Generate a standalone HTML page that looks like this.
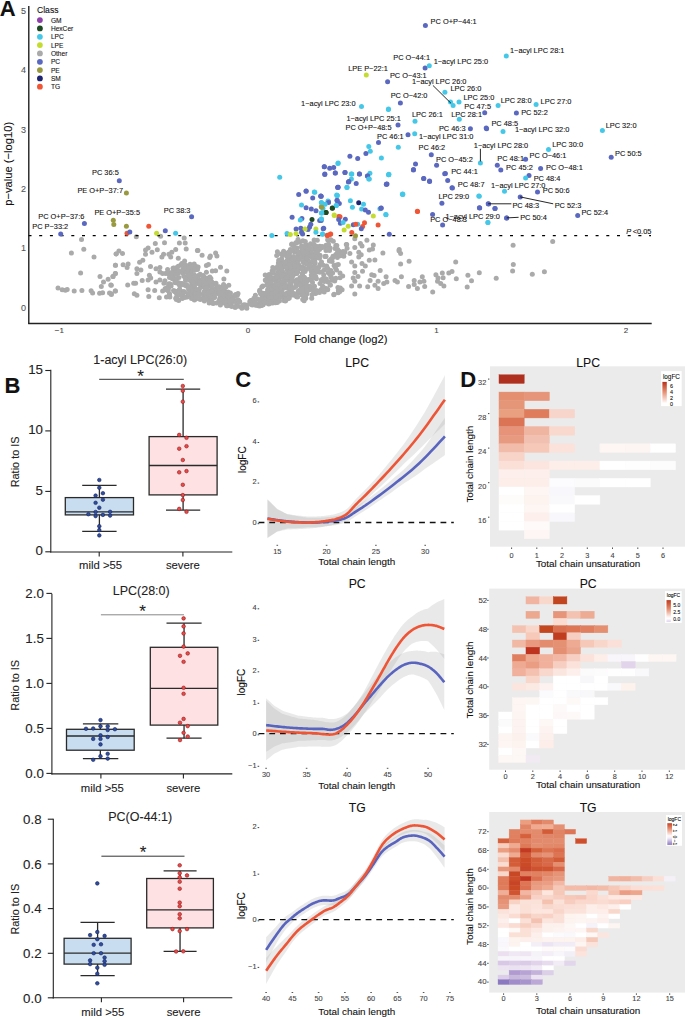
<!DOCTYPE html>
<html><head><meta charset="utf-8"><style>
html,body{margin:0;padding:0;background:#fff;}
svg{display:block;font-family:"Liberation Sans",sans-serif;}
text{stroke-width:0.1px;}
</style></head><body>
<svg width="685" height="1017" viewBox="0 0 685 1017">
<rect width="685" height="1017" fill="#fff"/>
<text x="460.2" y="386.7" font-size="22" font-weight="bold" fill="#111" stroke="#111">D</text>
<rect x="490" y="366.3" width="195" height="180.40000000000003" fill="#ebebeb"/>
<rect x="498.99" y="374.79" width="25.23" height="8.63" fill="#b03020" stroke="#b03020" stroke-width="0.4"/>
<rect x="498.99" y="392.05" width="25.23" height="8.63" fill="#e38f70" stroke="#e38f70" stroke-width="0.4"/>
<rect x="524.22" y="392.05" width="25.23" height="8.63" fill="#e6957a" stroke="#e6957a" stroke-width="0.4"/>
<rect x="498.99" y="400.68" width="25.23" height="8.63" fill="#e59578" stroke="#e59578" stroke-width="0.4"/>
<rect x="498.99" y="409.31" width="25.23" height="8.63" fill="#e8a080" stroke="#e8a080" stroke-width="0.4"/>
<rect x="524.22" y="409.31" width="25.23" height="8.63" fill="#de7c5c" stroke="#de7c5c" stroke-width="0.4"/>
<rect x="549.45" y="409.31" width="25.23" height="8.63" fill="#f8d5ca" stroke="#f8d5ca" stroke-width="0.4"/>
<rect x="498.99" y="417.94" width="25.23" height="8.63" fill="#db7455" stroke="#db7455" stroke-width="0.4"/>
<rect x="498.99" y="426.56" width="25.23" height="8.63" fill="#e6937a" stroke="#e6937a" stroke-width="0.4"/>
<rect x="524.22" y="426.56" width="25.23" height="8.63" fill="#efb5a0" stroke="#efb5a0" stroke-width="0.4"/>
<rect x="549.45" y="426.56" width="25.23" height="8.63" fill="#f9d8ce" stroke="#f9d8ce" stroke-width="0.4"/>
<rect x="498.99" y="435.20" width="25.23" height="8.63" fill="#e89a80" stroke="#e89a80" stroke-width="0.4"/>
<rect x="524.22" y="435.20" width="25.23" height="8.63" fill="#f2c0b0" stroke="#f2c0b0" stroke-width="0.4"/>
<rect x="498.99" y="443.83" width="25.23" height="8.63" fill="#f2bcaa" stroke="#f2bcaa" stroke-width="0.4"/>
<rect x="524.22" y="443.83" width="25.23" height="8.63" fill="#f5c8b8" stroke="#f5c8b8" stroke-width="0.4"/>
<rect x="549.45" y="443.83" width="25.23" height="8.63" fill="#fbe2da" stroke="#fbe2da" stroke-width="0.4"/>
<rect x="599.90" y="443.83" width="25.23" height="8.63" fill="#fdf6f3" stroke="#fdf6f3" stroke-width="0.4"/>
<rect x="625.13" y="443.83" width="25.23" height="8.63" fill="#fdf5f2" stroke="#fdf5f2" stroke-width="0.4"/>
<rect x="650.37" y="443.83" width="25.23" height="8.63" fill="#ffffff" stroke="#ffffff" stroke-width="0.4"/>
<rect x="498.99" y="452.46" width="25.23" height="8.63" fill="#f8d3c8" stroke="#f8d3c8" stroke-width="0.4"/>
<rect x="498.99" y="461.09" width="25.23" height="8.63" fill="#fbe0d8" stroke="#fbe0d8" stroke-width="0.4"/>
<rect x="524.22" y="461.09" width="25.23" height="8.63" fill="#fbe5de" stroke="#fbe5de" stroke-width="0.4"/>
<rect x="549.45" y="461.09" width="25.23" height="8.63" fill="#fdeee9" stroke="#fdeee9" stroke-width="0.4"/>
<rect x="574.67" y="461.09" width="25.23" height="8.63" fill="#fdeee9" stroke="#fdeee9" stroke-width="0.4"/>
<rect x="599.90" y="461.09" width="25.23" height="8.63" fill="#ffffff" stroke="#ffffff" stroke-width="0.4"/>
<rect x="625.13" y="461.09" width="25.23" height="8.63" fill="#fefefe" stroke="#fefefe" stroke-width="0.4"/>
<rect x="650.37" y="461.09" width="25.23" height="8.63" fill="#fcfcfc" stroke="#fcfcfc" stroke-width="0.4"/>
<rect x="498.99" y="469.72" width="25.23" height="8.63" fill="#fdf0ec" stroke="#fdf0ec" stroke-width="0.4"/>
<rect x="524.22" y="469.72" width="25.23" height="8.63" fill="#fdf0ec" stroke="#fdf0ec" stroke-width="0.4"/>
<rect x="498.99" y="478.35" width="25.23" height="8.63" fill="#fdeee9" stroke="#fdeee9" stroke-width="0.4"/>
<rect x="524.22" y="478.35" width="25.23" height="8.63" fill="#fdeeea" stroke="#fdeeea" stroke-width="0.4"/>
<rect x="549.45" y="478.35" width="25.23" height="8.63" fill="#fcfbfd" stroke="#fcfbfd" stroke-width="0.4"/>
<rect x="574.67" y="478.35" width="25.23" height="8.63" fill="#fbfbfc" stroke="#fbfbfc" stroke-width="0.4"/>
<rect x="599.90" y="478.35" width="25.23" height="8.63" fill="#ffffff" stroke="#ffffff" stroke-width="0.4"/>
<rect x="625.13" y="478.35" width="25.23" height="8.63" fill="#ffffff" stroke="#ffffff" stroke-width="0.4"/>
<rect x="498.99" y="486.98" width="25.23" height="8.63" fill="#ffffff" stroke="#ffffff" stroke-width="0.4"/>
<rect x="524.22" y="486.98" width="25.23" height="8.63" fill="#fdf6f3" stroke="#fdf6f3" stroke-width="0.4"/>
<rect x="549.45" y="486.98" width="25.23" height="8.63" fill="#f8f8fc" stroke="#f8f8fc" stroke-width="0.4"/>
<rect x="498.99" y="495.61" width="25.23" height="8.63" fill="#fefcfa" stroke="#fefcfa" stroke-width="0.4"/>
<rect x="524.22" y="495.61" width="25.23" height="8.63" fill="#fdf3ef" stroke="#fdf3ef" stroke-width="0.4"/>
<rect x="549.45" y="495.61" width="25.23" height="8.63" fill="#f9f9fc" stroke="#f9f9fc" stroke-width="0.4"/>
<rect x="574.67" y="495.61" width="25.23" height="8.63" fill="#ffffff" stroke="#ffffff" stroke-width="0.4"/>
<rect x="498.99" y="504.24" width="25.23" height="8.63" fill="#ffffff" stroke="#ffffff" stroke-width="0.4"/>
<rect x="524.22" y="504.24" width="25.23" height="8.63" fill="#fdf6f3" stroke="#fdf6f3" stroke-width="0.4"/>
<rect x="549.45" y="504.24" width="25.23" height="8.63" fill="#ffffff" stroke="#ffffff" stroke-width="0.4"/>
<rect x="498.99" y="512.87" width="25.23" height="8.63" fill="#ffffff" stroke="#ffffff" stroke-width="0.4"/>
<rect x="524.22" y="512.87" width="25.23" height="8.63" fill="#fdf0ec" stroke="#fdf0ec" stroke-width="0.4"/>
<rect x="549.45" y="512.87" width="25.23" height="8.63" fill="#f8f8fc" stroke="#f8f8fc" stroke-width="0.4"/>
<rect x="498.99" y="521.50" width="25.23" height="8.63" fill="#ffffff" stroke="#ffffff" stroke-width="0.4"/>
<rect x="524.22" y="521.50" width="25.23" height="8.63" fill="#fefafa" stroke="#fefafa" stroke-width="0.4"/>
<rect x="524.22" y="530.12" width="25.23" height="8.63" fill="#fdf6f4" stroke="#fdf6f4" stroke-width="0.4"/>
<text x="588.1" y="366.6" font-size="12.2" fill="#111" stroke="#111" text-anchor="middle">LPC</text>
<text x="486.3" y="385.2" font-size="7.4" fill="#444" stroke="#444" text-anchor="end">32</text>
<line x1="488" y1="379.1" x2="489.4" y2="379.1" stroke="#444" stroke-width="1"/>
<text x="486.3" y="419.7" font-size="7.4" fill="#444" stroke="#444" text-anchor="end">28</text>
<line x1="488" y1="413.6" x2="489.4" y2="413.6" stroke="#444" stroke-width="1"/>
<text x="486.3" y="454.2" font-size="7.4" fill="#444" stroke="#444" text-anchor="end">24</text>
<line x1="488" y1="448.1" x2="489.4" y2="448.1" stroke="#444" stroke-width="1"/>
<text x="486.3" y="488.7" font-size="7.4" fill="#444" stroke="#444" text-anchor="end">20</text>
<line x1="488" y1="482.7" x2="489.4" y2="482.7" stroke="#444" stroke-width="1"/>
<text x="486.3" y="523.2" font-size="7.4" fill="#444" stroke="#444" text-anchor="end">16</text>
<line x1="488" y1="517.2" x2="489.4" y2="517.2" stroke="#444" stroke-width="1"/>
<line x1="511.6" y1="547.5" x2="511.6" y2="548.9000000000001" stroke="#444" stroke-width="1"/>
<text x="511.6" y="557.8" font-size="7.3" fill="#444" stroke="#444" text-anchor="middle">0</text>
<line x1="536.8" y1="547.5" x2="536.8" y2="548.9000000000001" stroke="#444" stroke-width="1"/>
<text x="536.8" y="557.8" font-size="7.3" fill="#444" stroke="#444" text-anchor="middle">1</text>
<line x1="562.1" y1="547.5" x2="562.1" y2="548.9000000000001" stroke="#444" stroke-width="1"/>
<text x="562.1" y="557.8" font-size="7.3" fill="#444" stroke="#444" text-anchor="middle">2</text>
<line x1="587.3" y1="547.5" x2="587.3" y2="548.9000000000001" stroke="#444" stroke-width="1"/>
<text x="587.3" y="557.8" font-size="7.3" fill="#444" stroke="#444" text-anchor="middle">3</text>
<line x1="612.5" y1="547.5" x2="612.5" y2="548.9000000000001" stroke="#444" stroke-width="1"/>
<text x="612.5" y="557.8" font-size="7.3" fill="#444" stroke="#444" text-anchor="middle">4</text>
<line x1="637.8" y1="547.5" x2="637.8" y2="548.9000000000001" stroke="#444" stroke-width="1"/>
<text x="637.8" y="557.8" font-size="7.3" fill="#444" stroke="#444" text-anchor="middle">5</text>
<line x1="663.0" y1="547.5" x2="663.0" y2="548.9000000000001" stroke="#444" stroke-width="1"/>
<text x="663.0" y="557.8" font-size="7.3" fill="#444" stroke="#444" text-anchor="middle">6</text>
<text x="588.1" y="567.0" font-size="9.9" fill="#111" stroke="#111" text-anchor="middle">Total chain unsaturation</text>
<text transform="translate(473,464.2) rotate(-90)" font-size="9.9" fill="#111" stroke="#111" text-anchor="middle">Total chain length</text>
<rect x="661.1" y="371.1" width="20.6" height="35.0" fill="#ffffff"/><text x="662.9" y="378.5" font-size="6.4" fill="#111" stroke="#111">logFC</text><defs><linearGradient id="g371" x1="0" y1="0" x2="0" y2="1"><stop offset="0" stop-color="#b8301a"/><stop offset="0.45" stop-color="#e48a6c"/><stop offset="1" stop-color="#fff8f5"/></linearGradient></defs><rect x="662.4" y="381.9" width="4.4" height="20.9" fill="url(#g371)"/><text x="669.9" y="387.9" font-size="5.4" fill="#111" stroke="#111">6</text><text x="669.9" y="394.0" font-size="5.4" fill="#111" stroke="#111">4</text><text x="669.9" y="400.1" font-size="5.4" fill="#111" stroke="#111">2</text><text x="669.9" y="406.0" font-size="5.4" fill="#111" stroke="#111">0</text>
<rect x="489.2" y="588.6" width="195.8" height="181.10000000000002" fill="#ebebeb"/>
<rect x="525.97" y="596.80" width="13.65" height="7.20" fill="#f0b4a0" stroke="#f0b4a0" stroke-width="0.4"/>
<rect x="539.62" y="596.80" width="13.65" height="7.20" fill="#f9d8cc" stroke="#f9d8cc" stroke-width="0.4"/>
<rect x="553.27" y="596.80" width="13.65" height="7.20" fill="#c04520" stroke="#c04520" stroke-width="0.4"/>
<rect x="525.97" y="611.20" width="13.65" height="7.20" fill="#eda890" stroke="#eda890" stroke-width="0.4"/>
<rect x="553.27" y="611.20" width="13.65" height="7.20" fill="#e6957b" stroke="#e6957b" stroke-width="0.4"/>
<rect x="566.92" y="611.20" width="13.65" height="7.20" fill="#f4c2b0" stroke="#f4c2b0" stroke-width="0.4"/>
<rect x="580.57" y="611.20" width="13.65" height="7.20" fill="#eeab94" stroke="#eeab94" stroke-width="0.4"/>
<rect x="553.27" y="618.40" width="13.65" height="7.20" fill="#fbdcd0" stroke="#fbdcd0" stroke-width="0.4"/>
<rect x="512.32" y="625.60" width="13.65" height="7.20" fill="#f4c2b0" stroke="#f4c2b0" stroke-width="0.4"/>
<rect x="525.97" y="625.60" width="13.65" height="7.20" fill="#f9d6ca" stroke="#f9d6ca" stroke-width="0.4"/>
<rect x="539.62" y="625.60" width="13.65" height="7.20" fill="#c3471f" stroke="#c3471f" stroke-width="0.4"/>
<rect x="553.27" y="625.60" width="13.65" height="7.20" fill="#d9704f" stroke="#d9704f" stroke-width="0.4"/>
<rect x="566.92" y="625.60" width="13.65" height="7.20" fill="#dc7655" stroke="#dc7655" stroke-width="0.4"/>
<rect x="580.57" y="625.60" width="13.65" height="7.20" fill="#df7f60" stroke="#df7f60" stroke-width="0.4"/>
<rect x="594.22" y="625.60" width="13.65" height="7.20" fill="#e49070" stroke="#e49070" stroke-width="0.4"/>
<rect x="525.97" y="632.80" width="13.65" height="7.20" fill="#f6c9b9" stroke="#f6c9b9" stroke-width="0.4"/>
<rect x="553.27" y="632.80" width="13.65" height="7.20" fill="#c03d20" stroke="#c03d20" stroke-width="0.4"/>
<rect x="566.92" y="632.80" width="13.65" height="7.20" fill="#f7cfc2" stroke="#f7cfc2" stroke-width="0.4"/>
<rect x="512.32" y="640.00" width="13.65" height="7.20" fill="#f1b8a4" stroke="#f1b8a4" stroke-width="0.4"/>
<rect x="525.97" y="640.00" width="13.65" height="7.20" fill="#e8997f" stroke="#e8997f" stroke-width="0.4"/>
<rect x="539.62" y="640.00" width="13.65" height="7.20" fill="#e48c6e" stroke="#e48c6e" stroke-width="0.4"/>
<rect x="553.27" y="640.00" width="13.65" height="7.20" fill="#e49073" stroke="#e49073" stroke-width="0.4"/>
<rect x="566.92" y="640.00" width="13.65" height="7.20" fill="#eeaa92" stroke="#eeaa92" stroke-width="0.4"/>
<rect x="580.57" y="640.00" width="13.65" height="7.20" fill="#f5c8b8" stroke="#f5c8b8" stroke-width="0.4"/>
<rect x="594.22" y="640.00" width="13.65" height="7.20" fill="#f9d6ca" stroke="#f9d6ca" stroke-width="0.4"/>
<rect x="607.88" y="640.00" width="13.65" height="7.20" fill="#fae0d8" stroke="#fae0d8" stroke-width="0.4"/>
<rect x="525.97" y="647.20" width="13.65" height="7.20" fill="#bd3320" stroke="#bd3320" stroke-width="0.4"/>
<rect x="553.27" y="647.20" width="13.65" height="7.20" fill="#e48e72" stroke="#e48e72" stroke-width="0.4"/>
<rect x="566.92" y="647.20" width="13.65" height="7.20" fill="#eba48c" stroke="#eba48c" stroke-width="0.4"/>
<rect x="512.32" y="654.40" width="13.65" height="7.20" fill="#e07f60" stroke="#e07f60" stroke-width="0.4"/>
<rect x="525.97" y="654.40" width="13.65" height="7.20" fill="#eea890" stroke="#eea890" stroke-width="0.4"/>
<rect x="539.62" y="654.40" width="13.65" height="7.20" fill="#f0b09a" stroke="#f0b09a" stroke-width="0.4"/>
<rect x="553.27" y="654.40" width="13.65" height="7.20" fill="#f2b8a5" stroke="#f2b8a5" stroke-width="0.4"/>
<rect x="566.92" y="654.40" width="13.65" height="7.20" fill="#f7d0c3" stroke="#f7d0c3" stroke-width="0.4"/>
<rect x="580.57" y="654.40" width="13.65" height="7.20" fill="#fbe3dc" stroke="#fbe3dc" stroke-width="0.4"/>
<rect x="594.22" y="654.40" width="13.65" height="7.20" fill="#fdeee9" stroke="#fdeee9" stroke-width="0.4"/>
<rect x="607.88" y="654.40" width="13.65" height="7.20" fill="#f8f6fb" stroke="#f8f6fb" stroke-width="0.4"/>
<rect x="621.52" y="654.40" width="13.65" height="7.20" fill="#f8f6fb" stroke="#f8f6fb" stroke-width="0.4"/>
<rect x="635.17" y="654.40" width="13.65" height="7.20" fill="#fefefe" stroke="#fefefe" stroke-width="0.4"/>
<rect x="648.82" y="654.40" width="13.65" height="7.20" fill="#fdf6f3" stroke="#fdf6f3" stroke-width="0.4"/>
<rect x="662.47" y="654.40" width="13.65" height="7.20" fill="#fdf6f3" stroke="#fdf6f3" stroke-width="0.4"/>
<rect x="512.32" y="661.60" width="13.65" height="7.20" fill="#efaa94" stroke="#efaa94" stroke-width="0.4"/>
<rect x="525.97" y="661.60" width="13.65" height="7.20" fill="#eb9d83" stroke="#eb9d83" stroke-width="0.4"/>
<rect x="539.62" y="661.60" width="13.65" height="7.20" fill="#f0b09c" stroke="#f0b09c" stroke-width="0.4"/>
<rect x="553.27" y="661.60" width="13.65" height="7.20" fill="#f7cfc2" stroke="#f7cfc2" stroke-width="0.4"/>
<rect x="566.92" y="661.60" width="13.65" height="7.20" fill="#fbe3dc" stroke="#fbe3dc" stroke-width="0.4"/>
<rect x="621.52" y="661.60" width="13.65" height="7.20" fill="#e2d4ea" stroke="#e2d4ea" stroke-width="0.4"/>
<rect x="512.32" y="668.80" width="13.65" height="7.20" fill="#f0b09c" stroke="#f0b09c" stroke-width="0.4"/>
<rect x="525.97" y="668.80" width="13.65" height="7.20" fill="#f4c0b0" stroke="#f4c0b0" stroke-width="0.4"/>
<rect x="539.62" y="668.80" width="13.65" height="7.20" fill="#f8d8cc" stroke="#f8d8cc" stroke-width="0.4"/>
<rect x="553.27" y="668.80" width="13.65" height="7.20" fill="#fbe6df" stroke="#fbe6df" stroke-width="0.4"/>
<rect x="566.92" y="668.80" width="13.65" height="7.20" fill="#fdf0ec" stroke="#fdf0ec" stroke-width="0.4"/>
<rect x="580.57" y="668.80" width="13.65" height="7.20" fill="#fcfbfc" stroke="#fcfbfc" stroke-width="0.4"/>
<rect x="594.22" y="668.80" width="13.65" height="7.20" fill="#fdfcfd" stroke="#fdfcfd" stroke-width="0.4"/>
<rect x="607.88" y="668.80" width="13.65" height="7.20" fill="#fefefe" stroke="#fefefe" stroke-width="0.4"/>
<rect x="621.52" y="668.80" width="13.65" height="7.20" fill="#fefefe" stroke="#fefefe" stroke-width="0.4"/>
<rect x="635.17" y="668.80" width="13.65" height="7.20" fill="#f9f8fb" stroke="#f9f8fb" stroke-width="0.4"/>
<rect x="525.97" y="676.00" width="13.65" height="7.20" fill="#f9d6ca" stroke="#f9d6ca" stroke-width="0.4"/>
<rect x="553.27" y="676.00" width="13.65" height="7.20" fill="#ffffff" stroke="#ffffff" stroke-width="0.4"/>
<rect x="566.92" y="676.00" width="13.65" height="7.20" fill="#ffffff" stroke="#ffffff" stroke-width="0.4"/>
<rect x="580.57" y="676.00" width="13.65" height="7.20" fill="#f7f7fa" stroke="#f7f7fa" stroke-width="0.4"/>
<rect x="594.22" y="676.00" width="13.65" height="7.20" fill="#ffffff" stroke="#ffffff" stroke-width="0.4"/>
<rect x="512.32" y="683.20" width="13.65" height="7.20" fill="#fbe5de" stroke="#fbe5de" stroke-width="0.4"/>
<rect x="525.97" y="683.20" width="13.65" height="7.20" fill="#fbe9e3" stroke="#fbe9e3" stroke-width="0.4"/>
<rect x="539.62" y="683.20" width="13.65" height="7.20" fill="#fdf2ef" stroke="#fdf2ef" stroke-width="0.4"/>
<rect x="553.27" y="683.20" width="13.65" height="7.20" fill="#ffffff" stroke="#ffffff" stroke-width="0.4"/>
<rect x="566.92" y="683.20" width="13.65" height="7.20" fill="#ffffff" stroke="#ffffff" stroke-width="0.4"/>
<rect x="580.57" y="683.20" width="13.65" height="7.20" fill="#ffffff" stroke="#ffffff" stroke-width="0.4"/>
<rect x="594.22" y="683.20" width="13.65" height="7.20" fill="#ffffff" stroke="#ffffff" stroke-width="0.4"/>
<rect x="607.88" y="683.20" width="13.65" height="7.20" fill="#f9f8fb" stroke="#f9f8fb" stroke-width="0.4"/>
<rect x="621.52" y="683.20" width="13.65" height="7.20" fill="#fdf2ec" stroke="#fdf2ec" stroke-width="0.4"/>
<rect x="539.62" y="690.40" width="13.65" height="7.20" fill="#fbfbfd" stroke="#fbfbfd" stroke-width="0.4"/>
<rect x="553.27" y="690.40" width="13.65" height="7.20" fill="#ffffff" stroke="#ffffff" stroke-width="0.4"/>
<rect x="566.92" y="690.40" width="13.65" height="7.20" fill="#f9f8fb" stroke="#f9f8fb" stroke-width="0.4"/>
<rect x="580.57" y="690.40" width="13.65" height="7.20" fill="#f8f8fa" stroke="#f8f8fa" stroke-width="0.4"/>
<rect x="512.32" y="697.60" width="13.65" height="7.20" fill="#fdf6f3" stroke="#fdf6f3" stroke-width="0.4"/>
<rect x="525.97" y="697.60" width="13.65" height="7.20" fill="#fdf7f4" stroke="#fdf7f4" stroke-width="0.4"/>
<rect x="539.62" y="697.60" width="13.65" height="7.20" fill="#ffffff" stroke="#ffffff" stroke-width="0.4"/>
<rect x="553.27" y="697.60" width="13.65" height="7.20" fill="#ffffff" stroke="#ffffff" stroke-width="0.4"/>
<rect x="566.92" y="697.60" width="13.65" height="7.20" fill="#fdf9f7" stroke="#fdf9f7" stroke-width="0.4"/>
<rect x="580.57" y="697.60" width="13.65" height="7.20" fill="#ffffff" stroke="#ffffff" stroke-width="0.4"/>
<rect x="594.22" y="697.60" width="13.65" height="7.20" fill="#ffffff" stroke="#ffffff" stroke-width="0.4"/>
<rect x="512.32" y="704.80" width="13.65" height="7.20" fill="#fdf6f3" stroke="#fdf6f3" stroke-width="0.4"/>
<rect x="525.97" y="704.80" width="13.65" height="7.20" fill="#ffffff" stroke="#ffffff" stroke-width="0.4"/>
<rect x="539.62" y="704.80" width="13.65" height="7.20" fill="#ffffff" stroke="#ffffff" stroke-width="0.4"/>
<rect x="553.27" y="704.80" width="13.65" height="7.20" fill="#fdf9f8" stroke="#fdf9f8" stroke-width="0.4"/>
<rect x="566.92" y="704.80" width="13.65" height="7.20" fill="#ffffff" stroke="#ffffff" stroke-width="0.4"/>
<rect x="580.57" y="704.80" width="13.65" height="7.20" fill="#ffffff" stroke="#ffffff" stroke-width="0.4"/>
<rect x="498.68" y="712.00" width="13.65" height="7.20" fill="#ffffff" stroke="#ffffff" stroke-width="0.4"/>
<rect x="512.32" y="712.00" width="13.65" height="7.20" fill="#fdf5f2" stroke="#fdf5f2" stroke-width="0.4"/>
<rect x="525.97" y="712.00" width="13.65" height="7.20" fill="#ffffff" stroke="#ffffff" stroke-width="0.4"/>
<rect x="539.62" y="712.00" width="13.65" height="7.20" fill="#ffffff" stroke="#ffffff" stroke-width="0.4"/>
<rect x="553.27" y="712.00" width="13.65" height="7.20" fill="#fdf8f7" stroke="#fdf8f7" stroke-width="0.4"/>
<rect x="566.92" y="712.00" width="13.65" height="7.20" fill="#fdf9f8" stroke="#fdf9f8" stroke-width="0.4"/>
<rect x="580.57" y="712.00" width="13.65" height="7.20" fill="#ffffff" stroke="#ffffff" stroke-width="0.4"/>
<rect x="498.68" y="719.20" width="13.65" height="7.20" fill="#fbfbfc" stroke="#fbfbfc" stroke-width="0.4"/>
<rect x="512.32" y="719.20" width="13.65" height="7.20" fill="#fdf3f0" stroke="#fdf3f0" stroke-width="0.4"/>
<rect x="525.97" y="719.20" width="13.65" height="7.20" fill="#ffffff" stroke="#ffffff" stroke-width="0.4"/>
<rect x="539.62" y="719.20" width="13.65" height="7.20" fill="#fdf8f6" stroke="#fdf8f6" stroke-width="0.4"/>
<rect x="553.27" y="719.20" width="13.65" height="7.20" fill="#ffffff" stroke="#ffffff" stroke-width="0.4"/>
<rect x="498.68" y="726.40" width="13.65" height="7.20" fill="#ffffff" stroke="#ffffff" stroke-width="0.4"/>
<rect x="512.32" y="726.40" width="13.65" height="7.20" fill="#fdf3f0" stroke="#fdf3f0" stroke-width="0.4"/>
<rect x="525.97" y="726.40" width="13.65" height="7.20" fill="#ffffff" stroke="#ffffff" stroke-width="0.4"/>
<rect x="539.62" y="726.40" width="13.65" height="7.20" fill="#fdf4f1" stroke="#fdf4f1" stroke-width="0.4"/>
<rect x="553.27" y="726.40" width="13.65" height="7.20" fill="#ffffff" stroke="#ffffff" stroke-width="0.4"/>
<rect x="498.68" y="733.60" width="13.65" height="7.20" fill="#fdf5f2" stroke="#fdf5f2" stroke-width="0.4"/>
<rect x="512.32" y="733.60" width="13.65" height="7.20" fill="#fdf1ed" stroke="#fdf1ed" stroke-width="0.4"/>
<rect x="525.97" y="733.60" width="13.65" height="7.20" fill="#fafafc" stroke="#fafafc" stroke-width="0.4"/>
<rect x="539.62" y="733.60" width="13.65" height="7.20" fill="#fdf1ed" stroke="#fdf1ed" stroke-width="0.4"/>
<rect x="498.68" y="740.80" width="13.65" height="7.20" fill="#fdf6f3" stroke="#fdf6f3" stroke-width="0.4"/>
<rect x="512.32" y="740.80" width="13.65" height="7.20" fill="#fdf3ef" stroke="#fdf3ef" stroke-width="0.4"/>
<rect x="525.97" y="740.80" width="13.65" height="7.20" fill="#ffffff" stroke="#ffffff" stroke-width="0.4"/>
<rect x="539.62" y="740.80" width="13.65" height="7.20" fill="#fdeee9" stroke="#fdeee9" stroke-width="0.4"/>
<rect x="498.68" y="748.00" width="13.65" height="7.20" fill="#ffffff" stroke="#ffffff" stroke-width="0.4"/>
<rect x="512.32" y="748.00" width="13.65" height="7.20" fill="#fdf7f5" stroke="#fdf7f5" stroke-width="0.4"/>
<rect x="498.68" y="755.20" width="13.65" height="7.20" fill="#fdf8f6" stroke="#fdf8f6" stroke-width="0.4"/>
<rect x="512.32" y="755.20" width="13.65" height="7.20" fill="#fdf8f6" stroke="#fdf8f6" stroke-width="0.4"/>
<rect x="525.97" y="755.20" width="13.65" height="7.20" fill="#f1eaf3" stroke="#f1eaf3" stroke-width="0.4"/>
<text x="588.1" y="588.1" font-size="12.2" fill="#111" stroke="#111" text-anchor="middle">PC</text>
<text x="487.2" y="602.9" font-size="7.9" fill="#444" stroke="#444" text-anchor="end">52</text>
<line x1="487.2" y1="600.4" x2="488.59999999999997" y2="600.4" stroke="#444" stroke-width="1"/>
<text x="487.2" y="631.7" font-size="7.9" fill="#444" stroke="#444" text-anchor="end">48</text>
<line x1="487.2" y1="629.2" x2="488.59999999999997" y2="629.2" stroke="#444" stroke-width="1"/>
<text x="487.2" y="660.5" font-size="7.9" fill="#444" stroke="#444" text-anchor="end">44</text>
<line x1="487.2" y1="658.0" x2="488.59999999999997" y2="658.0" stroke="#444" stroke-width="1"/>
<text x="487.2" y="689.3" font-size="7.9" fill="#444" stroke="#444" text-anchor="end">40</text>
<line x1="487.2" y1="686.8" x2="488.59999999999997" y2="686.8" stroke="#444" stroke-width="1"/>
<text x="487.2" y="718.1" font-size="7.9" fill="#444" stroke="#444" text-anchor="end">36</text>
<line x1="487.2" y1="715.6" x2="488.59999999999997" y2="715.6" stroke="#444" stroke-width="1"/>
<text x="487.2" y="746.9" font-size="7.9" fill="#444" stroke="#444" text-anchor="end">32</text>
<line x1="487.2" y1="744.4" x2="488.59999999999997" y2="744.4" stroke="#444" stroke-width="1"/>
<line x1="505.5" y1="770.5" x2="505.5" y2="771.9000000000001" stroke="#444" stroke-width="1"/>
<text x="505.5" y="778.9" font-size="7.3" fill="#444" stroke="#444" text-anchor="middle">0</text>
<line x1="532.8" y1="770.5" x2="532.8" y2="771.9000000000001" stroke="#444" stroke-width="1"/>
<text x="532.8" y="778.9" font-size="7.3" fill="#444" stroke="#444" text-anchor="middle">2</text>
<line x1="560.1" y1="770.5" x2="560.1" y2="771.9000000000001" stroke="#444" stroke-width="1"/>
<text x="560.1" y="778.9" font-size="7.3" fill="#444" stroke="#444" text-anchor="middle">4</text>
<line x1="587.4" y1="770.5" x2="587.4" y2="771.9000000000001" stroke="#444" stroke-width="1"/>
<text x="587.4" y="778.9" font-size="7.3" fill="#444" stroke="#444" text-anchor="middle">6</text>
<line x1="614.7" y1="770.5" x2="614.7" y2="771.9000000000001" stroke="#444" stroke-width="1"/>
<text x="614.7" y="778.9" font-size="7.3" fill="#444" stroke="#444" text-anchor="middle">8</text>
<line x1="642.0" y1="770.5" x2="642.0" y2="771.9000000000001" stroke="#444" stroke-width="1"/>
<text x="642.0" y="778.9" font-size="7.3" fill="#444" stroke="#444" text-anchor="middle">10</text>
<line x1="669.3" y1="770.5" x2="669.3" y2="771.9000000000001" stroke="#444" stroke-width="1"/>
<text x="669.3" y="778.9" font-size="7.3" fill="#444" stroke="#444" text-anchor="middle">12</text>
<text x="588.1" y="787.8" font-size="9.9" fill="#111" stroke="#111" text-anchor="middle">Total chain unsaturation</text>
<text transform="translate(473,680) rotate(-90)" font-size="9.9" fill="#111" stroke="#111" text-anchor="middle">Total chain length</text>
<rect x="665" y="591.1" width="16.7" height="31.8" fill="#ffffff"/><text x="666.8" y="597" font-size="5.0" fill="#111" stroke="#111">logFC</text><defs><linearGradient id="g591" x1="0" y1="0" x2="0" y2="1"><stop offset="0" stop-color="#c03a1c"/><stop offset="0.4" stop-color="#e48a6c"/><stop offset="0.78" stop-color="#fff5f2"/><stop offset="0.86" stop-color="#ffffff"/><stop offset="1" stop-color="#dccbee"/></linearGradient></defs><rect x="666.5" y="600.1" width="4.4" height="21.7" fill="url(#g591)"/><text x="673.3" y="607.3" font-size="5.0" fill="#111" stroke="#111">5.0</text><text x="673.3" y="613.7" font-size="5.0" fill="#111" stroke="#111">2.5</text><text x="673.3" y="620.5" font-size="5.0" fill="#111" stroke="#111">0.0</text>
<rect x="489.2" y="812" width="195.8" height="180.60000000000002" fill="#ebebeb"/>
<rect x="520.21" y="819.95" width="11.07" height="4.70" fill="#eb9e80" stroke="#eb9e80" stroke-width="0.4"/>
<rect x="531.28" y="819.95" width="11.07" height="4.70" fill="#e07c5c" stroke="#e07c5c" stroke-width="0.4"/>
<rect x="542.35" y="819.95" width="11.07" height="4.70" fill="#e38a6c" stroke="#e38a6c" stroke-width="0.4"/>
<rect x="520.21" y="824.65" width="11.07" height="4.70" fill="#e28564" stroke="#e28564" stroke-width="0.4"/>
<rect x="531.28" y="824.65" width="11.07" height="4.70" fill="#f0aa90" stroke="#f0aa90" stroke-width="0.4"/>
<rect x="542.35" y="824.65" width="11.07" height="4.70" fill="#f0ae95" stroke="#f0ae95" stroke-width="0.4"/>
<rect x="553.42" y="824.65" width="11.07" height="4.70" fill="#e59072" stroke="#e59072" stroke-width="0.4"/>
<rect x="509.14" y="829.35" width="11.07" height="4.70" fill="#e08262" stroke="#e08262" stroke-width="0.4"/>
<rect x="520.21" y="829.35" width="11.07" height="4.70" fill="#e48a6c" stroke="#e48a6c" stroke-width="0.4"/>
<rect x="531.28" y="829.35" width="11.07" height="4.70" fill="#e38b6d" stroke="#e38b6d" stroke-width="0.4"/>
<rect x="542.35" y="829.35" width="11.07" height="4.70" fill="#d25c38" stroke="#d25c38" stroke-width="0.4"/>
<rect x="553.42" y="829.35" width="11.07" height="4.70" fill="#e08466" stroke="#e08466" stroke-width="0.4"/>
<rect x="564.49" y="829.35" width="11.07" height="4.70" fill="#dd7656" stroke="#dd7656" stroke-width="0.4"/>
<rect x="509.14" y="834.05" width="11.07" height="4.70" fill="#e08060" stroke="#e08060" stroke-width="0.4"/>
<rect x="520.21" y="834.05" width="11.07" height="4.70" fill="#d6603c" stroke="#d6603c" stroke-width="0.4"/>
<rect x="531.28" y="834.05" width="11.07" height="4.70" fill="#e38a6c" stroke="#e38a6c" stroke-width="0.4"/>
<rect x="542.35" y="834.05" width="11.07" height="4.70" fill="#e18769" stroke="#e18769" stroke-width="0.4"/>
<rect x="553.42" y="834.05" width="11.07" height="4.70" fill="#e08566" stroke="#e08566" stroke-width="0.4"/>
<rect x="498.06" y="838.75" width="11.07" height="4.70" fill="#d4603c" stroke="#d4603c" stroke-width="0.4"/>
<rect x="509.14" y="838.75" width="11.07" height="4.70" fill="#df7a58" stroke="#df7a58" stroke-width="0.4"/>
<rect x="520.21" y="838.75" width="11.07" height="4.70" fill="#e08262" stroke="#e08262" stroke-width="0.4"/>
<rect x="531.28" y="838.75" width="11.07" height="4.70" fill="#e38a6c" stroke="#e38a6c" stroke-width="0.4"/>
<rect x="542.35" y="838.75" width="11.07" height="4.70" fill="#e38b6d" stroke="#e38b6d" stroke-width="0.4"/>
<rect x="553.42" y="838.75" width="11.07" height="4.70" fill="#e48c6e" stroke="#e48c6e" stroke-width="0.4"/>
<rect x="575.56" y="838.75" width="11.07" height="4.70" fill="#cf4e2c" stroke="#cf4e2c" stroke-width="0.4"/>
<rect x="498.06" y="843.45" width="11.07" height="4.70" fill="#f7cfc0" stroke="#f7cfc0" stroke-width="0.4"/>
<rect x="509.14" y="843.45" width="11.07" height="4.70" fill="#efaa92" stroke="#efaa92" stroke-width="0.4"/>
<rect x="520.21" y="843.45" width="11.07" height="4.70" fill="#de7a58" stroke="#de7a58" stroke-width="0.4"/>
<rect x="531.28" y="843.45" width="11.07" height="4.70" fill="#e48e70" stroke="#e48e70" stroke-width="0.4"/>
<rect x="542.35" y="843.45" width="11.07" height="4.70" fill="#e2896a" stroke="#e2896a" stroke-width="0.4"/>
<rect x="553.42" y="843.45" width="11.07" height="4.70" fill="#e28868" stroke="#e28868" stroke-width="0.4"/>
<rect x="498.06" y="848.15" width="11.07" height="4.70" fill="#eb9e82" stroke="#eb9e82" stroke-width="0.4"/>
<rect x="509.14" y="848.15" width="11.07" height="4.70" fill="#e4896b" stroke="#e4896b" stroke-width="0.4"/>
<rect x="520.21" y="848.15" width="11.07" height="4.70" fill="#c23a22" stroke="#c23a22" stroke-width="0.4"/>
<rect x="531.28" y="848.15" width="11.07" height="4.70" fill="#d4603a" stroke="#d4603a" stroke-width="0.4"/>
<rect x="542.35" y="848.15" width="11.07" height="4.70" fill="#dd7452" stroke="#dd7452" stroke-width="0.4"/>
<rect x="553.42" y="848.15" width="11.07" height="4.70" fill="#da6c4a" stroke="#da6c4a" stroke-width="0.4"/>
<rect x="498.06" y="852.85" width="11.07" height="4.70" fill="#f9dbd0" stroke="#f9dbd0" stroke-width="0.4"/>
<rect x="509.14" y="852.85" width="11.07" height="4.70" fill="#efaa92" stroke="#efaa92" stroke-width="0.4"/>
<rect x="520.21" y="852.85" width="11.07" height="4.70" fill="#d35a36" stroke="#d35a36" stroke-width="0.4"/>
<rect x="531.28" y="852.85" width="11.07" height="4.70" fill="#e38a6c" stroke="#e38a6c" stroke-width="0.4"/>
<rect x="542.35" y="852.85" width="11.07" height="4.70" fill="#e69276" stroke="#e69276" stroke-width="0.4"/>
<rect x="553.42" y="852.85" width="11.07" height="4.70" fill="#dd7452" stroke="#dd7452" stroke-width="0.4"/>
<rect x="498.06" y="857.55" width="11.07" height="4.70" fill="#f4c0ae" stroke="#f4c0ae" stroke-width="0.4"/>
<rect x="509.14" y="857.55" width="11.07" height="4.70" fill="#d35c38" stroke="#d35c38" stroke-width="0.4"/>
<rect x="520.21" y="857.55" width="11.07" height="4.70" fill="#cc4c28" stroke="#cc4c28" stroke-width="0.4"/>
<rect x="531.28" y="857.55" width="11.07" height="4.70" fill="#d35d38" stroke="#d35d38" stroke-width="0.4"/>
<rect x="542.35" y="857.55" width="11.07" height="4.70" fill="#d96a48" stroke="#d96a48" stroke-width="0.4"/>
<rect x="553.42" y="857.55" width="11.07" height="4.70" fill="#d35c38" stroke="#d35c38" stroke-width="0.4"/>
<rect x="498.06" y="862.25" width="11.07" height="4.70" fill="#f9dcd2" stroke="#f9dcd2" stroke-width="0.4"/>
<rect x="509.14" y="862.25" width="11.07" height="4.70" fill="#d45d38" stroke="#d45d38" stroke-width="0.4"/>
<rect x="520.21" y="862.25" width="11.07" height="4.70" fill="#cb4a26" stroke="#cb4a26" stroke-width="0.4"/>
<rect x="531.28" y="862.25" width="11.07" height="4.70" fill="#d5603c" stroke="#d5603c" stroke-width="0.4"/>
<rect x="542.35" y="862.25" width="11.07" height="4.70" fill="#d86848" stroke="#d86848" stroke-width="0.4"/>
<rect x="553.42" y="862.25" width="11.07" height="4.70" fill="#e58e70" stroke="#e58e70" stroke-width="0.4"/>
<rect x="498.06" y="866.95" width="11.07" height="4.70" fill="#e8967a" stroke="#e8967a" stroke-width="0.4"/>
<rect x="509.14" y="866.95" width="11.07" height="4.70" fill="#e38a6c" stroke="#e38a6c" stroke-width="0.4"/>
<rect x="520.21" y="866.95" width="11.07" height="4.70" fill="#c8462a" stroke="#c8462a" stroke-width="0.4"/>
<rect x="531.28" y="866.95" width="11.07" height="4.70" fill="#cf5230" stroke="#cf5230" stroke-width="0.4"/>
<rect x="542.35" y="866.95" width="11.07" height="4.70" fill="#d0542f" stroke="#d0542f" stroke-width="0.4"/>
<rect x="553.42" y="866.95" width="11.07" height="4.70" fill="#d86848" stroke="#d86848" stroke-width="0.4"/>
<rect x="498.06" y="871.65" width="11.07" height="4.70" fill="#f9d8cc" stroke="#f9d8cc" stroke-width="0.4"/>
<rect x="509.14" y="871.65" width="11.07" height="4.70" fill="#c84826" stroke="#c84826" stroke-width="0.4"/>
<rect x="520.21" y="871.65" width="11.07" height="4.70" fill="#e08060" stroke="#e08060" stroke-width="0.4"/>
<rect x="531.28" y="871.65" width="11.07" height="4.70" fill="#e08262" stroke="#e08262" stroke-width="0.4"/>
<rect x="542.35" y="871.65" width="11.07" height="4.70" fill="#e28868" stroke="#e28868" stroke-width="0.4"/>
<rect x="553.42" y="871.65" width="11.07" height="4.70" fill="#e69478" stroke="#e69478" stroke-width="0.4"/>
<rect x="498.06" y="876.35" width="11.07" height="4.70" fill="#e07c5c" stroke="#e07c5c" stroke-width="0.4"/>
<rect x="509.14" y="876.35" width="11.07" height="4.70" fill="#cd4e2a" stroke="#cd4e2a" stroke-width="0.4"/>
<rect x="520.21" y="876.35" width="11.07" height="4.70" fill="#c03420" stroke="#c03420" stroke-width="0.4"/>
<rect x="531.28" y="876.35" width="11.07" height="4.70" fill="#dc7050" stroke="#dc7050" stroke-width="0.4"/>
<rect x="542.35" y="876.35" width="11.07" height="4.70" fill="#e69276" stroke="#e69276" stroke-width="0.4"/>
<rect x="553.42" y="876.35" width="11.07" height="4.70" fill="#e89a7e" stroke="#e89a7e" stroke-width="0.4"/>
<rect x="608.77" y="876.35" width="11.07" height="4.70" fill="#f0b4a0" stroke="#f0b4a0" stroke-width="0.4"/>
<rect x="619.84" y="876.35" width="11.07" height="4.70" fill="#f0b09a" stroke="#f0b09a" stroke-width="0.4"/>
<rect x="630.91" y="876.35" width="11.07" height="4.70" fill="#f3bca9" stroke="#f3bca9" stroke-width="0.4"/>
<rect x="641.98" y="876.35" width="11.07" height="4.70" fill="#f7cfc2" stroke="#f7cfc2" stroke-width="0.4"/>
<rect x="653.05" y="876.35" width="11.07" height="4.70" fill="#fbe0d8" stroke="#fbe0d8" stroke-width="0.4"/>
<rect x="664.12" y="876.35" width="11.07" height="4.70" fill="#f5f0f8" stroke="#f5f0f8" stroke-width="0.4"/>
<rect x="498.06" y="881.05" width="11.07" height="4.70" fill="#df7a58" stroke="#df7a58" stroke-width="0.4"/>
<rect x="509.14" y="881.05" width="11.07" height="4.70" fill="#c84426" stroke="#c84426" stroke-width="0.4"/>
<rect x="520.21" y="881.05" width="11.07" height="4.70" fill="#de7656" stroke="#de7656" stroke-width="0.4"/>
<rect x="531.28" y="881.05" width="11.07" height="4.70" fill="#e89a7e" stroke="#e89a7e" stroke-width="0.4"/>
<rect x="542.35" y="881.05" width="11.07" height="4.70" fill="#eb9e84" stroke="#eb9e84" stroke-width="0.4"/>
<rect x="553.42" y="881.05" width="11.07" height="4.70" fill="#f3b8a5" stroke="#f3b8a5" stroke-width="0.4"/>
<rect x="498.06" y="885.75" width="11.07" height="4.70" fill="#df7c5c" stroke="#df7c5c" stroke-width="0.4"/>
<rect x="509.14" y="885.75" width="11.07" height="4.70" fill="#cb4a26" stroke="#cb4a26" stroke-width="0.4"/>
<rect x="520.21" y="885.75" width="11.07" height="4.70" fill="#dc7050" stroke="#dc7050" stroke-width="0.4"/>
<rect x="531.28" y="885.75" width="11.07" height="4.70" fill="#eb9e84" stroke="#eb9e84" stroke-width="0.4"/>
<rect x="542.35" y="885.75" width="11.07" height="4.70" fill="#efaa92" stroke="#efaa92" stroke-width="0.4"/>
<rect x="553.42" y="885.75" width="11.07" height="4.70" fill="#f6c8b8" stroke="#f6c8b8" stroke-width="0.4"/>
<rect x="564.49" y="885.75" width="11.07" height="4.70" fill="#f3bba8" stroke="#f3bba8" stroke-width="0.4"/>
<rect x="575.56" y="885.75" width="11.07" height="4.70" fill="#f3bba8" stroke="#f3bba8" stroke-width="0.4"/>
<rect x="586.63" y="885.75" width="11.07" height="4.70" fill="#f2b8a5" stroke="#f2b8a5" stroke-width="0.4"/>
<rect x="597.70" y="885.75" width="11.07" height="4.70" fill="#f3bca9" stroke="#f3bca9" stroke-width="0.4"/>
<rect x="608.77" y="885.75" width="11.07" height="4.70" fill="#f6c8b8" stroke="#f6c8b8" stroke-width="0.4"/>
<rect x="619.84" y="885.75" width="11.07" height="4.70" fill="#f9d5c9" stroke="#f9d5c9" stroke-width="0.4"/>
<rect x="630.91" y="885.75" width="11.07" height="4.70" fill="#fbdfd6" stroke="#fbdfd6" stroke-width="0.4"/>
<rect x="641.98" y="885.75" width="11.07" height="4.70" fill="#fbe0d8" stroke="#fbe0d8" stroke-width="0.4"/>
<rect x="653.05" y="885.75" width="11.07" height="4.70" fill="#fbe1d8" stroke="#fbe1d8" stroke-width="0.4"/>
<rect x="498.06" y="890.45" width="11.07" height="4.70" fill="#f0ae98" stroke="#f0ae98" stroke-width="0.4"/>
<rect x="509.14" y="890.45" width="11.07" height="4.70" fill="#d05430" stroke="#d05430" stroke-width="0.4"/>
<rect x="520.21" y="890.45" width="11.07" height="4.70" fill="#f2b6a2" stroke="#f2b6a2" stroke-width="0.4"/>
<rect x="531.28" y="890.45" width="11.07" height="4.70" fill="#f6c8b8" stroke="#f6c8b8" stroke-width="0.4"/>
<rect x="542.35" y="890.45" width="11.07" height="4.70" fill="#fce6de" stroke="#fce6de" stroke-width="0.4"/>
<rect x="553.42" y="890.45" width="11.07" height="4.70" fill="#f6c8b8" stroke="#f6c8b8" stroke-width="0.4"/>
<rect x="586.63" y="890.45" width="11.07" height="4.70" fill="#fbd9ce" stroke="#fbd9ce" stroke-width="0.4"/>
<rect x="608.77" y="890.45" width="11.07" height="4.70" fill="#f5c2b0" stroke="#f5c2b0" stroke-width="0.4"/>
<rect x="619.84" y="890.45" width="11.07" height="4.70" fill="#eb9c82" stroke="#eb9c82" stroke-width="0.4"/>
<rect x="630.91" y="890.45" width="11.07" height="4.70" fill="#eda68c" stroke="#eda68c" stroke-width="0.4"/>
<rect x="498.06" y="895.15" width="11.07" height="4.70" fill="#e38a6c" stroke="#e38a6c" stroke-width="0.4"/>
<rect x="509.14" y="895.15" width="11.07" height="4.70" fill="#e38a6c" stroke="#e38a6c" stroke-width="0.4"/>
<rect x="520.21" y="895.15" width="11.07" height="4.70" fill="#eca088" stroke="#eca088" stroke-width="0.4"/>
<rect x="531.28" y="895.15" width="11.07" height="4.70" fill="#f8d2c6" stroke="#f8d2c6" stroke-width="0.4"/>
<rect x="542.35" y="895.15" width="11.07" height="4.70" fill="#f9d6ca" stroke="#f9d6ca" stroke-width="0.4"/>
<rect x="553.42" y="895.15" width="11.07" height="4.70" fill="#f7cec0" stroke="#f7cec0" stroke-width="0.4"/>
<rect x="564.49" y="895.15" width="11.07" height="4.70" fill="#f7c8b8" stroke="#f7c8b8" stroke-width="0.4"/>
<rect x="575.56" y="895.15" width="11.07" height="4.70" fill="#f6c4b4" stroke="#f6c4b4" stroke-width="0.4"/>
<rect x="586.63" y="895.15" width="11.07" height="4.70" fill="#f9d5ca" stroke="#f9d5ca" stroke-width="0.4"/>
<rect x="597.70" y="895.15" width="11.07" height="4.70" fill="#fbe0d8" stroke="#fbe0d8" stroke-width="0.4"/>
<rect x="608.77" y="895.15" width="11.07" height="4.70" fill="#fde8e2" stroke="#fde8e2" stroke-width="0.4"/>
<rect x="619.84" y="895.15" width="11.07" height="4.70" fill="#fde9e3" stroke="#fde9e3" stroke-width="0.4"/>
<rect x="630.91" y="895.15" width="11.07" height="4.70" fill="#fdeae5" stroke="#fdeae5" stroke-width="0.4"/>
<rect x="498.06" y="899.85" width="11.07" height="4.70" fill="#e69276" stroke="#e69276" stroke-width="0.4"/>
<rect x="509.14" y="899.85" width="11.07" height="4.70" fill="#f8d2c4" stroke="#f8d2c4" stroke-width="0.4"/>
<rect x="520.21" y="899.85" width="11.07" height="4.70" fill="#fbe2d9" stroke="#fbe2d9" stroke-width="0.4"/>
<rect x="531.28" y="899.85" width="11.07" height="4.70" fill="#fbe2d9" stroke="#fbe2d9" stroke-width="0.4"/>
<rect x="542.35" y="899.85" width="11.07" height="4.70" fill="#f5c2b0" stroke="#f5c2b0" stroke-width="0.4"/>
<rect x="553.42" y="899.85" width="11.07" height="4.70" fill="#fbe2d9" stroke="#fbe2d9" stroke-width="0.4"/>
<rect x="564.49" y="899.85" width="11.07" height="4.70" fill="#f7cdbf" stroke="#f7cdbf" stroke-width="0.4"/>
<rect x="575.56" y="899.85" width="11.07" height="4.70" fill="#fad8cc" stroke="#fad8cc" stroke-width="0.4"/>
<rect x="586.63" y="899.85" width="11.07" height="4.70" fill="#fad8cc" stroke="#fad8cc" stroke-width="0.4"/>
<rect x="597.70" y="899.85" width="11.07" height="4.70" fill="#fbdcd2" stroke="#fbdcd2" stroke-width="0.4"/>
<rect x="608.77" y="899.85" width="11.07" height="4.70" fill="#f9d6ca" stroke="#f9d6ca" stroke-width="0.4"/>
<rect x="619.84" y="899.85" width="11.07" height="4.70" fill="#f8cfc2" stroke="#f8cfc2" stroke-width="0.4"/>
<rect x="498.06" y="904.55" width="11.07" height="4.70" fill="#e99a7e" stroke="#e99a7e" stroke-width="0.4"/>
<rect x="509.14" y="904.55" width="11.07" height="4.70" fill="#fde9e2" stroke="#fde9e2" stroke-width="0.4"/>
<rect x="520.21" y="904.55" width="11.07" height="4.70" fill="#fbe0d6" stroke="#fbe0d6" stroke-width="0.4"/>
<rect x="531.28" y="904.55" width="11.07" height="4.70" fill="#fce4dc" stroke="#fce4dc" stroke-width="0.4"/>
<rect x="542.35" y="904.55" width="11.07" height="4.70" fill="#f9d8cc" stroke="#f9d8cc" stroke-width="0.4"/>
<rect x="553.42" y="904.55" width="11.07" height="4.70" fill="#fadcd2" stroke="#fadcd2" stroke-width="0.4"/>
<rect x="564.49" y="904.55" width="11.07" height="4.70" fill="#fbdfd6" stroke="#fbdfd6" stroke-width="0.4"/>
<rect x="575.56" y="904.55" width="11.07" height="4.70" fill="#fbe0d8" stroke="#fbe0d8" stroke-width="0.4"/>
<rect x="586.63" y="904.55" width="11.07" height="4.70" fill="#fdeeea" stroke="#fdeeea" stroke-width="0.4"/>
<rect x="597.70" y="904.55" width="11.07" height="4.70" fill="#fde8e2" stroke="#fde8e2" stroke-width="0.4"/>
<rect x="608.77" y="904.55" width="11.07" height="4.70" fill="#fdf0ec" stroke="#fdf0ec" stroke-width="0.4"/>
<rect x="619.84" y="904.55" width="11.07" height="4.70" fill="#ffffff" stroke="#ffffff" stroke-width="0.4"/>
<rect x="498.06" y="909.25" width="11.07" height="4.70" fill="#fbe2da" stroke="#fbe2da" stroke-width="0.4"/>
<rect x="509.14" y="909.25" width="11.07" height="4.70" fill="#fde9e3" stroke="#fde9e3" stroke-width="0.4"/>
<rect x="520.21" y="909.25" width="11.07" height="4.70" fill="#fae0d6" stroke="#fae0d6" stroke-width="0.4"/>
<rect x="531.28" y="909.25" width="11.07" height="4.70" fill="#fce6de" stroke="#fce6de" stroke-width="0.4"/>
<rect x="542.35" y="909.25" width="11.07" height="4.70" fill="#fce6de" stroke="#fce6de" stroke-width="0.4"/>
<rect x="553.42" y="909.25" width="11.07" height="4.70" fill="#f9d6ca" stroke="#f9d6ca" stroke-width="0.4"/>
<rect x="564.49" y="909.25" width="11.07" height="4.70" fill="#fbe3db" stroke="#fbe3db" stroke-width="0.4"/>
<rect x="575.56" y="909.25" width="11.07" height="4.70" fill="#fbe3db" stroke="#fbe3db" stroke-width="0.4"/>
<rect x="586.63" y="909.25" width="11.07" height="4.70" fill="#fdeeea" stroke="#fdeeea" stroke-width="0.4"/>
<rect x="597.70" y="909.25" width="11.07" height="4.70" fill="#fdeeea" stroke="#fdeeea" stroke-width="0.4"/>
<rect x="608.77" y="909.25" width="11.07" height="4.70" fill="#f9d8cc" stroke="#f9d8cc" stroke-width="0.4"/>
<rect x="498.06" y="913.95" width="11.07" height="4.70" fill="#fce9e3" stroke="#fce9e3" stroke-width="0.4"/>
<rect x="509.14" y="913.95" width="11.07" height="4.70" fill="#fbdcd2" stroke="#fbdcd2" stroke-width="0.4"/>
<rect x="520.21" y="913.95" width="11.07" height="4.70" fill="#f6c8b8" stroke="#f6c8b8" stroke-width="0.4"/>
<rect x="531.28" y="913.95" width="11.07" height="4.70" fill="#f9d6ca" stroke="#f9d6ca" stroke-width="0.4"/>
<rect x="542.35" y="913.95" width="11.07" height="4.70" fill="#f9d2c6" stroke="#f9d2c6" stroke-width="0.4"/>
<rect x="553.42" y="913.95" width="11.07" height="4.70" fill="#fbe0d8" stroke="#fbe0d8" stroke-width="0.4"/>
<rect x="564.49" y="913.95" width="11.07" height="4.70" fill="#fdf3ef" stroke="#fdf3ef" stroke-width="0.4"/>
<rect x="575.56" y="913.95" width="11.07" height="4.70" fill="#fdf5f2" stroke="#fdf5f2" stroke-width="0.4"/>
<rect x="586.63" y="913.95" width="11.07" height="4.70" fill="#ffffff" stroke="#ffffff" stroke-width="0.4"/>
<rect x="597.70" y="913.95" width="11.07" height="4.70" fill="#fdf3f0" stroke="#fdf3f0" stroke-width="0.4"/>
<rect x="608.77" y="913.95" width="11.07" height="4.70" fill="#ffffff" stroke="#ffffff" stroke-width="0.4"/>
<rect x="498.06" y="918.65" width="11.07" height="4.70" fill="#fdf0ec" stroke="#fdf0ec" stroke-width="0.4"/>
<rect x="509.14" y="918.65" width="11.07" height="4.70" fill="#ffffff" stroke="#ffffff" stroke-width="0.4"/>
<rect x="520.21" y="918.65" width="11.07" height="4.70" fill="#fbe0d8" stroke="#fbe0d8" stroke-width="0.4"/>
<rect x="531.28" y="918.65" width="11.07" height="4.70" fill="#f5c2b2" stroke="#f5c2b2" stroke-width="0.4"/>
<rect x="542.35" y="918.65" width="11.07" height="4.70" fill="#fbe5dd" stroke="#fbe5dd" stroke-width="0.4"/>
<rect x="553.42" y="918.65" width="11.07" height="4.70" fill="#fbe0d8" stroke="#fbe0d8" stroke-width="0.4"/>
<rect x="564.49" y="918.65" width="11.07" height="4.70" fill="#fdf3ef" stroke="#fdf3ef" stroke-width="0.4"/>
<rect x="575.56" y="918.65" width="11.07" height="4.70" fill="#fdf5f2" stroke="#fdf5f2" stroke-width="0.4"/>
<rect x="586.63" y="918.65" width="11.07" height="4.70" fill="#fdf3f0" stroke="#fdf3f0" stroke-width="0.4"/>
<rect x="597.70" y="918.65" width="11.07" height="4.70" fill="#fdf0ec" stroke="#fdf0ec" stroke-width="0.4"/>
<rect x="498.06" y="923.35" width="11.07" height="4.70" fill="#fde9e3" stroke="#fde9e3" stroke-width="0.4"/>
<rect x="509.14" y="923.35" width="11.07" height="4.70" fill="#fbdcd2" stroke="#fbdcd2" stroke-width="0.4"/>
<rect x="520.21" y="923.35" width="11.07" height="4.70" fill="#f8d0c2" stroke="#f8d0c2" stroke-width="0.4"/>
<rect x="531.28" y="923.35" width="11.07" height="4.70" fill="#fadad0" stroke="#fadad0" stroke-width="0.4"/>
<rect x="542.35" y="923.35" width="11.07" height="4.70" fill="#fdf1ee" stroke="#fdf1ee" stroke-width="0.4"/>
<rect x="553.42" y="923.35" width="11.07" height="4.70" fill="#fdf1ee" stroke="#fdf1ee" stroke-width="0.4"/>
<rect x="564.49" y="923.35" width="11.07" height="4.70" fill="#fdf8f6" stroke="#fdf8f6" stroke-width="0.4"/>
<rect x="575.56" y="923.35" width="11.07" height="4.70" fill="#ffffff" stroke="#ffffff" stroke-width="0.4"/>
<rect x="586.63" y="923.35" width="11.07" height="4.70" fill="#f5f3f9" stroke="#f5f3f9" stroke-width="0.4"/>
<rect x="597.70" y="923.35" width="11.07" height="4.70" fill="#ffffff" stroke="#ffffff" stroke-width="0.4"/>
<rect x="608.77" y="923.35" width="11.07" height="4.70" fill="#fdf5f2" stroke="#fdf5f2" stroke-width="0.4"/>
<rect x="498.06" y="928.05" width="11.07" height="4.70" fill="#ffffff" stroke="#ffffff" stroke-width="0.4"/>
<rect x="509.14" y="928.05" width="11.07" height="4.70" fill="#fef8f6" stroke="#fef8f6" stroke-width="0.4"/>
<rect x="520.21" y="928.05" width="11.07" height="4.70" fill="#fbe0d8" stroke="#fbe0d8" stroke-width="0.4"/>
<rect x="531.28" y="928.05" width="11.07" height="4.70" fill="#fce9e3" stroke="#fce9e3" stroke-width="0.4"/>
<rect x="542.35" y="928.05" width="11.07" height="4.70" fill="#fdf1ee" stroke="#fdf1ee" stroke-width="0.4"/>
<rect x="553.42" y="928.05" width="11.07" height="4.70" fill="#fdf4f1" stroke="#fdf4f1" stroke-width="0.4"/>
<rect x="564.49" y="928.05" width="11.07" height="4.70" fill="#fdf6f4" stroke="#fdf6f4" stroke-width="0.4"/>
<rect x="575.56" y="928.05" width="11.07" height="4.70" fill="#fdf6f4" stroke="#fdf6f4" stroke-width="0.4"/>
<rect x="586.63" y="928.05" width="11.07" height="4.70" fill="#f9d8cc" stroke="#f9d8cc" stroke-width="0.4"/>
<rect x="498.06" y="932.75" width="11.07" height="4.70" fill="#ffffff" stroke="#ffffff" stroke-width="0.4"/>
<rect x="509.14" y="932.75" width="11.07" height="4.70" fill="#fbe0d6" stroke="#fbe0d6" stroke-width="0.4"/>
<rect x="520.21" y="932.75" width="11.07" height="4.70" fill="#fbe0d6" stroke="#fbe0d6" stroke-width="0.4"/>
<rect x="531.28" y="932.75" width="11.07" height="4.70" fill="#fdf0ec" stroke="#fdf0ec" stroke-width="0.4"/>
<rect x="542.35" y="932.75" width="11.07" height="4.70" fill="#ffffff" stroke="#ffffff" stroke-width="0.4"/>
<rect x="553.42" y="932.75" width="11.07" height="4.70" fill="#fbfafc" stroke="#fbfafc" stroke-width="0.4"/>
<rect x="564.49" y="932.75" width="11.07" height="4.70" fill="#f9f8fb" stroke="#f9f8fb" stroke-width="0.4"/>
<rect x="575.56" y="932.75" width="11.07" height="4.70" fill="#ffffff" stroke="#ffffff" stroke-width="0.4"/>
<rect x="586.63" y="932.75" width="11.07" height="4.70" fill="#fdf8f6" stroke="#fdf8f6" stroke-width="0.4"/>
<rect x="597.70" y="932.75" width="11.07" height="4.70" fill="#fbe5de" stroke="#fbe5de" stroke-width="0.4"/>
<rect x="498.06" y="937.45" width="11.07" height="4.70" fill="#f9f8fc" stroke="#f9f8fc" stroke-width="0.4"/>
<rect x="509.14" y="937.45" width="11.07" height="4.70" fill="#fdf4f0" stroke="#fdf4f0" stroke-width="0.4"/>
<rect x="520.21" y="937.45" width="11.07" height="4.70" fill="#fdf0ec" stroke="#fdf0ec" stroke-width="0.4"/>
<rect x="531.28" y="937.45" width="11.07" height="4.70" fill="#fdf1ed" stroke="#fdf1ed" stroke-width="0.4"/>
<rect x="542.35" y="937.45" width="11.07" height="4.70" fill="#fdf3f0" stroke="#fdf3f0" stroke-width="0.4"/>
<rect x="553.42" y="937.45" width="11.07" height="4.70" fill="#fdf3f0" stroke="#fdf3f0" stroke-width="0.4"/>
<rect x="564.49" y="937.45" width="11.07" height="4.70" fill="#fdf3ef" stroke="#fdf3ef" stroke-width="0.4"/>
<rect x="575.56" y="937.45" width="11.07" height="4.70" fill="#fdeee9" stroke="#fdeee9" stroke-width="0.4"/>
<rect x="586.63" y="937.45" width="11.07" height="4.70" fill="#f5c8b8" stroke="#f5c8b8" stroke-width="0.4"/>
<rect x="498.06" y="942.15" width="11.07" height="4.70" fill="#f9f7fb" stroke="#f9f7fb" stroke-width="0.4"/>
<rect x="509.14" y="942.15" width="11.07" height="4.70" fill="#fdf3ef" stroke="#fdf3ef" stroke-width="0.4"/>
<rect x="520.21" y="942.15" width="11.07" height="4.70" fill="#ffffff" stroke="#ffffff" stroke-width="0.4"/>
<rect x="531.28" y="942.15" width="11.07" height="4.70" fill="#f4eff7" stroke="#f4eff7" stroke-width="0.4"/>
<rect x="542.35" y="942.15" width="11.07" height="4.70" fill="#ece4f2" stroke="#ece4f2" stroke-width="0.4"/>
<rect x="553.42" y="942.15" width="11.07" height="4.70" fill="#f1ecf6" stroke="#f1ecf6" stroke-width="0.4"/>
<rect x="564.49" y="942.15" width="11.07" height="4.70" fill="#f1ecf6" stroke="#f1ecf6" stroke-width="0.4"/>
<rect x="575.56" y="942.15" width="11.07" height="4.70" fill="#fdf5f2" stroke="#fdf5f2" stroke-width="0.4"/>
<rect x="586.63" y="942.15" width="11.07" height="4.70" fill="#fbe2da" stroke="#fbe2da" stroke-width="0.4"/>
<rect x="498.06" y="946.85" width="11.07" height="4.70" fill="#fafafc" stroke="#fafafc" stroke-width="0.4"/>
<rect x="509.14" y="946.85" width="11.07" height="4.70" fill="#ffffff" stroke="#ffffff" stroke-width="0.4"/>
<rect x="520.21" y="946.85" width="11.07" height="4.70" fill="#ffffff" stroke="#ffffff" stroke-width="0.4"/>
<rect x="531.28" y="946.85" width="11.07" height="4.70" fill="#ffffff" stroke="#ffffff" stroke-width="0.4"/>
<rect x="542.35" y="946.85" width="11.07" height="4.70" fill="#fefaf9" stroke="#fefaf9" stroke-width="0.4"/>
<rect x="553.42" y="946.85" width="11.07" height="4.70" fill="#fefaf9" stroke="#fefaf9" stroke-width="0.4"/>
<rect x="564.49" y="946.85" width="11.07" height="4.70" fill="#fdfbfb" stroke="#fdfbfb" stroke-width="0.4"/>
<rect x="575.56" y="946.85" width="11.07" height="4.70" fill="#fbdcd2" stroke="#fbdcd2" stroke-width="0.4"/>
<rect x="498.06" y="951.55" width="11.07" height="4.70" fill="#ece0f0" stroke="#ece0f0" stroke-width="0.4"/>
<rect x="509.14" y="951.55" width="11.07" height="4.70" fill="#f0e8f4" stroke="#f0e8f4" stroke-width="0.4"/>
<rect x="520.21" y="951.55" width="11.07" height="4.70" fill="#efe6f3" stroke="#efe6f3" stroke-width="0.4"/>
<rect x="531.28" y="951.55" width="11.07" height="4.70" fill="#f5f2f8" stroke="#f5f2f8" stroke-width="0.4"/>
<rect x="542.35" y="951.55" width="11.07" height="4.70" fill="#f3eef7" stroke="#f3eef7" stroke-width="0.4"/>
<rect x="553.42" y="951.55" width="11.07" height="4.70" fill="#f8f6fa" stroke="#f8f6fa" stroke-width="0.4"/>
<rect x="564.49" y="951.55" width="11.07" height="4.70" fill="#f3eff7" stroke="#f3eff7" stroke-width="0.4"/>
<rect x="575.56" y="951.55" width="11.07" height="4.70" fill="#fce4dc" stroke="#fce4dc" stroke-width="0.4"/>
<rect x="498.06" y="956.25" width="11.07" height="4.70" fill="#f7f4fa" stroke="#f7f4fa" stroke-width="0.4"/>
<rect x="509.14" y="956.25" width="11.07" height="4.70" fill="#f7f4fa" stroke="#f7f4fa" stroke-width="0.4"/>
<rect x="520.21" y="956.25" width="11.07" height="4.70" fill="#f8f6fa" stroke="#f8f6fa" stroke-width="0.4"/>
<rect x="531.28" y="956.25" width="11.07" height="4.70" fill="#f7f5fa" stroke="#f7f5fa" stroke-width="0.4"/>
<rect x="542.35" y="956.25" width="11.07" height="4.70" fill="#ffffff" stroke="#ffffff" stroke-width="0.4"/>
<rect x="553.42" y="956.25" width="11.07" height="4.70" fill="#ffffff" stroke="#ffffff" stroke-width="0.4"/>
<rect x="498.06" y="960.95" width="11.07" height="4.70" fill="#d8c8e6" stroke="#d8c8e6" stroke-width="0.4"/>
<rect x="509.14" y="960.95" width="11.07" height="4.70" fill="#dccde8" stroke="#dccde8" stroke-width="0.4"/>
<rect x="520.21" y="960.95" width="11.07" height="4.70" fill="#dacbe7" stroke="#dacbe7" stroke-width="0.4"/>
<rect x="531.28" y="960.95" width="11.07" height="4.70" fill="#e0d3ea" stroke="#e0d3ea" stroke-width="0.4"/>
<rect x="542.35" y="960.95" width="11.07" height="4.70" fill="#e6dcee" stroke="#e6dcee" stroke-width="0.4"/>
<rect x="553.42" y="960.95" width="11.07" height="4.70" fill="#f2ecf6" stroke="#f2ecf6" stroke-width="0.4"/>
<rect x="564.49" y="960.95" width="11.07" height="4.70" fill="#e2d6ec" stroke="#e2d6ec" stroke-width="0.4"/>
<rect x="498.06" y="965.65" width="11.07" height="4.70" fill="#ede4f2" stroke="#ede4f2" stroke-width="0.4"/>
<rect x="509.14" y="965.65" width="11.07" height="4.70" fill="#ebe2f1" stroke="#ebe2f1" stroke-width="0.4"/>
<rect x="520.21" y="965.65" width="11.07" height="4.70" fill="#ede4f2" stroke="#ede4f2" stroke-width="0.4"/>
<rect x="531.28" y="965.65" width="11.07" height="4.70" fill="#f1ebf5" stroke="#f1ebf5" stroke-width="0.4"/>
<rect x="542.35" y="965.65" width="11.07" height="4.70" fill="#ffffff" stroke="#ffffff" stroke-width="0.4"/>
<rect x="509.14" y="970.35" width="11.07" height="4.70" fill="#b09ad0" stroke="#b09ad0" stroke-width="0.4"/>
<rect x="520.21" y="970.35" width="11.07" height="4.70" fill="#b8a4d4" stroke="#b8a4d4" stroke-width="0.4"/>
<rect x="531.28" y="970.35" width="11.07" height="4.70" fill="#c4b2da" stroke="#c4b2da" stroke-width="0.4"/>
<rect x="542.35" y="970.35" width="11.07" height="4.70" fill="#dcd0e8" stroke="#dcd0e8" stroke-width="0.4"/>
<rect x="498.06" y="975.05" width="11.07" height="4.70" fill="#dccee8" stroke="#dccee8" stroke-width="0.4"/>
<rect x="509.14" y="975.05" width="11.07" height="4.70" fill="#c8b8dc" stroke="#c8b8dc" stroke-width="0.4"/>
<rect x="520.21" y="975.05" width="11.07" height="4.70" fill="#ccbcde" stroke="#ccbcde" stroke-width="0.4"/>
<rect x="531.28" y="975.05" width="11.07" height="4.70" fill="#ece4f2" stroke="#ece4f2" stroke-width="0.4"/>
<rect x="498.06" y="979.75" width="11.07" height="4.70" fill="#8a78c0" stroke="#8a78c0" stroke-width="0.4"/>
<rect x="509.14" y="979.75" width="11.07" height="4.70" fill="#a08cc8" stroke="#a08cc8" stroke-width="0.4"/>
<rect x="520.21" y="979.75" width="11.07" height="4.70" fill="#a894cc" stroke="#a894cc" stroke-width="0.4"/>
<rect x="531.28" y="979.75" width="11.07" height="4.70" fill="#bca8d6" stroke="#bca8d6" stroke-width="0.4"/>
<text x="588.1" y="812.4" font-size="12.2" fill="#111" stroke="#111" text-anchor="middle">TG</text>
<text x="486.6" y="833.9" font-size="7.9" fill="#444" stroke="#444" text-anchor="end">72</text>
<line x1="487.2" y1="831.7" x2="488.59999999999997" y2="831.7" stroke="#444" stroke-width="1"/>
<text x="486.6" y="852.7" font-size="7.9" fill="#444" stroke="#444" text-anchor="end">68</text>
<line x1="487.2" y1="850.5" x2="488.59999999999997" y2="850.5" stroke="#444" stroke-width="1"/>
<text x="486.6" y="871.5" font-size="7.9" fill="#444" stroke="#444" text-anchor="end">64</text>
<line x1="487.2" y1="869.3" x2="488.59999999999997" y2="869.3" stroke="#444" stroke-width="1"/>
<text x="486.6" y="890.3" font-size="7.9" fill="#444" stroke="#444" text-anchor="end">60</text>
<line x1="487.2" y1="888.1" x2="488.59999999999997" y2="888.1" stroke="#444" stroke-width="1"/>
<text x="486.6" y="909.1" font-size="7.9" fill="#444" stroke="#444" text-anchor="end">56</text>
<line x1="487.2" y1="906.9" x2="488.59999999999997" y2="906.9" stroke="#444" stroke-width="1"/>
<text x="486.6" y="927.9" font-size="7.9" fill="#444" stroke="#444" text-anchor="end">52</text>
<line x1="487.2" y1="925.7" x2="488.59999999999997" y2="925.7" stroke="#444" stroke-width="1"/>
<text x="486.6" y="946.7" font-size="7.9" fill="#444" stroke="#444" text-anchor="end">48</text>
<line x1="487.2" y1="944.5" x2="488.59999999999997" y2="944.5" stroke="#444" stroke-width="1"/>
<text x="486.6" y="965.5" font-size="7.9" fill="#444" stroke="#444" text-anchor="end">44</text>
<line x1="487.2" y1="963.3" x2="488.59999999999997" y2="963.3" stroke="#444" stroke-width="1"/>
<text x="486.6" y="984.3" font-size="7.9" fill="#444" stroke="#444" text-anchor="end">40</text>
<line x1="487.2" y1="982.1" x2="488.59999999999997" y2="982.1" stroke="#444" stroke-width="1"/>
<line x1="503.6" y1="993.4" x2="503.6" y2="994.8000000000001" stroke="#444" stroke-width="1"/>
<text x="503.6" y="1001.2" font-size="7.3" fill="#444" stroke="#444" text-anchor="middle">0</text>
<line x1="536.8" y1="993.4" x2="536.8" y2="994.8000000000001" stroke="#444" stroke-width="1"/>
<text x="536.8" y="1001.2" font-size="7.3" fill="#444" stroke="#444" text-anchor="middle">3</text>
<line x1="570.0" y1="993.4" x2="570.0" y2="994.8000000000001" stroke="#444" stroke-width="1"/>
<text x="570.0" y="1001.2" font-size="7.3" fill="#444" stroke="#444" text-anchor="middle">6</text>
<line x1="603.2" y1="993.4" x2="603.2" y2="994.8000000000001" stroke="#444" stroke-width="1"/>
<text x="603.2" y="1001.2" font-size="7.3" fill="#444" stroke="#444" text-anchor="middle">9</text>
<line x1="636.4" y1="993.4" x2="636.4" y2="994.8000000000001" stroke="#444" stroke-width="1"/>
<text x="636.4" y="1001.2" font-size="7.3" fill="#444" stroke="#444" text-anchor="middle">12</text>
<line x1="669.7" y1="993.4" x2="669.7" y2="994.8000000000001" stroke="#444" stroke-width="1"/>
<text x="669.7" y="1001.2" font-size="7.3" fill="#444" stroke="#444" text-anchor="middle">15</text>
<text x="588.1" y="1014.4" font-size="9.9" fill="#111" stroke="#111" text-anchor="middle">Total chain unsaturation</text>
<text transform="translate(473,906.6) rotate(-90)" font-size="9.9" fill="#111" stroke="#111" text-anchor="middle">Total chain length</text>
<rect x="666" y="815" width="16.0" height="30.8" fill="#ffffff"/><text x="667.7" y="820.8" font-size="5.0" fill="#111" stroke="#111">logFC</text><defs><linearGradient id="g815" x1="0" y1="0" x2="0" y2="1"><stop offset="0" stop-color="#c84020"/><stop offset="0.3" stop-color="#eb9e84"/><stop offset="0.58" stop-color="#fffafa"/><stop offset="0.68" stop-color="#f4eef8"/><stop offset="1" stop-color="#8a78c0"/></linearGradient></defs><rect x="667.3" y="823.2" width="4.7" height="21.7" fill="url(#g815)"/><text transform="translate(673.4,825) rotate(90)" font-size="5.0" fill="#111" stroke="#111" text-anchor="middle">2</text><text transform="translate(673.4,830.8) rotate(90)" font-size="5.0" fill="#111" stroke="#111" text-anchor="middle">1</text><text transform="translate(673.4,837) rotate(90)" font-size="5.0" fill="#111" stroke="#111" text-anchor="middle">0</text><text transform="translate(673.4,842.5) rotate(90)" font-size="5.0" fill="#111" stroke="#111" text-anchor="middle">−1</text>
<text x="235.2" y="387.3" font-size="22" font-weight="bold" fill="#111" stroke="#111">C</text>
<text x="357.2" y="367.1" font-size="12.2" fill="#111" stroke="#111" text-anchor="middle">LPC</text>
<path d="M267.44,499.56 L268.03,500.14 L268.78,500.89 L269.67,501.78 L270.67,502.78 L271.75,503.85 L272.88,504.97 L274.03,506.10 L275.17,507.23 L276.27,508.30 L277.30,509.31 L278.29,509.79 L279.27,510.27 L280.26,510.75 L281.24,511.23 L282.23,511.70 L283.22,512.17 L284.20,512.63 L285.19,513.09 L286.17,513.53 L287.16,513.97 L288.15,514.14 L289.13,514.30 L290.12,514.46 L291.10,514.61 L292.09,514.75 L293.08,514.89 L294.06,515.02 L295.05,515.15 L296.03,515.27 L297.02,515.39 L298.01,515.52 L298.99,515.63 L299.98,515.75 L300.96,515.86 L301.95,515.97 L302.94,516.07 L303.92,516.16 L304.91,516.25 L305.89,516.33 L306.88,516.41 L307.87,516.44 L308.85,516.46 L309.84,516.48 L310.82,516.49 L311.81,516.50 L312.80,516.50 L313.78,516.49 L314.77,516.47 L315.75,516.45 L316.74,516.41 L317.73,516.37 L318.71,516.31 L319.70,516.25 L320.68,516.18 L321.67,516.11 L322.66,516.02 L323.64,515.93 L324.63,515.83 L325.61,515.72 L326.60,515.60 L327.59,515.45 L328.57,515.30 L329.56,515.16 L330.54,515.00 L331.53,514.84 L332.52,514.66 L333.50,514.45 L334.49,514.22 L335.47,513.96 L336.46,513.67 L337.45,513.36 L338.43,513.04 L339.42,512.72 L340.40,512.37 L341.39,511.99 L342.38,511.58 L343.36,511.11 L344.35,510.58 L345.33,509.98 L346.32,509.31 L347.29,508.50 L348.23,507.63 L349.15,506.69 L350.07,505.69 L351.00,504.64 L351.95,503.54 L352.93,502.41 L353.96,501.23 L355.03,500.04 L356.18,498.82 L357.35,497.61 L358.51,496.44 L359.69,495.27 L360.90,494.07 L362.16,492.81 L363.49,491.48 L364.92,490.03 L366.47,488.44 L368.15,486.69 L369.98,484.74 L372.01,482.58 L374.22,480.21 L376.58,477.61 L379.06,474.68 L381.63,471.64 L384.25,468.50 L386.90,465.32 L389.53,462.11 L392.12,458.92 L394.63,455.78 L397.09,452.67 L399.55,449.56 L402.00,446.42 L404.45,443.26 L406.90,439.85 L409.35,436.24 L411.82,432.56 L414.29,428.82 L416.78,424.99 L419.28,421.08 L421.92,416.86 L424.76,412.23 L427.71,406.98 L430.70,401.54 L433.64,396.14 L436.46,390.94 L439.08,386.09 L441.42,381.77 L443.39,378.13 L444.92,375.32 L444.92,424.05 L443.39,425.53 L441.42,427.46 L439.08,429.77 L436.46,432.34 L433.64,435.10 L430.70,437.96 L427.71,440.82 L424.76,443.65 L421.92,446.64 L419.28,449.34 L416.78,451.81 L414.29,454.20 L411.82,456.51 L409.35,458.77 L406.90,460.97 L404.45,463.28 L402.00,465.77 L399.55,468.23 L397.09,470.67 L394.63,473.10 L392.12,475.56 L389.53,478.04 L386.90,480.52 L384.25,482.98 L381.63,485.39 L379.06,487.73 L376.58,489.98 L374.22,492.28 L372.01,494.49 L369.98,496.52 L368.15,498.34 L366.47,499.98 L364.92,501.46 L363.49,502.81 L362.16,504.05 L360.90,505.22 L359.69,506.33 L358.51,507.43 L357.35,508.52 L356.18,509.64 L355.03,510.78 L353.96,511.91 L352.93,513.01 L351.95,514.08 L351.00,515.11 L350.07,516.10 L349.15,517.03 L348.23,517.91 L347.29,518.72 L346.32,519.46 L345.33,520.15 L344.35,520.77 L343.36,521.32 L342.38,521.81 L341.39,522.25 L340.40,522.64 L339.42,523.01 L338.43,523.36 L337.45,523.69 L336.46,524.02 L335.47,524.34 L334.49,524.62 L333.50,524.87 L332.52,525.09 L331.53,525.29 L330.54,525.48 L329.56,525.65 L328.57,525.82 L327.59,525.98 L326.60,526.15 L325.61,526.35 L324.63,526.54 L323.64,526.73 L322.66,526.90 L321.67,527.07 L320.68,527.23 L319.70,527.38 L318.71,527.52 L317.73,527.65 L316.74,527.78 L315.75,527.89 L314.77,528.00 L313.78,528.10 L312.80,528.19 L311.81,528.27 L310.82,528.35 L309.84,528.42 L308.85,528.48 L307.87,528.54 L306.88,528.59 L305.89,528.68 L304.91,528.76 L303.92,528.83 L302.94,528.90 L301.95,528.96 L300.96,529.01 L299.98,529.07 L298.99,529.11 L298.01,529.16 L297.02,529.20 L296.03,529.24 L295.05,529.28 L294.06,529.31 L293.08,529.34 L292.09,529.36 L291.10,529.38 L290.12,529.40 L289.13,529.41 L288.15,529.41 L287.16,529.40 L286.17,529.65 L285.19,529.89 L284.20,530.13 L283.22,530.36 L282.23,530.58 L281.24,530.80 L280.26,531.01 L279.27,531.22 L278.29,531.43 L277.30,531.63 L276.27,532.33 L275.17,533.06 L274.03,533.82 L272.88,534.57 L271.75,535.31 L270.67,536.02 L269.67,536.67 L268.78,537.25 L268.03,537.75 L267.44,538.13 Z" fill="#9a9a9a" fill-opacity="0.22"/>
<path d="M267.44,499.15 L268.03,499.74 L268.78,500.49 L269.67,501.37 L270.67,502.37 L271.75,503.44 L272.88,504.56 L274.03,505.70 L275.17,506.82 L276.27,507.90 L277.30,508.90 L278.29,509.45 L279.27,509.99 L280.26,510.53 L281.24,511.06 L282.23,511.59 L283.22,512.11 L284.20,512.64 L285.19,513.15 L286.17,513.67 L287.16,514.18 L288.15,514.39 L289.13,514.60 L290.12,514.80 L291.10,515.00 L292.09,515.19 L293.08,515.38 L294.06,515.57 L295.05,515.75 L296.03,515.93 L297.02,516.11 L298.01,516.28 L298.99,516.44 L299.98,516.60 L300.96,516.76 L301.95,516.92 L302.94,517.07 L303.92,517.21 L304.91,517.36 L305.89,517.49 L306.88,517.63 L307.87,517.67 L308.85,517.71 L309.84,517.74 L310.82,517.78 L311.81,517.81 L312.80,517.83 L313.78,517.84 L314.77,517.85 L315.75,517.85 L316.74,517.83 L317.73,517.80 L318.71,517.77 L319.70,517.72 L320.68,517.67 L321.67,517.60 L322.66,517.53 L323.64,517.46 L324.63,517.38 L325.61,517.30 L326.60,517.22 L327.59,517.12 L328.57,517.03 L329.56,516.94 L330.54,516.84 L331.53,516.74 L332.52,516.63 L333.50,516.50 L334.49,516.36 L335.47,516.19 L336.46,516.00 L337.45,515.80 L338.43,515.59 L339.42,515.38 L340.40,515.15 L341.39,514.90 L342.38,514.63 L343.36,514.32 L344.35,513.98 L345.33,513.59 L346.32,513.16 L347.29,512.67 L348.23,512.13 L349.15,511.56 L350.07,510.95 L351.00,510.31 L351.95,509.64 L352.93,508.94 L353.96,508.21 L355.03,507.45 L356.18,506.67 L357.35,505.89 L358.51,505.12 L359.69,504.36 L360.90,503.57 L362.16,502.74 L363.49,501.84 L364.92,500.87 L366.47,499.79 L368.15,498.59 L369.98,497.25 L372.01,495.75 L374.22,494.10 L376.58,492.29 L379.06,490.29 L381.63,488.21 L384.25,486.06 L386.90,483.88 L389.53,481.69 L392.12,479.51 L394.63,477.37 L397.09,475.26 L399.55,473.16 L402.00,471.06 L404.45,468.94 L406.90,466.60 L409.35,464.07 L411.82,461.49 L414.29,458.84 L416.78,456.11 L419.28,453.28 L421.92,450.19 L424.76,446.76 L427.71,442.68 L430.70,438.41 L433.64,434.16 L436.46,430.06 L439.08,426.24 L441.42,422.83 L443.39,419.96 L444.92,417.75 L444.92,455.10 L443.39,456.14 L441.42,457.51 L439.08,459.15 L436.46,460.97 L433.64,462.93 L430.70,464.93 L427.71,466.92 L424.76,468.91 L421.92,471.17 L419.28,473.17 L416.78,474.97 L414.29,476.68 L411.82,478.31 L409.35,479.88 L406.90,481.39 L404.45,483.01 L402.00,484.79 L399.55,486.55 L397.09,488.32 L394.63,490.09 L392.12,491.89 L389.53,493.71 L386.90,495.54 L384.25,497.36 L381.63,499.14 L379.06,500.87 L376.58,502.53 L374.22,504.18 L372.01,505.73 L369.98,507.15 L368.15,508.42 L366.47,509.55 L364.92,510.57 L363.49,511.48 L362.16,512.32 L360.90,513.10 L359.69,513.84 L358.51,514.56 L357.35,515.27 L356.18,516.00 L355.03,516.74 L353.96,517.45 L352.93,518.14 L351.95,518.80 L351.00,519.44 L350.07,520.04 L349.15,520.61 L348.23,521.14 L347.29,521.64 L346.32,522.09 L345.33,522.53 L344.35,522.91 L343.36,523.25 L342.38,523.56 L341.39,523.83 L340.40,524.08 L339.42,524.31 L338.43,524.53 L337.45,524.73 L336.46,524.94 L335.47,525.13 L334.49,525.29 L333.50,525.43 L332.52,525.56 L331.53,525.67 L330.54,525.77 L329.56,525.87 L328.57,525.96 L327.59,526.06 L326.60,526.15 L325.61,526.28 L324.63,526.40 L323.64,526.51 L322.66,526.63 L321.67,526.74 L320.68,526.84 L319.70,526.94 L318.71,527.02 L317.73,527.10 L316.74,527.17 L315.75,527.22 L314.77,527.27 L313.78,527.30 L312.80,527.33 L311.81,527.35 L310.82,527.36 L309.84,527.37 L308.85,527.37 L307.87,527.37 L306.88,527.37 L305.89,527.46 L304.91,527.55 L303.92,527.63 L302.94,527.70 L301.95,527.78 L300.96,527.85 L299.98,527.91 L298.99,527.97 L298.01,528.03 L297.02,528.08 L296.03,528.13 L295.05,528.18 L294.06,528.22 L293.08,528.25 L292.09,528.29 L291.10,528.31 L290.12,528.34 L289.13,528.36 L288.15,528.37 L287.16,528.39 L286.17,528.69 L285.19,528.99 L284.20,529.28 L283.22,529.57 L282.23,529.86 L281.24,530.14 L280.26,530.42 L279.27,530.69 L278.29,530.96 L277.30,531.23 L276.27,531.92 L275.17,532.66 L274.03,533.41 L272.88,534.17 L271.75,534.91 L270.67,535.61 L269.67,536.27 L268.78,536.85 L268.03,537.34 L267.44,537.73 Z" fill="#9a9a9a" fill-opacity="0.22"/>
<line x1="258.6" y1="522.5" x2="453.8" y2="522.5" stroke="#111" stroke-width="1.4" stroke-dasharray="5.8 4.9"/>
<path d="M267.44,518.44 L268.03,518.54 L268.78,518.67 L269.67,518.82 L270.67,518.99 L271.75,519.18 L272.88,519.37 L274.03,519.56 L275.17,519.74 L276.27,519.91 L277.30,520.06 L278.29,520.20 L279.27,520.34 L280.26,520.47 L281.24,520.60 L282.23,520.72 L283.22,520.84 L284.20,520.96 L285.19,521.07 L286.17,521.18 L287.16,521.28 L288.15,521.38 L289.13,521.48 L290.12,521.57 L291.10,521.66 L292.09,521.74 L293.08,521.82 L294.06,521.89 L295.05,521.96 L296.03,522.03 L297.02,522.09 L298.01,522.15 L298.99,522.21 L299.98,522.26 L300.96,522.31 L301.95,522.35 L302.94,522.39 L303.92,522.42 L304.91,522.45 L305.89,522.48 L306.88,522.50 L307.87,522.52 L308.85,522.54 L309.84,522.56 L310.82,522.57 L311.81,522.58 L312.80,522.58 L313.78,522.57 L314.77,522.56 L315.75,522.53 L316.74,522.50 L317.73,522.45 L318.71,522.40 L319.70,522.33 L320.68,522.25 L321.67,522.17 L322.66,522.08 L323.64,521.99 L324.63,521.89 L325.61,521.79 L326.60,521.69 L327.59,521.59 L328.57,521.50 L329.56,521.40 L330.54,521.31 L331.53,521.21 L332.52,521.09 L333.50,520.97 L334.49,520.82 L335.47,520.66 L336.46,520.47 L337.45,520.27 L338.43,520.06 L339.42,519.85 L340.40,519.62 L341.39,519.37 L342.38,519.09 L343.36,518.79 L344.35,518.44 L345.33,518.06 L346.32,517.63 L347.29,517.15 L348.23,516.64 L349.15,516.08 L350.07,515.50 L351.00,514.87 L351.95,514.22 L352.93,513.54 L353.96,512.83 L355.03,512.09 L356.18,511.33 L357.35,510.58 L358.51,509.84 L359.69,509.10 L360.90,508.33 L362.16,507.53 L363.49,506.66 L364.92,505.72 L366.47,504.67 L368.15,503.50 L369.98,502.20 L372.01,500.74 L374.22,499.14 L376.58,497.41 L379.06,495.58 L381.63,493.67 L384.25,491.71 L386.90,489.71 L389.53,487.70 L392.12,485.70 L394.63,483.73 L397.09,481.79 L399.55,479.86 L402.00,477.92 L404.45,475.97 L406.90,474.00 L409.35,471.98 L411.82,469.90 L414.29,467.76 L416.78,465.54 L419.28,463.22 L421.92,460.68 L424.76,457.84 L427.71,454.80 L430.70,451.67 L433.64,448.54 L436.46,445.52 L439.08,442.70 L441.42,440.17 L443.39,438.05 L444.92,436.43" fill="none" stroke="#5964be" stroke-width="2.6" stroke-linejoin="round" stroke-linecap="butt"/>
<path d="M267.44,518.85 L268.03,518.94 L268.78,519.07 L269.67,519.23 L270.67,519.40 L271.75,519.58 L272.88,519.77 L274.03,519.96 L275.17,520.15 L276.27,520.32 L277.30,520.47 L278.29,520.61 L279.27,520.75 L280.26,520.88 L281.24,521.02 L282.23,521.14 L283.22,521.26 L284.20,521.38 L285.19,521.49 L286.17,521.59 L287.16,521.69 L288.15,521.78 L289.13,521.86 L290.12,521.93 L291.10,521.99 L292.09,522.06 L293.08,522.11 L294.06,522.16 L295.05,522.21 L296.03,522.26 L297.02,522.30 L298.01,522.34 L298.99,522.37 L299.98,522.41 L300.96,522.44 L301.95,522.46 L302.94,522.48 L303.92,522.50 L304.91,522.50 L305.89,522.51 L306.88,522.50 L307.87,522.49 L308.85,522.47 L309.84,522.45 L310.82,522.42 L311.81,522.39 L312.80,522.34 L313.78,522.29 L314.77,522.24 L315.75,522.17 L316.74,522.09 L317.73,522.01 L318.71,521.92 L319.70,521.81 L320.68,521.70 L321.67,521.59 L322.66,521.46 L323.64,521.33 L324.63,521.18 L325.61,521.03 L326.60,520.88 L327.59,520.72 L328.57,520.56 L329.56,520.40 L330.54,520.24 L331.53,520.06 L332.52,519.87 L333.50,519.66 L334.49,519.42 L335.47,519.15 L336.46,518.85 L337.45,518.52 L338.43,518.20 L339.42,517.86 L340.40,517.51 L341.39,517.12 L342.38,516.69 L343.36,516.21 L344.35,515.68 L345.33,515.07 L346.32,514.38 L347.29,513.61 L348.23,512.77 L349.15,511.86 L350.07,510.89 L351.00,509.88 L351.95,508.81 L352.93,507.71 L353.96,506.57 L355.03,505.41 L356.18,504.23 L357.35,503.07 L358.51,501.93 L359.69,500.80 L360.90,499.64 L362.16,498.43 L363.49,497.14 L364.92,495.74 L366.47,494.21 L368.15,492.51 L369.98,490.63 L372.01,488.53 L374.22,486.25 L376.58,483.79 L379.06,481.21 L381.63,478.51 L384.25,475.74 L386.90,472.92 L389.53,470.08 L392.12,467.24 L394.63,464.44 L397.09,461.67 L399.55,458.89 L402.00,456.09 L404.45,453.27 L406.90,450.41 L409.35,447.50 L411.82,444.54 L414.29,441.51 L416.78,438.40 L419.28,435.21 L421.92,431.75 L424.76,427.94 L427.71,423.90 L430.70,419.75 L433.64,415.62 L436.46,411.64 L439.08,407.93 L441.42,404.62 L443.39,401.83 L444.92,399.69" fill="none" stroke="#ee5536" stroke-width="2.6" stroke-linejoin="round" stroke-linecap="butt"/>
<text x="256.5" y="525.0" font-size="7.4" fill="#444" stroke="#444" text-anchor="end">0</text>
<line x1="257.6" y1="523.7" x2="259.2" y2="523.7" stroke="#444" stroke-width="1"/>
<text x="256.5" y="484.4" font-size="7.4" fill="#444" stroke="#444" text-anchor="end">2</text>
<line x1="257.6" y1="483.1" x2="259.2" y2="483.1" stroke="#444" stroke-width="1"/>
<text x="256.5" y="443.8" font-size="7.4" fill="#444" stroke="#444" text-anchor="end">4</text>
<line x1="257.6" y1="442.5" x2="259.2" y2="442.5" stroke="#444" stroke-width="1"/>
<text x="256.5" y="403.2" font-size="7.4" fill="#444" stroke="#444" text-anchor="end">6</text>
<line x1="257.6" y1="401.9" x2="259.2" y2="401.9" stroke="#444" stroke-width="1"/>
<line x1="276.5" y1="545.3" x2="278.1" y2="545.3" stroke="#444" stroke-width="0.9"/>
<text x="277.3" y="553.9" font-size="7.4" fill="#444" stroke="#444" text-anchor="middle">15</text>
<line x1="325.8" y1="545.3" x2="327.4" y2="545.3" stroke="#444" stroke-width="0.9"/>
<text x="326.6" y="553.9" font-size="7.4" fill="#444" stroke="#444" text-anchor="middle">20</text>
<line x1="375.1" y1="545.3" x2="376.7" y2="545.3" stroke="#444" stroke-width="0.9"/>
<text x="375.9" y="553.9" font-size="7.4" fill="#444" stroke="#444" text-anchor="middle">25</text>
<line x1="424.4" y1="545.3" x2="426.0" y2="545.3" stroke="#444" stroke-width="0.9"/>
<text x="425.2" y="553.9" font-size="7.4" fill="#444" stroke="#444" text-anchor="middle">30</text>
<text x="356.8" y="565.4" font-size="9.9" fill="#111" stroke="#111" text-anchor="middle">Total chain length</text>
<text transform="translate(245.8,459.7) rotate(-90)" font-size="10" fill="#111" stroke="#111" text-anchor="middle">logFC</text>
<text x="357.2" y="588.3" font-size="12.2" fill="#111" stroke="#111" text-anchor="middle">PC</text>
<path d="M266.10,700.52 L267.06,701.46 L268.30,702.67 L269.77,704.10 L271.41,705.71 L273.19,707.44 L275.04,708.98 L276.93,710.23 L278.80,711.46 L280.61,712.65 L282.30,713.75 L283.92,714.24 L285.54,714.73 L287.16,715.21 L288.78,715.68 L290.40,716.16 L292.02,716.63 L293.64,717.10 L295.26,717.56 L296.88,718.02 L298.50,718.48 L300.12,718.65 L301.74,718.81 L303.36,718.96 L304.98,719.10 L306.60,719.25 L308.22,719.39 L309.84,719.55 L311.46,719.70 L313.08,719.87 L314.70,720.06 L316.36,720.30 L318.07,720.59 L319.82,720.91 L321.57,721.24 L323.31,721.57 L325.00,721.88 L326.64,722.15 L328.18,722.36 L329.61,722.51 L330.90,722.58 L332.04,722.59 L333.04,722.54 L333.93,722.45 L334.72,722.30 L335.46,722.11 L336.15,721.88 L336.83,721.60 L337.51,721.28 L338.23,720.92 L339.00,720.53 L339.81,720.09 L340.62,719.60 L341.43,719.07 L342.24,718.49 L343.05,717.87 L343.86,717.22 L344.67,716.54 L345.48,715.84 L346.29,715.12 L347.10,714.38 L347.91,713.52 L348.72,712.63 L349.53,711.71 L350.34,710.77 L351.15,709.80 L351.96,708.81 L352.77,707.79 L353.58,706.75 L354.39,705.70 L355.20,704.62 L356.01,703.52 L356.82,702.40 L357.63,701.25 L358.44,700.08 L359.25,698.89 L360.06,697.68 L360.87,696.45 L361.68,695.20 L362.49,693.93 L363.30,692.65 L364.11,691.22 L364.92,689.75 L365.73,688.26 L366.54,686.75 L367.35,685.23 L368.16,683.69 L368.97,682.15 L369.78,680.60 L370.59,679.06 L371.40,677.53 L372.21,676.00 L373.02,674.47 L373.83,672.94 L374.64,671.41 L375.45,669.87 L376.26,668.33 L377.07,666.78 L377.88,665.23 L378.69,663.67 L379.50,662.10 L380.31,660.67 L381.12,659.22 L381.93,657.75 L382.74,656.28 L383.55,654.81 L384.36,653.34 L385.17,651.88 L385.98,650.43 L386.79,649.01 L387.60,647.61 L388.41,646.22 L389.22,644.84 L390.03,643.47 L390.84,642.12 L391.65,640.77 L392.46,639.45 L393.27,638.14 L394.08,636.86 L394.89,635.60 L395.70,634.38 L396.51,633.20 L397.32,632.03 L398.13,630.88 L398.94,629.75 L399.75,628.65 L400.56,627.57 L401.37,626.53 L402.18,625.53 L402.99,624.57 L403.80,623.67 L404.61,622.80 L405.42,621.99 L406.23,621.21 L407.04,620.47 L407.85,619.77 L408.66,619.10 L409.47,618.46 L410.28,617.86 L411.09,617.28 L411.90,616.74 L412.71,616.04 L413.52,615.39 L414.33,614.76 L415.14,614.17 L415.95,613.60 L416.76,613.07 L417.57,612.57 L418.38,612.09 L419.19,611.64 L420.00,611.22 L420.81,610.83 L421.62,610.47 L422.43,610.14 L423.24,609.84 L424.05,609.57 L424.86,609.32 L425.67,609.10 L426.48,608.89 L427.29,608.71 L428.10,608.55 L428.91,607.86 L429.72,607.20 L430.53,606.57 L431.34,605.95 L432.15,605.36 L432.96,604.78 L433.77,604.23 L434.58,603.71 L435.39,603.20 L436.20,602.72 L437.05,602.25 L437.95,601.79 L438.89,601.35 L439.83,600.94 L440.76,600.54 L441.64,600.18 L442.47,599.85 L443.20,599.55 L443.82,599.30 L444.30,599.10 L444.30,658.95 L443.82,658.34 L443.20,657.56 L442.47,656.63 L441.64,655.58 L440.76,654.47 L439.83,653.31 L438.89,652.15 L437.95,651.02 L437.05,649.97 L436.20,649.02 L435.39,648.15 L434.58,647.30 L433.77,646.48 L432.96,645.67 L432.15,644.89 L431.34,644.13 L430.53,643.39 L429.72,642.67 L428.91,641.98 L428.10,641.31 L427.29,641.19 L426.48,641.09 L425.67,641.01 L424.86,640.95 L424.05,640.91 L423.24,640.90 L422.43,640.92 L421.62,640.96 L420.81,641.04 L420.00,641.15 L419.19,641.29 L418.38,641.45 L417.57,641.64 L416.76,641.86 L415.95,642.11 L415.14,642.39 L414.33,642.70 L413.52,643.04 L412.71,643.42 L411.90,643.83 L411.09,644.44 L410.28,645.07 L409.47,645.74 L408.66,646.44 L407.85,647.17 L407.04,647.94 L406.23,648.74 L405.42,649.58 L404.61,650.46 L403.80,651.38 L402.99,652.36 L402.18,653.38 L401.37,654.44 L400.56,655.54 L399.75,656.68 L398.94,657.85 L398.13,659.04 L397.32,660.26 L396.51,661.48 L395.70,662.73 L394.89,663.95 L394.08,665.21 L393.27,666.49 L392.46,667.80 L391.65,669.12 L390.84,670.47 L390.03,671.82 L389.22,673.19 L388.41,674.57 L387.60,675.96 L386.79,677.36 L385.98,678.78 L385.17,680.23 L384.36,681.69 L383.55,683.16 L382.74,684.63 L381.93,686.10 L381.12,687.57 L380.31,689.02 L379.50,690.45 L378.69,691.70 L377.88,692.95 L377.07,694.19 L376.26,695.42 L375.45,696.65 L374.64,697.87 L373.83,699.09 L373.02,700.30 L372.21,701.52 L371.40,702.73 L370.59,703.95 L369.78,705.17 L368.97,706.40 L368.16,707.63 L367.35,708.85 L366.54,710.06 L365.73,711.26 L364.92,712.43 L364.11,713.58 L363.30,714.70 L362.49,715.92 L361.68,717.12 L360.87,718.31 L360.06,719.48 L359.25,720.63 L358.44,721.75 L357.63,722.86 L356.82,723.94 L356.01,725.00 L355.20,726.04 L354.39,727.05 L353.58,728.05 L352.77,729.02 L351.96,729.97 L351.15,730.90 L350.34,731.81 L349.53,732.69 L348.72,733.54 L347.91,734.37 L347.10,735.18 L346.29,736.07 L345.48,736.95 L344.67,737.80 L343.86,738.64 L343.05,739.45 L342.24,740.22 L341.43,740.96 L340.62,741.65 L339.81,742.30 L339.00,742.89 L338.23,743.44 L337.51,743.93 L336.83,744.38 L336.15,744.80 L335.46,745.17 L334.72,745.50 L333.93,745.80 L333.04,746.07 L332.04,746.31 L330.90,746.51 L329.61,746.65 L328.18,746.73 L326.64,746.75 L325.00,746.73 L323.31,746.69 L321.57,746.64 L319.82,746.58 L318.07,746.53 L316.36,746.51 L314.70,746.51 L313.08,746.52 L311.46,746.54 L309.84,746.57 L308.22,746.61 L306.60,746.65 L304.98,746.70 L303.36,746.74 L301.74,746.78 L300.12,746.81 L298.50,746.83 L296.88,747.13 L295.26,747.42 L293.64,747.71 L292.02,748.00 L290.40,748.29 L288.78,748.57 L287.16,748.85 L285.54,749.12 L283.92,749.40 L282.30,749.67 L280.61,750.53 L278.80,751.45 L276.93,752.40 L275.04,753.36 L273.19,754.61 L271.41,756.05 L269.77,757.39 L268.30,758.58 L267.06,759.59 L266.10,760.38 Z" fill="#9a9a9a" fill-opacity="0.22"/>
<path d="M266.10,698.32 L267.06,699.18 L268.30,700.30 L269.77,701.62 L271.41,703.10 L273.19,704.70 L275.04,706.13 L276.93,707.31 L278.80,708.47 L280.61,709.58 L282.30,710.61 L283.92,711.14 L285.54,711.66 L287.16,712.18 L288.78,712.70 L290.40,713.20 L292.02,713.70 L293.64,714.20 L295.26,714.69 L296.88,715.17 L298.50,715.64 L300.16,715.87 L301.87,716.08 L303.62,716.30 L305.37,716.51 L307.11,716.71 L308.80,716.90 L310.44,717.08 L311.98,717.25 L313.41,717.40 L314.70,717.53 L315.84,717.60 L316.84,717.64 L317.73,717.67 L318.52,717.68 L319.26,717.69 L319.95,717.70 L320.63,717.72 L321.31,717.74 L322.03,717.78 L322.80,717.85 L323.61,717.95 L324.42,718.09 L325.23,718.25 L326.04,718.42 L326.85,718.60 L327.66,718.76 L328.47,718.91 L329.28,719.02 L330.09,719.09 L330.90,719.11 L331.71,719.11 L332.52,719.09 L333.33,719.04 L334.14,718.96 L334.95,718.85 L335.76,718.72 L336.57,718.55 L337.38,718.35 L338.19,718.12 L339.00,717.85 L339.81,717.55 L340.62,717.22 L341.43,716.86 L342.24,716.46 L343.05,716.04 L343.86,715.58 L344.67,715.09 L345.48,714.57 L346.29,714.02 L347.10,713.44 L347.91,712.73 L348.72,711.97 L349.53,711.18 L350.34,710.36 L351.15,709.50 L351.96,708.62 L352.77,707.72 L353.58,706.81 L354.39,705.88 L355.20,704.94 L356.01,703.97 L356.82,702.97 L357.63,701.94 L358.44,700.88 L359.25,699.82 L360.06,698.74 L360.87,697.67 L361.68,696.61 L362.49,695.56 L363.30,694.54 L364.11,693.44 L364.92,692.36 L365.73,691.28 L366.54,690.21 L367.35,689.15 L368.16,688.08 L368.97,687.02 L369.78,685.96 L370.59,684.90 L371.40,683.83 L372.21,682.76 L373.02,681.68 L373.83,680.60 L374.64,679.52 L375.45,678.44 L376.26,677.36 L377.07,676.29 L377.88,675.22 L378.69,674.17 L379.50,673.12 L380.31,672.20 L381.12,671.29 L381.93,670.37 L382.74,669.46 L383.55,668.55 L384.36,667.66 L385.17,666.79 L385.98,665.93 L386.79,665.10 L387.60,664.30 L388.41,663.52 L389.22,662.76 L390.03,662.02 L390.84,661.30 L391.65,660.60 L392.46,659.92 L393.27,659.25 L394.08,658.60 L394.89,657.98 L395.70,657.37 L396.51,656.82 L397.32,656.29 L398.13,655.77 L398.94,655.27 L399.75,654.79 L400.56,654.33 L401.37,653.90 L402.18,653.50 L402.99,653.14 L403.80,652.80 L404.61,652.50 L405.42,652.22 L406.23,651.98 L407.04,651.75 L407.85,651.56 L408.66,651.40 L409.47,651.27 L410.28,651.17 L411.09,651.10 L411.90,651.07 L412.71,650.90 L413.52,650.78 L414.33,650.68 L415.14,650.63 L415.95,650.60 L416.76,650.59 L417.57,650.61 L418.38,650.65 L419.19,650.70 L420.00,650.75 L420.81,650.82 L421.62,650.89 L422.43,650.98 L423.24,651.08 L424.05,651.21 L424.86,651.36 L425.67,651.54 L426.48,651.76 L427.29,652.02 L428.10,652.33 L428.91,652.13 L429.72,651.96 L430.53,651.83 L431.34,651.74 L432.15,651.68 L432.96,651.65 L433.77,651.66 L434.58,651.69 L435.39,651.76 L436.20,651.86 L437.05,652.01 L437.95,652.23 L438.89,652.51 L439.83,652.83 L440.76,653.17 L441.64,653.51 L442.47,653.83 L443.20,654.12 L443.82,654.36 L444.30,654.54 L444.30,709.98 L443.82,709.00 L443.20,707.72 L442.47,706.20 L441.64,704.50 L440.76,702.68 L439.83,700.79 L438.89,698.90 L437.95,697.05 L437.05,695.32 L436.20,693.75 L435.39,692.30 L434.58,690.88 L433.77,689.49 L432.96,688.13 L432.15,686.80 L431.34,685.51 L430.53,684.25 L429.72,683.02 L428.91,681.83 L428.10,680.68 L427.29,680.12 L426.48,679.61 L425.67,679.14 L424.86,678.70 L424.05,678.30 L423.24,677.92 L422.43,677.57 L421.62,677.23 L420.81,676.90 L420.00,676.59 L419.19,676.27 L418.38,675.97 L417.57,675.69 L416.76,675.42 L415.95,675.17 L415.14,674.94 L414.33,674.75 L413.52,674.59 L412.71,674.46 L411.90,674.38 L411.09,674.51 L410.28,674.67 L409.47,674.86 L408.66,675.09 L407.85,675.34 L407.04,675.63 L406.23,675.95 L405.42,676.29 L404.61,676.66 L403.80,677.06 L402.99,677.49 L402.18,677.95 L401.37,678.44 L400.56,678.97 L399.75,679.52 L398.94,680.09 L398.13,680.69 L397.32,681.30 L396.51,681.93 L395.70,682.57 L394.89,683.18 L394.08,683.80 L393.27,684.45 L392.46,685.12 L391.65,685.80 L390.84,686.50 L390.03,687.22 L389.22,687.96 L388.41,688.72 L387.60,689.50 L386.79,690.30 L385.98,691.13 L385.17,691.99 L384.36,692.86 L383.55,693.75 L382.74,694.66 L381.93,695.57 L381.12,696.49 L380.31,697.40 L379.50,698.32 L378.69,699.11 L377.88,699.92 L377.07,700.73 L376.26,701.55 L375.45,702.38 L374.64,703.20 L373.83,704.03 L373.02,704.86 L372.21,705.69 L371.40,706.51 L370.59,707.33 L369.78,708.14 L368.97,708.95 L368.16,709.76 L367.35,710.57 L366.54,711.38 L365.73,712.20 L364.92,713.02 L364.11,713.86 L363.30,714.70 L362.49,715.66 L361.68,716.64 L360.87,717.64 L360.06,718.65 L359.25,719.66 L358.44,720.66 L357.63,721.65 L356.82,722.62 L356.01,723.56 L355.20,724.47 L354.39,725.34 L353.58,726.21 L352.77,727.07 L351.96,727.90 L351.15,728.72 L350.34,729.51 L349.53,730.27 L348.72,731.00 L347.91,731.69 L347.10,732.34 L346.29,733.05 L345.48,733.73 L344.67,734.37 L343.86,734.99 L343.05,735.57 L342.24,736.12 L341.43,736.64 L340.62,737.13 L339.81,737.58 L339.00,738.01 L338.19,738.40 L337.38,738.76 L336.57,739.09 L335.76,739.38 L334.95,739.64 L334.14,739.88 L333.33,740.08 L332.52,740.26 L331.71,740.41 L330.90,740.53 L330.09,740.58 L329.28,740.57 L328.47,740.52 L327.66,740.44 L326.85,740.33 L326.04,740.22 L325.23,740.11 L324.42,740.01 L323.61,739.94 L322.80,739.90 L322.03,739.89 L321.31,739.91 L320.63,739.93 L319.95,739.97 L319.26,740.02 L318.52,740.07 L317.73,740.11 L316.84,740.16 L315.84,740.19 L314.70,740.22 L313.41,740.28 L311.98,740.35 L310.44,740.42 L308.80,740.50 L307.11,740.57 L305.37,740.64 L303.62,740.70 L301.87,740.76 L300.16,740.81 L298.50,740.85 L296.88,741.13 L295.26,741.40 L293.64,741.67 L292.02,741.93 L290.40,742.18 L288.78,742.43 L287.16,742.68 L285.54,742.91 L283.92,743.14 L282.30,743.37 L280.61,744.05 L278.80,744.77 L276.93,745.50 L275.04,746.23 L273.19,747.22 L271.41,748.39 L269.77,749.46 L268.30,750.42 L267.06,751.24 L266.10,751.87 Z" fill="#9a9a9a" fill-opacity="0.22"/>
<line x1="258.6" y1="733.6" x2="453.8" y2="733.6" stroke="#111" stroke-width="1.4" stroke-dasharray="5.8 4.9"/>
<path d="M266.10,725.10 L267.06,725.21 L268.30,725.36 L269.77,725.54 L271.41,725.75 L273.19,725.96 L275.04,726.18 L276.93,726.40 L278.80,726.62 L280.61,726.81 L282.30,726.99 L283.92,727.14 L285.54,727.29 L287.16,727.43 L288.78,727.56 L290.40,727.69 L292.02,727.82 L293.64,727.93 L295.26,728.04 L296.88,728.15 L298.50,728.25 L300.16,728.34 L301.87,728.42 L303.62,728.50 L305.37,728.57 L307.11,728.64 L308.80,728.70 L310.44,728.75 L311.98,728.80 L313.41,728.84 L314.70,728.88 L315.84,728.90 L316.84,728.90 L317.73,728.89 L318.52,728.87 L319.26,728.86 L319.95,728.84 L320.63,728.83 L321.31,728.82 L322.03,728.84 L322.80,728.88 L323.61,728.94 L324.42,729.05 L325.23,729.18 L326.04,729.32 L326.85,729.47 L327.66,729.60 L328.47,729.72 L329.28,729.80 L330.09,729.84 L330.90,729.82 L331.71,729.76 L332.52,729.67 L333.33,729.56 L334.14,729.42 L334.95,729.25 L335.76,729.05 L336.57,728.82 L337.38,728.55 L338.19,728.26 L339.00,727.93 L339.81,727.57 L340.62,727.17 L341.43,726.75 L342.24,726.29 L343.05,725.80 L343.86,725.28 L344.67,724.73 L345.48,724.15 L346.29,723.54 L347.10,722.89 L347.91,722.21 L348.72,721.48 L349.53,720.72 L350.34,719.93 L351.15,719.11 L351.96,718.26 L352.77,717.40 L353.58,716.51 L354.39,715.61 L355.20,714.70 L356.01,713.77 L356.82,712.79 L357.63,711.80 L358.44,710.77 L359.25,709.74 L360.06,708.70 L360.87,707.66 L361.68,706.63 L362.49,705.61 L363.30,704.62 L364.11,703.65 L364.92,702.69 L365.73,701.74 L366.54,700.79 L367.35,699.86 L368.16,698.92 L368.97,697.99 L369.78,697.05 L370.59,696.11 L371.40,695.17 L372.21,694.22 L373.02,693.27 L373.83,692.32 L374.64,691.36 L375.45,690.41 L376.26,689.45 L377.07,688.51 L377.88,687.57 L378.69,686.64 L379.50,685.72 L380.31,684.80 L381.12,683.89 L381.93,682.97 L382.74,682.06 L383.55,681.15 L384.36,680.26 L385.17,679.39 L385.98,678.53 L386.79,677.70 L387.60,676.90 L388.41,676.12 L389.22,675.36 L390.03,674.62 L390.84,673.90 L391.65,673.20 L392.46,672.52 L393.27,671.85 L394.08,671.20 L394.89,670.58 L395.70,669.97 L396.51,669.38 L397.32,668.80 L398.13,668.23 L398.94,667.68 L399.75,667.15 L400.56,666.65 L401.37,666.17 L402.18,665.73 L402.99,665.31 L403.80,664.93 L404.61,664.58 L405.42,664.26 L406.23,663.96 L407.04,663.69 L407.85,663.45 L408.66,663.24 L409.47,663.07 L410.28,662.92 L411.09,662.81 L411.90,662.73 L412.71,662.68 L413.52,662.68 L414.33,662.72 L415.14,662.79 L415.95,662.88 L416.76,663.00 L417.57,663.15 L418.38,663.31 L419.19,663.48 L420.00,663.67 L420.81,663.86 L421.62,664.06 L422.43,664.27 L423.24,664.50 L424.05,664.75 L424.86,665.03 L425.67,665.34 L426.48,665.69 L427.29,666.07 L428.10,666.50 L428.91,666.98 L429.72,667.49 L430.53,668.04 L431.34,668.62 L432.15,669.24 L432.96,669.89 L433.77,670.57 L434.58,671.29 L435.39,672.03 L436.20,672.81 L437.05,673.66 L437.95,674.64 L438.89,675.71 L439.83,676.81 L440.76,677.92 L441.64,679.00 L442.47,680.02 L443.20,680.92 L443.82,681.68 L444.30,682.25" fill="none" stroke="#5964be" stroke-width="2.6" stroke-linejoin="round" stroke-linecap="butt"/>
<path d="M266.10,730.45 L267.06,730.53 L268.30,730.63 L269.77,730.75 L271.41,730.88 L273.19,731.02 L275.04,731.17 L276.93,731.32 L278.80,731.46 L280.61,731.59 L282.30,731.71 L283.92,731.82 L285.54,731.92 L287.16,732.03 L288.78,732.13 L290.40,732.22 L292.02,732.31 L293.64,732.40 L295.26,732.49 L296.88,732.57 L298.50,732.65 L300.12,732.73 L301.74,732.79 L303.36,732.85 L304.98,732.90 L306.60,732.95 L308.22,733.00 L309.84,733.06 L311.46,733.12 L313.08,733.20 L314.70,733.28 L316.36,733.40 L318.07,733.56 L319.82,733.75 L321.57,733.94 L323.31,734.13 L325.00,734.31 L326.64,734.45 L328.18,734.55 L329.61,734.58 L330.90,734.55 L332.04,734.45 L333.04,734.31 L333.93,734.12 L334.72,733.90 L335.46,733.64 L336.15,733.34 L336.83,732.99 L337.51,732.60 L338.23,732.18 L339.00,731.71 L339.81,731.19 L340.62,730.63 L341.43,730.01 L342.24,729.35 L343.05,728.66 L343.86,727.93 L344.67,727.17 L345.48,726.39 L346.29,725.59 L347.10,724.78 L347.91,723.95 L348.72,723.09 L349.53,722.20 L350.34,721.29 L351.15,720.35 L351.96,719.39 L352.77,718.41 L353.58,717.40 L354.39,716.38 L355.20,715.33 L356.01,714.26 L356.82,713.17 L357.63,712.06 L358.44,710.92 L359.25,709.76 L360.06,708.58 L360.87,707.38 L361.68,706.16 L362.49,704.93 L363.30,703.68 L364.11,702.40 L364.92,701.09 L365.73,699.76 L366.54,698.41 L367.35,697.04 L368.16,695.66 L368.97,694.28 L369.78,692.89 L370.59,691.51 L371.40,690.13 L372.21,688.76 L373.02,687.39 L373.83,686.01 L374.64,684.64 L375.45,683.26 L376.26,681.87 L377.07,680.48 L377.88,679.09 L378.69,677.68 L379.50,676.27 L380.31,674.84 L381.12,673.39 L381.93,671.93 L382.74,670.46 L383.55,668.99 L384.36,667.52 L385.17,666.05 L385.98,664.61 L386.79,663.18 L387.60,661.78 L388.41,660.40 L389.22,659.02 L390.03,657.65 L390.84,656.29 L391.65,654.95 L392.46,653.62 L393.27,652.32 L394.08,651.03 L394.89,649.78 L395.70,648.55 L396.51,647.34 L397.32,646.14 L398.13,644.96 L398.94,643.80 L399.75,642.66 L400.56,641.56 L401.37,640.49 L402.18,639.45 L402.99,638.46 L403.80,637.53 L404.61,636.63 L405.42,635.78 L406.23,634.97 L407.04,634.20 L407.85,633.47 L408.66,632.77 L409.47,632.10 L410.28,631.47 L411.09,630.86 L411.90,630.28 L412.71,629.73 L413.52,629.21 L414.33,628.73 L415.14,628.28 L415.95,627.86 L416.76,627.47 L417.57,627.11 L418.38,626.77 L419.19,626.47 L420.00,626.19 L420.81,625.93 L421.62,625.72 L422.43,625.53 L423.24,625.37 L424.05,625.24 L424.86,625.13 L425.67,625.05 L426.48,624.99 L427.29,624.95 L428.10,624.92 L428.91,624.92 L429.72,624.94 L430.53,624.98 L431.34,625.04 L432.15,625.12 L432.96,625.23 L433.77,625.35 L434.58,625.50 L435.39,625.68 L436.20,625.87 L437.05,626.11 L437.95,626.41 L438.89,626.75 L439.83,627.12 L440.76,627.50 L441.64,627.88 L442.47,628.24 L443.20,628.56 L443.82,628.82 L444.30,629.02" fill="none" stroke="#ee5536" stroke-width="2.6" stroke-linejoin="round" stroke-linecap="butt"/>
<text x="256.5" y="767.6" font-size="7.4" fill="#444" stroke="#444" text-anchor="end">−1</text>
<line x1="257.6" y1="766.3" x2="259.2" y2="766.3" stroke="#444" stroke-width="1"/>
<text x="256.5" y="736.1" font-size="7.4" fill="#444" stroke="#444" text-anchor="end">0</text>
<line x1="257.6" y1="734.8" x2="259.2" y2="734.8" stroke="#444" stroke-width="1"/>
<text x="256.5" y="704.6" font-size="7.4" fill="#444" stroke="#444" text-anchor="end">1</text>
<line x1="257.6" y1="703.3" x2="259.2" y2="703.3" stroke="#444" stroke-width="1"/>
<text x="256.5" y="673.1" font-size="7.4" fill="#444" stroke="#444" text-anchor="end">2</text>
<line x1="257.6" y1="671.8" x2="259.2" y2="671.8" stroke="#444" stroke-width="1"/>
<text x="256.5" y="641.6" font-size="7.4" fill="#444" stroke="#444" text-anchor="end">3</text>
<line x1="257.6" y1="640.3" x2="259.2" y2="640.3" stroke="#444" stroke-width="1"/>
<text x="256.5" y="610.1" font-size="7.4" fill="#444" stroke="#444" text-anchor="end">4</text>
<line x1="257.6" y1="608.8" x2="259.2" y2="608.8" stroke="#444" stroke-width="1"/>
<line x1="265.3" y1="768.3" x2="266.9" y2="768.3" stroke="#444" stroke-width="0.9"/>
<text x="266.1" y="776.9" font-size="7.4" fill="#444" stroke="#444" text-anchor="middle">30</text>
<line x1="305.8" y1="768.3" x2="307.4" y2="768.3" stroke="#444" stroke-width="0.9"/>
<text x="306.6" y="776.9" font-size="7.4" fill="#444" stroke="#444" text-anchor="middle">35</text>
<line x1="346.3" y1="768.3" x2="347.9" y2="768.3" stroke="#444" stroke-width="0.9"/>
<text x="347.1" y="776.9" font-size="7.4" fill="#444" stroke="#444" text-anchor="middle">40</text>
<line x1="386.8" y1="768.3" x2="388.4" y2="768.3" stroke="#444" stroke-width="0.9"/>
<text x="387.6" y="776.9" font-size="7.4" fill="#444" stroke="#444" text-anchor="middle">45</text>
<line x1="427.3" y1="768.3" x2="428.9" y2="768.3" stroke="#444" stroke-width="0.9"/>
<text x="428.1" y="776.9" font-size="7.4" fill="#444" stroke="#444" text-anchor="middle">50</text>
<text x="356.8" y="789.1" font-size="9.9" fill="#111" stroke="#111" text-anchor="middle">Total chain length</text>
<text transform="translate(245.1,682.1) rotate(-90)" font-size="10" fill="#111" stroke="#111" text-anchor="middle">logFC</text>
<text x="357.2" y="811.8" font-size="12.2" fill="#111" stroke="#111" text-anchor="middle">TG</text>
<path d="M266.10,957.81 L266.73,957.13 L267.56,956.23 L268.54,955.16 L269.64,953.96 L270.82,952.67 L272.05,951.36 L273.27,950.05 L274.47,948.79 L275.59,947.64 L276.60,946.63 L277.51,945.65 L278.35,944.77 L279.14,943.96 L279.91,943.20 L280.67,942.47 L281.44,941.73 L282.24,940.98 L283.08,940.19 L284.00,939.32 L285.00,938.36 L286.08,937.30 L287.23,936.15 L288.42,934.93 L289.66,933.66 L290.94,932.37 L292.25,931.09 L293.57,929.58 L294.91,928.10 L296.26,926.69 L297.60,925.38 L298.96,924.14 L300.37,922.96 L301.80,921.81 L303.26,920.70 L304.72,919.63 L306.18,918.59 L307.63,917.58 L309.05,916.60 L310.44,915.64 L311.78,914.70 L313.08,913.77 L314.37,912.86 L315.65,911.97 L316.91,911.10 L318.14,910.26 L319.35,909.44 L320.53,908.64 L321.67,907.89 L322.78,907.19 L323.85,906.55 L324.88,905.99 L325.87,905.52 L326.83,905.12 L327.75,904.77 L328.64,904.46 L329.51,904.16 L330.35,903.86 L331.17,903.55 L331.98,903.21 L332.78,902.82 L333.54,902.41 L334.25,901.99 L334.93,901.57 L335.58,901.14 L336.22,900.70 L336.86,900.24 L337.50,899.76 L338.17,899.26 L338.86,898.73 L339.60,898.16 L340.38,897.57 L341.20,896.94 L342.04,896.30 L342.90,895.63 L343.77,894.93 L344.64,894.22 L345.51,893.48 L346.36,892.73 L347.20,891.96 L348.00,891.17 L348.76,890.39 L349.49,889.60 L350.18,888.80 L350.86,887.99 L351.54,887.15 L352.23,886.29 L352.95,885.38 L353.70,884.42 L354.49,883.40 L355.35,882.32 L356.28,881.16 L357.29,879.92 L358.35,878.61 L359.45,877.25 L360.57,875.85 L361.69,874.44 L362.79,873.01 L363.87,871.58 L364.89,870.18 L365.85,868.81 L366.75,867.45 L367.61,866.09 L368.44,864.72 L369.24,863.36 L370.02,861.99 L370.78,860.63 L371.52,859.27 L372.26,857.90 L372.99,856.55 L373.73,855.21 L374.45,853.88 L375.17,852.52 L375.87,851.16 L376.56,849.81 L377.24,848.47 L377.91,847.16 L378.57,845.89 L379.24,844.67 L379.89,843.52 L380.55,842.43 L381.19,841.43 L381.80,840.50 L382.40,839.63 L382.98,838.81 L383.57,838.03 L384.17,837.28 L384.78,836.54 L385.43,835.81 L386.12,835.08 L386.85,834.32 L387.63,833.55 L388.46,832.78 L389.32,832.01 L390.21,831.25 L391.12,830.50 L392.04,829.76 L392.98,829.05 L393.91,828.36 L394.85,827.70 L395.78,827.07 L396.70,826.47 L397.65,825.89 L398.60,825.34 L399.57,824.81 L400.53,824.31 L401.50,823.82 L402.45,823.36 L403.39,822.92 L404.32,822.49 L405.23,822.09 L406.10,821.71 L406.95,821.35 L407.77,821.00 L408.59,820.68 L409.39,820.39 L410.20,820.12 L411.02,819.89 L411.86,819.68 L412.73,819.52 L413.62,819.39 L414.58,819.30 L415.59,819.26 L416.65,819.26 L417.73,819.30 L418.81,819.36 L419.87,819.44 L420.91,819.54 L421.88,819.65 L422.79,819.77 L423.60,819.88 L424.30,819.82 L424.91,819.80 L425.44,819.79 L425.91,819.80 L426.36,819.84 L426.79,819.90 L427.23,819.98 L427.71,820.08 L428.24,820.20 L428.85,820.34 L429.53,820.50 L430.26,820.69 L431.02,820.90 L431.81,821.13 L432.62,821.38 L433.45,821.64 L434.28,821.93 L435.11,822.24 L435.93,822.56 L436.73,822.90 L437.55,823.29 L438.43,823.74 L439.34,824.24 L440.25,824.75 L441.15,825.28 L442.02,825.79 L442.82,826.27 L443.53,826.70 L444.13,827.06 L444.60,827.33 L444.60,851.56 L444.13,851.04 L443.53,850.36 L442.82,849.55 L442.02,848.65 L441.15,847.68 L440.25,846.67 L439.34,845.66 L438.43,844.69 L437.55,843.77 L436.73,842.94 L435.93,842.18 L435.11,841.42 L434.28,840.67 L433.45,839.94 L432.62,839.23 L431.81,838.55 L431.02,837.90 L430.26,837.28 L429.53,836.71 L428.85,836.19 L428.24,835.72 L427.71,835.32 L427.23,834.96 L426.79,834.65 L426.36,834.36 L425.91,834.08 L425.44,833.82 L424.91,833.54 L424.30,833.25 L423.60,832.92 L422.79,832.74 L421.88,832.55 L420.91,832.35 L419.87,832.16 L418.81,831.98 L417.73,831.82 L416.65,831.69 L415.59,831.60 L414.58,831.55 L413.62,831.55 L412.73,831.60 L411.86,831.69 L411.02,831.82 L410.20,831.98 L409.39,832.18 L408.59,832.40 L407.77,832.65 L406.95,832.92 L406.10,833.20 L405.23,833.51 L404.32,833.83 L403.39,834.17 L402.45,834.54 L401.50,834.94 L400.53,835.37 L399.57,835.82 L398.60,836.29 L397.65,836.79 L396.70,837.30 L395.78,837.85 L394.85,838.42 L393.91,839.03 L392.98,839.66 L392.04,840.32 L391.12,841.00 L390.21,841.70 L389.32,842.41 L388.46,843.13 L387.63,843.85 L386.85,844.57 L386.12,845.29 L385.43,845.98 L384.78,846.67 L384.17,847.37 L383.57,848.09 L382.98,848.83 L382.40,849.62 L381.80,850.45 L381.19,851.34 L380.55,852.31 L379.89,853.36 L379.24,854.47 L378.57,855.65 L377.91,856.88 L377.24,858.15 L376.56,859.45 L375.87,860.76 L375.17,862.08 L374.45,863.39 L373.73,864.69 L372.99,865.98 L372.26,867.29 L371.52,868.61 L370.78,869.95 L370.02,871.31 L369.24,872.68 L368.44,874.04 L367.61,875.41 L366.75,876.77 L365.85,878.13 L364.89,879.50 L363.87,880.90 L362.79,882.33 L361.69,883.76 L360.57,885.17 L359.45,886.57 L358.35,887.93 L357.29,889.24 L356.28,890.48 L355.35,891.64 L354.49,892.72 L353.70,893.74 L352.95,894.70 L352.23,895.61 L351.54,896.47 L350.86,897.31 L350.18,898.12 L349.49,898.92 L348.76,899.71 L348.00,900.49 L347.20,901.28 L346.36,902.05 L345.51,902.80 L344.64,903.54 L343.77,904.25 L342.90,904.95 L342.04,905.62 L341.20,906.26 L340.38,906.89 L339.60,907.48 L338.86,908.05 L338.17,908.58 L337.50,909.08 L336.86,909.56 L336.22,910.02 L335.58,910.46 L334.93,910.89 L334.25,911.31 L333.54,911.73 L332.78,912.14 L331.98,912.53 L331.17,912.87 L330.35,913.18 L329.51,913.48 L328.64,913.77 L327.75,914.09 L326.83,914.44 L325.87,914.84 L324.88,915.31 L323.85,915.87 L322.78,916.51 L321.67,917.21 L320.53,917.96 L319.35,918.76 L318.14,919.62 L316.91,920.54 L315.65,921.50 L314.37,922.48 L313.08,923.48 L311.78,924.50 L310.44,925.54 L309.05,926.60 L307.63,927.68 L306.18,928.79 L304.72,929.94 L303.26,931.11 L301.80,932.32 L300.37,933.57 L298.96,934.86 L297.60,936.19 L296.26,937.60 L294.91,939.10 L293.57,940.68 L292.25,942.32 L290.94,944.22 L289.66,946.12 L288.42,947.97 L287.23,949.76 L286.08,951.45 L285.00,953.03 L284.00,954.46 L283.08,955.76 L282.24,956.95 L281.44,958.08 L280.67,959.18 L279.91,960.27 L279.14,961.39 L278.35,962.58 L277.51,963.86 L276.60,965.27 L275.59,967.00 L274.47,968.95 L273.27,971.05 L272.05,973.23 L270.82,975.42 L269.64,977.53 L268.54,979.52 L267.56,981.29 L266.73,982.77 L266.10,983.91 Z" fill="#9a9a9a" fill-opacity="0.22"/>
<path d="M266.10,937.31 L266.74,936.62 L267.57,935.72 L268.56,934.65 L269.67,933.44 L270.86,932.16 L272.09,930.84 L273.31,929.53 L274.50,928.28 L275.61,927.13 L276.60,926.12 L277.50,925.06 L278.37,924.04 L279.21,923.06 L280.01,922.14 L280.80,921.26 L281.56,920.42 L282.31,919.63 L283.04,918.88 L283.76,918.17 L284.48,917.50 L285.17,916.90 L285.83,916.37 L286.46,915.89 L287.08,915.47 L287.69,915.08 L288.29,914.71 L288.90,914.36 L289.51,914.00 L290.13,913.62 L290.78,913.22 L291.43,912.79 L292.08,912.37 L292.73,911.87 L293.39,911.32 L294.06,910.78 L294.73,910.23 L295.42,909.68 L296.13,909.14 L296.85,908.59 L297.60,908.04 L298.38,907.49 L299.20,906.93 L300.04,906.36 L300.90,905.80 L301.77,905.23 L302.64,904.68 L303.51,904.13 L304.36,903.60 L305.20,903.09 L306.00,902.60 L306.77,902.13 L307.51,901.68 L308.23,901.23 L308.94,900.81 L309.64,900.39 L310.35,899.99 L311.06,899.61 L311.80,899.24 L312.56,898.88 L313.35,898.54 L314.17,898.20 L315.01,897.87 L315.86,897.55 L316.73,897.24 L317.62,896.95 L318.52,896.68 L319.43,896.42 L320.36,896.19 L321.31,895.99 L322.28,895.83 L323.28,895.73 L324.33,895.69 L325.43,895.70 L326.54,895.74 L327.66,895.80 L328.76,895.87 L329.85,895.92 L330.89,895.94 L331.87,895.92 L332.78,895.83 L333.60,895.70 L334.35,895.54 L335.04,895.35 L335.69,895.14 L336.32,894.90 L336.93,894.65 L337.55,894.38 L338.19,894.10 L338.87,893.80 L339.60,893.50 L340.38,893.20 L341.20,892.91 L342.04,892.61 L342.90,892.29 L343.77,891.96 L344.64,891.60 L345.51,891.21 L346.36,890.78 L347.20,890.31 L348.00,889.78 L348.76,889.20 L349.49,888.60 L350.18,887.96 L350.86,887.29 L351.54,886.57 L352.23,885.82 L352.95,885.02 L353.70,884.17 L354.49,883.27 L355.35,882.32 L356.28,881.29 L357.29,880.18 L358.35,879.00 L359.45,877.76 L360.57,876.50 L361.69,875.21 L362.79,873.92 L363.87,872.64 L364.89,871.40 L365.85,870.20 L366.75,869.04 L367.61,867.89 L368.44,866.75 L369.24,865.62 L370.02,864.50 L370.78,863.38 L371.52,862.27 L372.26,861.17 L372.99,860.07 L373.73,858.98 L374.45,857.89 L375.17,856.78 L375.87,855.67 L376.56,854.57 L377.24,853.48 L377.91,852.42 L378.57,851.40 L379.24,850.41 L379.89,849.49 L380.55,848.63 L381.19,847.84 L381.80,847.12 L382.40,846.46 L382.98,845.84 L383.57,845.26 L384.17,844.71 L384.78,844.16 L385.43,843.61 L386.12,843.06 L386.85,842.48 L387.65,841.88 L388.50,841.28 L389.40,840.68 L390.33,840.09 L391.28,839.50 L392.23,838.92 L393.17,838.35 L394.08,837.80 L394.96,837.27 L395.78,836.75 L396.54,836.26 L397.26,835.77 L397.94,835.29 L398.61,834.82 L399.25,834.37 L399.90,833.94 L400.54,833.53 L401.20,833.15 L401.88,832.79 L402.60,832.46 L403.34,832.13 L404.11,831.83 L404.89,831.55 L405.67,831.30 L406.47,831.06 L407.27,830.85 L408.08,830.67 L408.88,830.50 L409.68,830.36 L410.48,830.24 L411.25,830.15 L412.01,830.06 L412.75,829.99 L413.50,829.95 L414.25,829.93 L415.01,829.94 L415.79,829.99 L416.61,830.07 L417.46,830.19 L418.35,830.36 L419.31,830.57 L420.32,830.82 L421.39,831.11 L422.49,831.43 L423.60,831.79 L424.71,831.96 L425.81,832.17 L426.88,832.42 L427.89,832.71 L428.85,833.04 L429.74,833.43 L430.59,833.88 L431.41,834.37 L432.19,834.91 L432.95,835.48 L433.70,836.07 L434.45,836.69 L435.19,837.32 L435.95,837.95 L436.73,838.57 L437.55,839.24 L438.43,839.98 L439.34,840.77 L440.25,841.58 L441.15,842.39 L442.02,843.17 L442.82,843.89 L443.53,844.54 L444.13,845.09 L444.60,845.51 L444.60,867.87 L444.13,867.23 L443.53,866.39 L442.82,865.39 L442.02,864.27 L441.15,863.07 L440.25,861.82 L439.34,860.57 L438.43,859.34 L437.55,858.17 L436.73,857.10 L435.95,856.09 L435.19,855.09 L434.45,854.10 L433.70,853.12 L432.95,852.16 L432.19,851.21 L431.41,850.30 L430.59,849.41 L429.74,848.54 L428.85,847.72 L427.89,846.92 L426.88,846.13 L425.81,845.36 L424.71,844.62 L423.60,843.90 L422.49,843.45 L421.39,843.03 L420.32,842.65 L419.31,842.31 L418.35,842.01 L417.46,841.76 L416.61,841.56 L415.79,841.41 L415.01,841.30 L414.25,841.22 L413.50,841.17 L412.75,841.15 L412.01,841.15 L411.25,841.17 L410.48,841.20 L409.68,841.24 L408.88,841.31 L408.08,841.40 L407.27,841.52 L406.47,841.66 L405.67,841.82 L404.89,842.01 L404.11,842.22 L403.34,842.45 L402.60,842.71 L401.88,843.02 L401.20,843.36 L400.54,843.72 L399.90,844.11 L399.25,844.52 L398.61,844.95 L397.94,845.40 L397.26,845.86 L396.54,846.33 L395.78,846.80 L394.96,847.29 L394.08,847.80 L393.17,848.32 L392.23,848.86 L391.28,849.42 L390.33,849.98 L389.40,850.54 L388.50,851.12 L387.65,851.69 L386.85,852.26 L386.12,852.82 L385.43,853.36 L384.78,853.88 L384.17,854.41 L383.57,854.95 L382.98,855.52 L382.40,856.11 L381.80,856.76 L381.19,857.46 L380.55,858.23 L379.89,859.07 L379.24,859.98 L378.57,860.94 L377.91,861.94 L377.24,862.98 L376.56,864.05 L375.87,865.13 L375.17,866.22 L374.45,867.31 L373.73,868.38 L372.99,869.44 L372.26,870.52 L371.52,871.60 L370.78,872.70 L370.02,873.82 L369.24,874.94 L368.44,876.07 L367.61,877.21 L366.75,878.36 L365.85,879.52 L364.89,880.72 L363.87,881.96 L362.79,883.24 L361.69,884.53 L360.57,885.82 L359.45,887.08 L358.35,888.32 L357.29,889.50 L356.28,890.61 L355.35,891.64 L354.49,892.59 L353.70,893.49 L352.95,894.34 L352.23,895.14 L351.54,895.89 L350.86,896.61 L350.18,897.28 L349.49,897.92 L348.76,898.52 L348.00,899.10 L347.20,899.63 L346.36,900.10 L345.51,900.53 L344.64,900.92 L343.77,901.28 L342.90,901.61 L342.04,901.93 L341.20,902.23 L340.38,902.52 L339.60,902.82 L338.87,903.12 L338.19,903.42 L337.55,903.70 L336.93,903.97 L336.32,904.22 L335.69,904.46 L335.04,904.67 L334.35,904.86 L333.60,905.02 L332.78,905.15 L331.87,905.24 L330.89,905.26 L329.85,905.24 L328.76,905.19 L327.66,905.12 L326.54,905.06 L325.43,905.02 L324.33,905.01 L323.28,905.05 L322.28,905.15 L321.31,905.31 L320.36,905.51 L319.43,905.74 L318.52,906.01 L317.62,906.31 L316.73,906.63 L315.86,906.97 L315.01,907.32 L314.17,907.68 L313.35,908.04 L312.56,908.41 L311.80,908.80 L311.06,909.20 L310.35,909.61 L309.64,910.03 L308.94,910.47 L308.23,910.92 L307.51,911.39 L306.77,911.87 L306.00,912.37 L305.20,912.88 L304.36,913.43 L303.51,913.99 L302.64,914.56 L301.77,915.15 L300.90,915.75 L300.04,916.34 L299.20,916.94 L298.38,917.53 L297.60,918.11 L296.85,918.68 L296.13,919.25 L295.42,919.83 L294.73,920.40 L294.06,920.97 L293.39,921.54 L292.73,922.11 L292.08,922.73 L291.43,923.43 L290.78,924.12 L290.13,924.79 L289.51,925.43 L288.90,926.04 L288.29,926.65 L287.69,927.26 L287.08,927.90 L286.46,928.58 L285.83,929.32 L285.17,930.13 L284.48,931.02 L283.76,931.98 L283.04,932.98 L282.31,934.04 L281.56,935.14 L280.80,936.29 L280.01,937.50 L279.21,938.76 L278.37,940.08 L277.50,941.46 L276.60,942.90 L275.61,944.70 L274.50,946.73 L273.31,948.93 L272.09,951.22 L270.86,953.52 L269.67,955.76 L268.56,957.84 L267.57,959.71 L266.74,961.28 L266.10,962.47 Z" fill="#9a9a9a" fill-opacity="0.22"/>
<line x1="258.6" y1="919.6" x2="453.8" y2="919.6" stroke="#111" stroke-width="1.4" stroke-dasharray="5.8 4.9"/>
<path d="M266.10,949.89 L266.74,948.95 L267.57,947.72 L268.56,946.25 L269.67,944.60 L270.86,942.84 L272.08,941.03 L273.31,939.23 L274.50,937.51 L275.61,935.91 L276.60,934.51 L277.50,933.26 L278.37,932.06 L279.21,930.91 L280.01,929.82 L280.80,928.77 L281.56,927.78 L282.31,926.83 L283.04,925.93 L283.76,925.07 L284.48,924.26 L285.17,923.51 L285.83,922.84 L286.46,922.24 L287.08,921.69 L287.69,921.17 L288.29,920.68 L288.90,920.20 L289.51,919.71 L290.13,919.21 L290.78,918.67 L291.43,918.11 L292.08,917.55 L292.73,916.99 L293.39,916.43 L294.06,915.87 L294.73,915.31 L295.42,914.75 L296.13,914.19 L296.85,913.64 L297.60,913.08 L298.38,912.51 L299.20,911.94 L300.04,911.35 L300.90,910.77 L301.77,910.19 L302.64,909.62 L303.51,909.06 L304.36,908.51 L305.20,907.99 L306.00,907.48 L306.77,907.00 L307.51,906.53 L308.23,906.08 L308.94,905.64 L309.64,905.21 L310.35,904.80 L311.06,904.40 L311.80,904.02 L312.56,903.65 L313.35,903.29 L314.17,902.94 L315.01,902.60 L315.86,902.26 L316.73,901.94 L317.62,901.63 L318.52,901.34 L319.43,901.08 L320.36,900.85 L321.31,900.65 L322.28,900.49 L323.28,900.39 L324.33,900.35 L325.43,900.36 L326.54,900.40 L327.66,900.46 L328.76,900.53 L329.85,900.58 L330.88,900.60 L331.87,900.58 L332.78,900.49 L333.60,900.36 L334.35,900.20 L335.04,900.01 L335.69,899.80 L336.32,899.56 L336.93,899.31 L337.55,899.04 L338.19,898.76 L338.87,898.46 L339.60,898.16 L340.38,897.86 L341.20,897.57 L342.04,897.27 L342.90,896.95 L343.77,896.62 L344.64,896.26 L345.51,895.87 L346.36,895.44 L347.20,894.97 L348.00,894.44 L348.76,893.86 L349.49,893.26 L350.18,892.62 L350.86,891.95 L351.54,891.23 L352.23,890.48 L352.95,889.68 L353.70,888.83 L354.49,887.93 L355.35,886.98 L356.28,885.95 L357.29,884.84 L358.35,883.66 L359.45,882.42 L360.57,881.16 L361.69,879.87 L362.79,878.58 L363.87,877.30 L364.89,876.06 L365.85,874.86 L366.75,873.70 L367.61,872.55 L368.44,871.41 L369.24,870.28 L370.02,869.16 L370.78,868.04 L371.52,866.94 L372.26,865.84 L372.99,864.76 L373.73,863.68 L374.45,862.60 L375.17,861.50 L375.87,860.40 L376.56,859.31 L377.24,858.23 L377.91,857.18 L378.57,856.17 L379.24,855.20 L379.89,854.28 L380.55,853.43 L381.19,852.65 L381.80,851.94 L382.40,851.29 L382.98,850.68 L383.57,850.11 L384.17,849.56 L384.78,849.02 L385.43,848.48 L386.12,847.94 L386.85,847.37 L387.65,846.79 L388.50,846.20 L389.40,845.61 L390.33,845.03 L391.28,844.46 L392.23,843.89 L393.17,843.34 L394.08,842.80 L394.96,842.28 L395.78,841.78 L396.54,841.29 L397.26,840.81 L397.94,840.34 L398.61,839.89 L399.25,839.45 L399.90,839.03 L400.54,838.63 L401.20,838.25 L401.88,837.90 L402.60,837.58 L403.34,837.29 L404.11,837.02 L404.89,836.78 L405.67,836.56 L406.47,836.36 L407.27,836.19 L408.08,836.03 L408.88,835.91 L409.68,835.80 L410.48,835.72 L411.25,835.66 L412.01,835.60 L412.75,835.57 L413.50,835.56 L414.25,835.57 L415.01,835.62 L415.79,835.70 L416.61,835.82 L417.46,835.98 L418.35,836.19 L419.31,836.44 L420.32,836.73 L421.39,837.07 L422.49,837.44 L423.60,837.85 L424.71,838.29 L425.81,838.76 L426.88,839.27 L427.89,839.81 L428.85,840.38 L429.74,840.99 L430.59,841.64 L431.41,842.33 L432.19,843.06 L432.95,843.82 L433.70,844.60 L434.45,845.39 L435.19,846.20 L435.95,847.02 L436.73,847.84 L437.55,848.70 L438.43,849.66 L439.34,850.67 L440.25,851.70 L441.15,852.73 L442.02,853.72 L442.82,854.64 L443.53,855.46 L444.13,856.16 L444.60,856.69" fill="none" stroke="#5964be" stroke-width="2.6" stroke-linejoin="round" stroke-linecap="butt"/>
<path d="M266.10,970.86 L266.73,969.95 L267.56,968.76 L268.54,967.34 L269.64,965.75 L270.83,964.04 L272.05,962.29 L273.27,960.55 L274.47,958.87 L275.59,957.32 L276.60,955.95 L277.51,954.76 L278.35,953.67 L279.14,952.68 L279.91,951.74 L280.67,950.82 L281.44,949.91 L282.24,948.97 L283.08,947.97 L284.00,946.89 L285.00,945.70 L286.08,944.38 L287.23,942.95 L288.42,941.45 L289.66,939.89 L290.94,938.30 L292.25,936.70 L293.57,935.13 L294.91,933.60 L296.26,932.15 L297.60,930.78 L298.96,929.50 L300.37,928.26 L301.80,927.07 L303.26,925.91 L304.72,924.78 L306.18,923.69 L307.63,922.63 L309.05,921.60 L310.44,920.59 L311.78,919.60 L313.08,918.63 L314.37,917.67 L315.65,916.73 L316.91,915.82 L318.14,914.94 L319.35,914.10 L320.53,913.30 L321.67,912.55 L322.78,911.85 L323.85,911.21 L324.88,910.65 L325.87,910.18 L326.83,909.78 L327.75,909.43 L328.64,909.12 L329.51,908.82 L330.35,908.52 L331.17,908.21 L331.98,907.87 L332.78,907.48 L333.54,907.07 L334.25,906.65 L334.93,906.23 L335.58,905.80 L336.22,905.36 L336.86,904.90 L337.50,904.42 L338.17,903.92 L338.86,903.39 L339.60,902.82 L340.38,902.23 L341.20,901.60 L342.04,900.96 L342.90,900.29 L343.77,899.59 L344.64,898.88 L345.51,898.14 L346.36,897.39 L347.20,896.62 L348.00,895.83 L348.76,895.05 L349.49,894.26 L350.18,893.46 L350.86,892.65 L351.54,891.81 L352.23,890.95 L352.95,890.04 L353.70,889.08 L354.49,888.06 L355.35,886.98 L356.28,885.82 L357.29,884.58 L358.35,883.27 L359.45,881.91 L360.57,880.51 L361.69,879.10 L362.79,877.67 L363.87,876.24 L364.89,874.84 L365.85,873.47 L366.75,872.11 L367.61,870.75 L368.44,869.38 L369.24,868.02 L370.02,866.65 L370.78,865.29 L371.52,863.94 L372.26,862.60 L372.99,861.27 L373.73,859.95 L374.45,858.64 L375.17,857.30 L375.87,855.96 L376.56,854.63 L377.24,853.31 L377.91,852.02 L378.57,850.77 L379.24,849.57 L379.89,848.44 L380.55,847.37 L381.19,846.38 L381.80,845.47 L382.40,844.62 L382.98,843.82 L383.57,843.06 L384.17,842.33 L384.78,841.61 L385.43,840.90 L386.12,840.18 L386.85,839.45 L387.63,838.70 L388.46,837.95 L389.32,837.21 L390.21,836.47 L391.12,835.75 L392.04,835.04 L392.98,834.35 L393.91,833.69 L394.85,833.06 L395.78,832.46 L396.70,831.89 L397.65,831.34 L398.60,830.82 L399.57,830.31 L400.53,829.84 L401.50,829.38 L402.45,828.95 L403.39,828.54 L404.32,828.16 L405.23,827.80 L406.10,827.46 L406.95,827.13 L407.77,826.82 L408.59,826.54 L409.39,826.28 L410.20,826.05 L411.02,825.85 L411.86,825.69 L412.73,825.56 L413.62,825.47 L414.58,825.42 L415.59,825.43 L416.65,825.48 L417.73,825.56 L418.81,825.67 L419.87,825.80 L420.91,825.95 L421.88,826.10 L422.79,826.25 L423.60,826.40 L424.30,826.54 L424.91,826.67 L425.44,826.80 L425.91,826.94 L426.36,827.10 L426.79,827.27 L427.23,827.47 L427.71,827.70 L428.24,827.96 L428.85,828.26 L429.53,828.61 L430.26,828.99 L431.02,829.40 L431.81,829.84 L432.62,830.30 L433.45,830.79 L434.28,831.30 L435.11,831.83 L435.93,832.37 L436.73,832.92 L437.55,833.53 L438.43,834.21 L439.34,834.95 L440.25,835.71 L441.15,836.48 L442.02,837.22 L442.82,837.91 L443.53,838.53 L444.13,839.05 L444.60,839.45" fill="none" stroke="#ee5536" stroke-width="2.6" stroke-linejoin="round" stroke-linecap="butt"/>
<text x="256.5" y="968.7" font-size="7.4" fill="#444" stroke="#444" text-anchor="end">−1</text>
<line x1="257.6" y1="967.4" x2="259.2" y2="967.4" stroke="#444" stroke-width="1"/>
<text x="256.5" y="922.1" font-size="7.4" fill="#444" stroke="#444" text-anchor="end">0</text>
<line x1="257.6" y1="920.8" x2="259.2" y2="920.8" stroke="#444" stroke-width="1"/>
<text x="256.5" y="875.5" font-size="7.4" fill="#444" stroke="#444" text-anchor="end">1</text>
<line x1="257.6" y1="874.2" x2="259.2" y2="874.2" stroke="#444" stroke-width="1"/>
<text x="256.5" y="828.9" font-size="7.4" fill="#444" stroke="#444" text-anchor="end">2</text>
<line x1="257.6" y1="827.6" x2="259.2" y2="827.6" stroke="#444" stroke-width="1"/>
<line x1="265.3" y1="992.5" x2="266.9" y2="992.5" stroke="#444" stroke-width="0.9"/>
<text x="266.1" y="1001.1" font-size="7.4" fill="#444" stroke="#444" text-anchor="middle">40</text>
<line x1="291.6" y1="992.5" x2="293.2" y2="992.5" stroke="#444" stroke-width="0.9"/>
<text x="292.4" y="1001.1" font-size="7.4" fill="#444" stroke="#444" text-anchor="middle">45</text>
<line x1="317.8" y1="992.5" x2="319.4" y2="992.5" stroke="#444" stroke-width="0.9"/>
<text x="318.6" y="1001.1" font-size="7.4" fill="#444" stroke="#444" text-anchor="middle">50</text>
<line x1="344.1" y1="992.5" x2="345.7" y2="992.5" stroke="#444" stroke-width="0.9"/>
<text x="344.9" y="1001.1" font-size="7.4" fill="#444" stroke="#444" text-anchor="middle">55</text>
<line x1="370.3" y1="992.5" x2="371.9" y2="992.5" stroke="#444" stroke-width="0.9"/>
<text x="371.1" y="1001.1" font-size="7.4" fill="#444" stroke="#444" text-anchor="middle">60</text>
<line x1="396.6" y1="992.5" x2="398.2" y2="992.5" stroke="#444" stroke-width="0.9"/>
<text x="397.4" y="1001.1" font-size="7.4" fill="#444" stroke="#444" text-anchor="middle">65</text>
<line x1="422.8" y1="992.5" x2="424.4" y2="992.5" stroke="#444" stroke-width="0.9"/>
<text x="423.6" y="1001.1" font-size="7.4" fill="#444" stroke="#444" text-anchor="middle">70</text>
<line x1="449.1" y1="992.5" x2="450.7" y2="992.5" stroke="#444" stroke-width="0.9"/>
<text x="449.9" y="1001.1" font-size="7.4" fill="#444" stroke="#444" text-anchor="middle">75</text>
<text x="356.8" y="1015.0" font-size="9.9" fill="#111" stroke="#111" text-anchor="middle">Total chain length</text>
<text transform="translate(245.1,905.6) rotate(-90)" font-size="10" fill="#111" stroke="#111" text-anchor="middle">logFC</text>
<text x="4.6" y="392.6" font-size="22" font-weight="bold" fill="#111" stroke="#111">B</text>
<text x="140.2" y="363.6" font-size="12.5" fill="#222" stroke="#222" text-anchor="middle">1-acyl LPC(26:0)</text>
<line x1="50.8" y1="369.8" x2="50.8" y2="552.6" stroke="#222" stroke-width="1.1"/>
<line x1="50.3" y1="552" x2="232.3" y2="552" stroke="#222" stroke-width="1.1"/>
<line x1="45.3" y1="370.5" x2="50.8" y2="370.5" stroke="#222" stroke-width="1.1"/>
<text x="43" y="373.8" font-size="13.3" fill="#222" stroke="#222" text-anchor="end">15</text>
<line x1="45.3" y1="430.9" x2="50.8" y2="430.9" stroke="#222" stroke-width="1.1"/>
<text x="43" y="434.1" font-size="13.3" fill="#222" stroke="#222" text-anchor="end">10</text>
<line x1="45.3" y1="491.4" x2="50.8" y2="491.4" stroke="#222" stroke-width="1.1"/>
<text x="43" y="494.6" font-size="13.3" fill="#222" stroke="#222" text-anchor="end">5</text>
<line x1="45.3" y1="551.8" x2="50.8" y2="551.8" stroke="#222" stroke-width="1.1"/>
<text x="43" y="555.0" font-size="13.3" fill="#222" stroke="#222" text-anchor="end">0</text>
<line x1="99.2" y1="552" x2="99.2" y2="556.5" stroke="#222" stroke-width="1.1"/>
<text x="100.60000000000001" y="568.6" font-size="11.3" fill="#222" stroke="#222" text-anchor="middle">mild &gt;55</text>
<line x1="182.9" y1="552" x2="182.9" y2="556.5" stroke="#222" stroke-width="1.1"/>
<text x="182.9" y="568.6" font-size="11.3" fill="#222" stroke="#222" text-anchor="middle">severe</text>
<text transform="translate(19.1,461.9) rotate(-90)" font-size="10.9" fill="#222" stroke="#222" text-anchor="middle">Ratio to IS</text>
<line x1="99.2" y1="379.3" x2="183.8" y2="379.3" stroke="#333" stroke-width="1.0"/>
<text x="140.6" y="381.7" font-size="17" fill="#222" stroke="#222" text-anchor="middle">*</text>
<line x1="99.4" y1="485.3" x2="99.4" y2="531.3" stroke="#2a2a2a" stroke-width="1.3"/>
<line x1="82.2" y1="485.3" x2="116.6" y2="485.3" stroke="#2a2a2a" stroke-width="1.3"/>
<line x1="82.2" y1="531.3" x2="116.6" y2="531.3" stroke="#2a2a2a" stroke-width="1.3"/>
<rect x="65.3" y="497.6" width="68.2" height="17.3" fill="#c9ddf1" stroke="#2a2a2a" stroke-width="1.3"/>
<line x1="65.3" y1="511.8" x2="133.5" y2="511.8" stroke="#2a2a2a" stroke-width="1.3"/>
<circle cx="99.3" cy="480" r="1.8" fill="#2f4ea0" stroke="#15225a" stroke-width="0.6"/>
<circle cx="99.3" cy="487.7" r="1.8" fill="#2f4ea0" stroke="#15225a" stroke-width="0.6"/>
<circle cx="95.6" cy="495.6" r="1.8" fill="#2f4ea0" stroke="#15225a" stroke-width="0.6"/>
<circle cx="102.9" cy="493.2" r="1.8" fill="#2f4ea0" stroke="#15225a" stroke-width="0.6"/>
<circle cx="102.9" cy="499.7" r="1.8" fill="#2f4ea0" stroke="#15225a" stroke-width="0.6"/>
<circle cx="95.6" cy="502.8" r="1.8" fill="#2f4ea0" stroke="#15225a" stroke-width="0.6"/>
<circle cx="99.3" cy="507.7" r="1.8" fill="#2f4ea0" stroke="#15225a" stroke-width="0.6"/>
<circle cx="95.6" cy="512" r="1.8" fill="#2f4ea0" stroke="#15225a" stroke-width="0.6"/>
<circle cx="88.4" cy="514.2" r="1.8" fill="#2f4ea0" stroke="#15225a" stroke-width="0.6"/>
<circle cx="95.6" cy="516.1" r="1.8" fill="#2f4ea0" stroke="#15225a" stroke-width="0.6"/>
<circle cx="102.9" cy="514.9" r="1.8" fill="#2f4ea0" stroke="#15225a" stroke-width="0.6"/>
<circle cx="110.1" cy="511.8" r="1.8" fill="#2f4ea0" stroke="#15225a" stroke-width="0.6"/>
<circle cx="110.1" cy="515.6" r="1.8" fill="#2f4ea0" stroke="#15225a" stroke-width="0.6"/>
<circle cx="99.3" cy="526.2" r="1.8" fill="#2f4ea0" stroke="#15225a" stroke-width="0.6"/>
<circle cx="99.3" cy="530.1" r="1.8" fill="#2f4ea0" stroke="#15225a" stroke-width="0.6"/>
<circle cx="99.3" cy="535.4" r="1.8" fill="#2f4ea0" stroke="#15225a" stroke-width="0.6"/>
<line x1="183.1" y1="389.2" x2="183.1" y2="510.1" stroke="#2a2a2a" stroke-width="1.3"/>
<line x1="166" y1="389.2" x2="200.2" y2="389.2" stroke="#2a2a2a" stroke-width="1.3"/>
<line x1="166" y1="510.1" x2="200.2" y2="510.1" stroke="#2a2a2a" stroke-width="1.3"/>
<rect x="149.1" y="436.6" width="68.0" height="58.3" fill="#fde1e3" stroke="#2a2a2a" stroke-width="1.3"/>
<line x1="149.1" y1="465.5" x2="217.1" y2="465.5" stroke="#2a2a2a" stroke-width="1.3"/>
<circle cx="182.8" cy="386" r="1.8" fill="#ec4a4a" stroke="#901818" stroke-width="0.6"/>
<circle cx="182.8" cy="390.8" r="1.8" fill="#ec4a4a" stroke="#901818" stroke-width="0.6"/>
<circle cx="182.8" cy="401.7" r="1.8" fill="#ec4a4a" stroke="#901818" stroke-width="0.6"/>
<circle cx="179.2" cy="434.9" r="1.8" fill="#ec4a4a" stroke="#901818" stroke-width="0.6"/>
<circle cx="186.5" cy="437.8" r="1.8" fill="#ec4a4a" stroke="#901818" stroke-width="0.6"/>
<circle cx="186.5" cy="446.2" r="1.8" fill="#ec4a4a" stroke="#901818" stroke-width="0.6"/>
<circle cx="179.2" cy="448.7" r="1.8" fill="#ec4a4a" stroke="#901818" stroke-width="0.6"/>
<circle cx="182.8" cy="460" r="1.8" fill="#ec4a4a" stroke="#901818" stroke-width="0.6"/>
<circle cx="186.5" cy="471.1" r="1.8" fill="#ec4a4a" stroke="#901818" stroke-width="0.6"/>
<circle cx="179.2" cy="472.3" r="1.8" fill="#ec4a4a" stroke="#901818" stroke-width="0.6"/>
<circle cx="182.8" cy="484.8" r="1.8" fill="#ec4a4a" stroke="#901818" stroke-width="0.6"/>
<circle cx="182.8" cy="495.1" r="1.8" fill="#ec4a4a" stroke="#901818" stroke-width="0.6"/>
<circle cx="182.8" cy="500" r="1.8" fill="#ec4a4a" stroke="#901818" stroke-width="0.6"/>
<circle cx="179.2" cy="508.9" r="1.8" fill="#ec4a4a" stroke="#901818" stroke-width="0.6"/>
<circle cx="186.5" cy="511.8" r="1.8" fill="#ec4a4a" stroke="#901818" stroke-width="0.6"/>
<text x="141.2" y="594.6" font-size="12.5" fill="#222" stroke="#222" text-anchor="middle">LPC(28:0)</text>
<line x1="51.9" y1="593.8" x2="51.9" y2="774.5" stroke="#222" stroke-width="1.1"/>
<line x1="51.4" y1="773.9" x2="232.3" y2="773.9" stroke="#222" stroke-width="1.1"/>
<line x1="46.4" y1="593.4" x2="51.9" y2="593.4" stroke="#222" stroke-width="1.1"/>
<text x="43.8" y="598.1" font-size="13.3" fill="#222" stroke="#222" text-anchor="end">2.0</text>
<line x1="46.4" y1="638.4" x2="51.9" y2="638.4" stroke="#222" stroke-width="1.1"/>
<text x="43.8" y="643.1" font-size="13.3" fill="#222" stroke="#222" text-anchor="end">1.5</text>
<line x1="46.4" y1="683.4" x2="51.9" y2="683.4" stroke="#222" stroke-width="1.1"/>
<text x="43.8" y="688.1" font-size="13.3" fill="#222" stroke="#222" text-anchor="end">1.0</text>
<line x1="46.4" y1="728.4" x2="51.9" y2="728.4" stroke="#222" stroke-width="1.1"/>
<text x="43.8" y="733.1" font-size="13.3" fill="#222" stroke="#222" text-anchor="end">0.5</text>
<line x1="46.4" y1="773.4" x2="51.9" y2="773.4" stroke="#222" stroke-width="1.1"/>
<text x="43.8" y="778.1" font-size="13.3" fill="#222" stroke="#222" text-anchor="end">0.0</text>
<line x1="100.9" y1="773.9" x2="100.9" y2="778.4" stroke="#222" stroke-width="1.1"/>
<text x="102.30000000000001" y="791.6" font-size="11.3" fill="#222" stroke="#222" text-anchor="middle">mild &gt;55</text>
<line x1="183.4" y1="773.9" x2="183.4" y2="778.4" stroke="#222" stroke-width="1.1"/>
<text x="183.4" y="791.6" font-size="11.3" fill="#222" stroke="#222" text-anchor="middle">severe</text>
<text transform="translate(19.1,685.3) rotate(-90)" font-size="10.9" fill="#222" stroke="#222" text-anchor="middle">Ratio to IS</text>
<line x1="100.9" y1="614.8" x2="184" y2="614.8" stroke="#888" stroke-width="1.0"/>
<text x="142.6" y="616.8" font-size="17" fill="#222" stroke="#222" text-anchor="middle">*</text>
<line x1="100.35" y1="723.9" x2="100.35" y2="758.6" stroke="#2a2a2a" stroke-width="1.3"/>
<line x1="82.9" y1="723.9" x2="118.3" y2="723.9" stroke="#2a2a2a" stroke-width="1.3"/>
<line x1="82.9" y1="758.6" x2="118.3" y2="758.6" stroke="#2a2a2a" stroke-width="1.3"/>
<rect x="66.5" y="729.3" width="67.7" height="20.9" fill="#c9ddf1" stroke="#2a2a2a" stroke-width="1.3"/>
<line x1="66.5" y1="736" x2="134.2" y2="736" stroke="#2a2a2a" stroke-width="1.3"/>
<circle cx="100.5" cy="720.1" r="1.8" fill="#2f4ea0" stroke="#15225a" stroke-width="0.6"/>
<circle cx="100.5" cy="726.3" r="1.8" fill="#2f4ea0" stroke="#15225a" stroke-width="0.6"/>
<circle cx="107.7" cy="726.3" r="1.8" fill="#2f4ea0" stroke="#15225a" stroke-width="0.6"/>
<circle cx="86" cy="728.8" r="1.8" fill="#2f4ea0" stroke="#15225a" stroke-width="0.6"/>
<circle cx="93.2" cy="728.5" r="1.8" fill="#2f4ea0" stroke="#15225a" stroke-width="0.6"/>
<circle cx="107.7" cy="730" r="1.8" fill="#2f4ea0" stroke="#15225a" stroke-width="0.6"/>
<circle cx="114.9" cy="729.2" r="1.8" fill="#2f4ea0" stroke="#15225a" stroke-width="0.6"/>
<circle cx="100.5" cy="735.3" r="1.8" fill="#2f4ea0" stroke="#15225a" stroke-width="0.6"/>
<circle cx="107.7" cy="737" r="1.8" fill="#2f4ea0" stroke="#15225a" stroke-width="0.6"/>
<circle cx="93.2" cy="738.9" r="1.8" fill="#2f4ea0" stroke="#15225a" stroke-width="0.6"/>
<circle cx="100.5" cy="738.9" r="1.8" fill="#2f4ea0" stroke="#15225a" stroke-width="0.6"/>
<circle cx="100.5" cy="744.4" r="1.8" fill="#2f4ea0" stroke="#15225a" stroke-width="0.6"/>
<circle cx="100.5" cy="756.2" r="1.8" fill="#2f4ea0" stroke="#15225a" stroke-width="0.6"/>
<circle cx="107.7" cy="753.8" r="1.8" fill="#2f4ea0" stroke="#15225a" stroke-width="0.6"/>
<circle cx="107.7" cy="758.6" r="1.8" fill="#2f4ea0" stroke="#15225a" stroke-width="0.6"/>
<circle cx="93.2" cy="759.8" r="1.8" fill="#2f4ea0" stroke="#15225a" stroke-width="0.6"/>
<line x1="184.05" y1="623.2" x2="184.05" y2="738.2" stroke="#2a2a2a" stroke-width="1.3"/>
<line x1="166.5" y1="623.2" x2="201.6" y2="623.2" stroke="#2a2a2a" stroke-width="1.3"/>
<line x1="166.5" y1="738.2" x2="201.6" y2="738.2" stroke="#2a2a2a" stroke-width="1.3"/>
<rect x="150.3" y="647.3" width="67.5" height="77.8" fill="#fde1e3" stroke="#2a2a2a" stroke-width="1.3"/>
<line x1="150.3" y1="688.3" x2="217.8" y2="688.3" stroke="#2a2a2a" stroke-width="1.3"/>
<circle cx="183.6" cy="618.4" r="1.8" fill="#ec4a4a" stroke="#901818" stroke-width="0.6"/>
<circle cx="183.6" cy="626.4" r="1.8" fill="#ec4a4a" stroke="#901818" stroke-width="0.6"/>
<circle cx="183.6" cy="633.4" r="1.8" fill="#ec4a4a" stroke="#901818" stroke-width="0.6"/>
<circle cx="183.6" cy="646.6" r="1.8" fill="#ec4a4a" stroke="#901818" stroke-width="0.6"/>
<circle cx="180" cy="655.8" r="1.8" fill="#ec4a4a" stroke="#901818" stroke-width="0.6"/>
<circle cx="187.7" cy="653.4" r="1.8" fill="#ec4a4a" stroke="#901818" stroke-width="0.6"/>
<circle cx="183.6" cy="661.8" r="1.8" fill="#ec4a4a" stroke="#901818" stroke-width="0.6"/>
<circle cx="183.6" cy="687.8" r="1.8" fill="#ec4a4a" stroke="#901818" stroke-width="0.6"/>
<circle cx="183.6" cy="693.8" r="1.8" fill="#ec4a4a" stroke="#901818" stroke-width="0.6"/>
<circle cx="183.6" cy="718.9" r="1.8" fill="#ec4a4a" stroke="#901818" stroke-width="0.6"/>
<circle cx="180" cy="722.7" r="1.8" fill="#ec4a4a" stroke="#901818" stroke-width="0.6"/>
<circle cx="187.7" cy="726.1" r="1.8" fill="#ec4a4a" stroke="#901818" stroke-width="0.6"/>
<circle cx="183.6" cy="732.8" r="1.8" fill="#ec4a4a" stroke="#901818" stroke-width="0.6"/>
<circle cx="187.7" cy="736.5" r="1.8" fill="#ec4a4a" stroke="#901818" stroke-width="0.6"/>
<circle cx="180" cy="740.1" r="1.8" fill="#ec4a4a" stroke="#901818" stroke-width="0.6"/>
<text x="140.2" y="820.6" font-size="12.5" fill="#222" stroke="#222" text-anchor="middle">PC(O-44:1)</text>
<line x1="53.3" y1="818.7" x2="53.3" y2="998.4" stroke="#222" stroke-width="1.1"/>
<line x1="52.8" y1="997.8" x2="232.3" y2="997.8" stroke="#222" stroke-width="1.1"/>
<line x1="47.8" y1="819.2" x2="53.3" y2="819.2" stroke="#222" stroke-width="1.1"/>
<text x="41.6" y="824.0" font-size="13.3" fill="#222" stroke="#222" text-anchor="end">0.8</text>
<line x1="47.8" y1="863.9" x2="53.3" y2="863.9" stroke="#222" stroke-width="1.1"/>
<text x="41.6" y="868.6" font-size="13.3" fill="#222" stroke="#222" text-anchor="end">0.6</text>
<line x1="47.8" y1="908.6" x2="53.3" y2="908.6" stroke="#222" stroke-width="1.1"/>
<text x="41.6" y="913.4" font-size="13.3" fill="#222" stroke="#222" text-anchor="end">0.4</text>
<line x1="47.8" y1="953.3" x2="53.3" y2="953.3" stroke="#222" stroke-width="1.1"/>
<text x="41.6" y="958.0" font-size="13.3" fill="#222" stroke="#222" text-anchor="end">0.2</text>
<line x1="47.8" y1="997.8" x2="53.3" y2="997.8" stroke="#222" stroke-width="1.1"/>
<text x="41.6" y="1002.5" font-size="13.3" fill="#222" stroke="#222" text-anchor="end">0.0</text>
<line x1="101.4" y1="997.8" x2="101.4" y2="1002.3" stroke="#222" stroke-width="1.1"/>
<text x="102.80000000000001" y="1016.1" font-size="11.3" fill="#222" stroke="#222" text-anchor="middle">mild &gt;55</text>
<line x1="183.6" y1="997.8" x2="183.6" y2="1002.3" stroke="#222" stroke-width="1.1"/>
<text x="183.6" y="1016.1" font-size="11.3" fill="#222" stroke="#222" text-anchor="middle">severe</text>
<text transform="translate(19.1,909.2) rotate(-90)" font-size="10.9" fill="#222" stroke="#222" text-anchor="middle">Ratio to IS</text>
<line x1="101.4" y1="856.2" x2="184.5" y2="856.2" stroke="#333" stroke-width="1.0"/>
<text x="143.1" y="857.7" font-size="17" fill="#222" stroke="#222" text-anchor="middle">*</text>
<line x1="97.6" y1="922.4" x2="97.6" y2="975.6" stroke="#2a2a2a" stroke-width="1.3"/>
<line x1="80.5" y1="922.4" x2="114.7" y2="922.4" stroke="#2a2a2a" stroke-width="1.3"/>
<line x1="80.5" y1="975.6" x2="114.7" y2="975.6" stroke="#2a2a2a" stroke-width="1.3"/>
<rect x="64.1" y="938.3" width="67.0" height="25.8" fill="#c9ddf1" stroke="#2a2a2a" stroke-width="1.3"/>
<line x1="64.1" y1="953.2" x2="131.1" y2="953.2" stroke="#2a2a2a" stroke-width="1.3"/>
<circle cx="97.3" cy="883.4" r="1.8" fill="#2f4ea0" stroke="#15225a" stroke-width="0.6"/>
<circle cx="97.3" cy="932" r="1.8" fill="#2f4ea0" stroke="#15225a" stroke-width="0.6"/>
<circle cx="90.1" cy="935.1" r="1.8" fill="#2f4ea0" stroke="#15225a" stroke-width="0.6"/>
<circle cx="104.6" cy="935.9" r="1.8" fill="#2f4ea0" stroke="#15225a" stroke-width="0.6"/>
<circle cx="97.3" cy="939.2" r="1.8" fill="#2f4ea0" stroke="#15225a" stroke-width="0.6"/>
<circle cx="93.7" cy="944.8" r="1.8" fill="#2f4ea0" stroke="#15225a" stroke-width="0.6"/>
<circle cx="101" cy="944.3" r="1.8" fill="#2f4ea0" stroke="#15225a" stroke-width="0.6"/>
<circle cx="93.7" cy="953.2" r="1.8" fill="#2f4ea0" stroke="#15225a" stroke-width="0.6"/>
<circle cx="101" cy="953.2" r="1.8" fill="#2f4ea0" stroke="#15225a" stroke-width="0.6"/>
<circle cx="104.6" cy="957.6" r="1.8" fill="#2f4ea0" stroke="#15225a" stroke-width="0.6"/>
<circle cx="90.1" cy="960.4" r="1.8" fill="#2f4ea0" stroke="#15225a" stroke-width="0.6"/>
<circle cx="104.6" cy="961.2" r="1.8" fill="#2f4ea0" stroke="#15225a" stroke-width="0.6"/>
<circle cx="90.1" cy="964.1" r="1.8" fill="#2f4ea0" stroke="#15225a" stroke-width="0.6"/>
<circle cx="104.6" cy="964.8" r="1.8" fill="#2f4ea0" stroke="#15225a" stroke-width="0.6"/>
<circle cx="97.3" cy="967.7" r="1.8" fill="#2f4ea0" stroke="#15225a" stroke-width="0.6"/>
<circle cx="97.3" cy="973.7" r="1.8" fill="#2f4ea0" stroke="#15225a" stroke-width="0.6"/>
<circle cx="97.3" cy="983.3" r="1.8" fill="#2f4ea0" stroke="#15225a" stroke-width="0.6"/>
<line x1="180.05" y1="870.8" x2="180.05" y2="951.3" stroke="#2a2a2a" stroke-width="1.3"/>
<line x1="163.6" y1="870.8" x2="196.6" y2="870.8" stroke="#2a2a2a" stroke-width="1.3"/>
<line x1="163.6" y1="951.3" x2="196.6" y2="951.3" stroke="#2a2a2a" stroke-width="1.3"/>
<rect x="146.7" y="878.5" width="66.7" height="49.4" fill="#fde1e3" stroke="#2a2a2a" stroke-width="1.3"/>
<line x1="146.7" y1="909.9" x2="213.4" y2="909.9" stroke="#2a2a2a" stroke-width="1.3"/>
<circle cx="179.7" cy="865.3" r="1.8" fill="#ec4a4a" stroke="#901818" stroke-width="0.6"/>
<circle cx="179.7" cy="873.2" r="1.8" fill="#ec4a4a" stroke="#901818" stroke-width="0.6"/>
<circle cx="179.7" cy="877.3" r="1.8" fill="#ec4a4a" stroke="#901818" stroke-width="0.6"/>
<circle cx="187" cy="875.4" r="1.8" fill="#ec4a4a" stroke="#901818" stroke-width="0.6"/>
<circle cx="179.7" cy="881.7" r="1.8" fill="#ec4a4a" stroke="#901818" stroke-width="0.6"/>
<circle cx="179.7" cy="888.7" r="1.8" fill="#ec4a4a" stroke="#901818" stroke-width="0.6"/>
<circle cx="179.7" cy="902.6" r="1.8" fill="#ec4a4a" stroke="#901818" stroke-width="0.6"/>
<circle cx="179.7" cy="906.2" r="1.8" fill="#ec4a4a" stroke="#901818" stroke-width="0.6"/>
<circle cx="179.7" cy="914.2" r="1.8" fill="#ec4a4a" stroke="#901818" stroke-width="0.6"/>
<circle cx="179.7" cy="918.3" r="1.8" fill="#ec4a4a" stroke="#901818" stroke-width="0.6"/>
<circle cx="172.5" cy="929.1" r="1.8" fill="#ec4a4a" stroke="#901818" stroke-width="0.6"/>
<circle cx="179.7" cy="931.1" r="1.8" fill="#ec4a4a" stroke="#901818" stroke-width="0.6"/>
<circle cx="187" cy="929.1" r="1.8" fill="#ec4a4a" stroke="#901818" stroke-width="0.6"/>
<circle cx="176.1" cy="951.5" r="1.8" fill="#ec4a4a" stroke="#901818" stroke-width="0.6"/>
<circle cx="183.3" cy="951.3" r="1.8" fill="#ec4a4a" stroke="#901818" stroke-width="0.6"/>
<text x="-0.3" y="16.3" font-size="22" font-weight="bold" fill="#111" stroke="#111">A</text>
<text x="23.5" y="13.8" font-size="9" fill="#555" stroke="#555" text-anchor="middle">5</text>
<text x="23.5" y="73.3" font-size="9" fill="#555" stroke="#555" text-anchor="middle">4</text>
<text x="23.5" y="132.9" font-size="9" fill="#555" stroke="#555" text-anchor="middle">3</text>
<text x="23.5" y="192.1" font-size="9" fill="#555" stroke="#555" text-anchor="middle">2</text>
<text x="23.5" y="251.3" font-size="9" fill="#555" stroke="#555" text-anchor="middle">1</text>
<text x="23.5" y="310.5" font-size="9" fill="#555" stroke="#555" text-anchor="middle">0</text>
<text x="59.3" y="333" font-size="8" fill="#444" stroke="#444" text-anchor="middle">−1</text>
<text x="248" y="333" font-size="8" fill="#444" stroke="#444" text-anchor="middle">0</text>
<text x="436.6" y="333" font-size="8" fill="#444" stroke="#444" text-anchor="middle">1</text>
<text x="625.9" y="333" font-size="8" fill="#444" stroke="#444" text-anchor="middle">2</text>
<text x="340.8" y="343" font-size="11.2" fill="#111" stroke="#111" text-anchor="middle">Fold change (log2)</text>
<text transform="translate(11.8,163.8) rotate(-90)" font-size="11.2" fill="#111" stroke="#111" text-anchor="middle">p−value (−log10)</text>
<g fill="#aaaaaa"><circle cx="173.0" cy="274.4" r="2.5"/><circle cx="283.4" cy="264.7" r="2.5"/><circle cx="201.1" cy="286.9" r="2.5"/><circle cx="312.9" cy="288.2" r="2.5"/><circle cx="190.9" cy="273.1" r="2.5"/><circle cx="289.0" cy="292.9" r="2.5"/><circle cx="274.9" cy="279.6" r="2.5"/><circle cx="308.0" cy="247.3" r="2.5"/><circle cx="236.3" cy="300.6" r="2.5"/><circle cx="293.2" cy="275.0" r="2.5"/><circle cx="181.7" cy="283.5" r="2.5"/><circle cx="328.1" cy="282.1" r="2.5"/><circle cx="319.5" cy="249.6" r="2.5"/><circle cx="342.7" cy="275.9" r="2.5"/><circle cx="317.5" cy="291.1" r="2.5"/><circle cx="286.9" cy="263.2" r="2.5"/><circle cx="262.1" cy="305.0" r="2.5"/><circle cx="272.8" cy="302.9" r="2.5"/><circle cx="293.6" cy="270.5" r="2.5"/><circle cx="321.6" cy="247.8" r="2.5"/><circle cx="191.3" cy="289.4" r="2.5"/><circle cx="192.7" cy="269.0" r="2.5"/><circle cx="222.5" cy="289.9" r="2.5"/><circle cx="280.5" cy="274.8" r="2.5"/><circle cx="169.5" cy="293.9" r="2.5"/><circle cx="317.6" cy="256.6" r="2.5"/><circle cx="292.8" cy="268.5" r="2.5"/><circle cx="177.9" cy="299.5" r="2.5"/><circle cx="252.2" cy="305.1" r="2.5"/><circle cx="282.8" cy="267.1" r="2.5"/><circle cx="175.4" cy="291.2" r="2.5"/><circle cx="289.4" cy="258.2" r="2.5"/><circle cx="191.9" cy="270.0" r="2.5"/><circle cx="200.2" cy="274.2" r="2.5"/><circle cx="206.2" cy="280.0" r="2.5"/><circle cx="188.5" cy="275.6" r="2.5"/><circle cx="291.8" cy="287.8" r="2.5"/><circle cx="281.0" cy="286.9" r="2.5"/><circle cx="302.0" cy="256.1" r="2.5"/><circle cx="212.5" cy="290.4" r="2.5"/><circle cx="210.2" cy="291.4" r="2.5"/><circle cx="202.0" cy="279.7" r="2.5"/><circle cx="187.2" cy="296.9" r="2.5"/><circle cx="332.6" cy="272.9" r="2.5"/><circle cx="222.1" cy="298.3" r="2.5"/><circle cx="304.6" cy="298.2" r="2.5"/><circle cx="305.0" cy="284.3" r="2.5"/><circle cx="186.2" cy="271.9" r="2.5"/><circle cx="211.4" cy="285.1" r="2.5"/><circle cx="327.8" cy="239.6" r="2.5"/><circle cx="169.5" cy="294.2" r="2.5"/><circle cx="282.9" cy="288.2" r="2.5"/><circle cx="295.9" cy="260.1" r="2.5"/><circle cx="302.4" cy="274.3" r="2.5"/><circle cx="189.8" cy="266.3" r="2.5"/><circle cx="347.1" cy="248.2" r="2.5"/><circle cx="339.8" cy="291.6" r="2.5"/><circle cx="288.2" cy="265.2" r="2.5"/><circle cx="316.2" cy="293.0" r="2.5"/><circle cx="298.2" cy="260.7" r="2.5"/><circle cx="310.6" cy="243.7" r="2.5"/><circle cx="305.0" cy="255.8" r="2.5"/><circle cx="232.7" cy="300.2" r="2.5"/><circle cx="210.4" cy="281.0" r="2.5"/><circle cx="224.2" cy="286.7" r="2.5"/><circle cx="313.1" cy="277.3" r="2.5"/><circle cx="193.1" cy="287.9" r="2.5"/><circle cx="300.3" cy="252.6" r="2.5"/><circle cx="239.2" cy="301.4" r="2.5"/><circle cx="178.9" cy="282.7" r="2.5"/><circle cx="279.9" cy="297.2" r="2.5"/><circle cx="311.3" cy="253.9" r="2.5"/><circle cx="281.1" cy="260.0" r="2.5"/><circle cx="287.2" cy="270.1" r="2.5"/><circle cx="186.4" cy="268.9" r="2.5"/><circle cx="169.7" cy="283.7" r="2.5"/><circle cx="301.4" cy="293.8" r="2.5"/><circle cx="214.2" cy="296.6" r="2.5"/><circle cx="257.4" cy="304.0" r="2.5"/><circle cx="194.1" cy="294.4" r="2.5"/><circle cx="230.4" cy="300.7" r="2.5"/><circle cx="272.2" cy="301.4" r="2.5"/><circle cx="236.9" cy="295.3" r="2.5"/><circle cx="230.4" cy="292.9" r="2.5"/><circle cx="195.6" cy="291.4" r="2.5"/><circle cx="288.1" cy="260.4" r="2.5"/><circle cx="279.0" cy="269.0" r="2.5"/><circle cx="182.2" cy="263.6" r="2.5"/><circle cx="272.9" cy="280.3" r="2.5"/><circle cx="280.5" cy="272.1" r="2.5"/><circle cx="340.0" cy="255.5" r="2.5"/><circle cx="310.6" cy="266.9" r="2.5"/><circle cx="209.2" cy="302.9" r="2.5"/><circle cx="277.5" cy="274.4" r="2.5"/><circle cx="316.5" cy="250.5" r="2.5"/><circle cx="297.2" cy="257.1" r="2.5"/><circle cx="202.3" cy="282.7" r="2.5"/><circle cx="335.1" cy="248.4" r="2.5"/><circle cx="282.5" cy="297.2" r="2.5"/><circle cx="180.6" cy="292.4" r="2.5"/><circle cx="215.7" cy="289.4" r="2.5"/><circle cx="257.7" cy="299.1" r="2.5"/><circle cx="255.4" cy="295.2" r="2.5"/><circle cx="294.9" cy="273.8" r="2.5"/><circle cx="281.3" cy="263.5" r="2.5"/><circle cx="237.0" cy="301.9" r="2.5"/><circle cx="330.8" cy="239.8" r="2.5"/><circle cx="212.0" cy="302.7" r="2.5"/><circle cx="234.1" cy="301.5" r="2.5"/><circle cx="191.5" cy="298.5" r="2.5"/><circle cx="303.0" cy="250.2" r="2.5"/><circle cx="309.0" cy="279.6" r="2.5"/><circle cx="249.8" cy="301.6" r="2.5"/><circle cx="199.3" cy="283.8" r="2.5"/><circle cx="282.2" cy="271.3" r="2.5"/><circle cx="304.3" cy="268.2" r="2.5"/><circle cx="291.1" cy="284.1" r="2.5"/><circle cx="297.5" cy="283.2" r="2.5"/><circle cx="314.3" cy="266.1" r="2.5"/><circle cx="282.5" cy="271.7" r="2.5"/><circle cx="299.1" cy="258.2" r="2.5"/><circle cx="334.1" cy="294.3" r="2.5"/><circle cx="320.0" cy="283.5" r="2.5"/><circle cx="286.6" cy="256.0" r="2.5"/><circle cx="309.5" cy="262.9" r="2.5"/><circle cx="333.8" cy="294.8" r="2.5"/><circle cx="311.7" cy="298.2" r="2.5"/><circle cx="264.5" cy="300.0" r="2.5"/><circle cx="288.4" cy="298.4" r="2.5"/><circle cx="241.6" cy="307.0" r="2.5"/><circle cx="283.0" cy="283.7" r="2.5"/><circle cx="261.9" cy="293.3" r="2.5"/><circle cx="267.3" cy="297.4" r="2.5"/><circle cx="312.5" cy="261.8" r="2.5"/><circle cx="282.6" cy="294.3" r="2.5"/><circle cx="281.1" cy="288.0" r="2.5"/><circle cx="311.4" cy="278.4" r="2.5"/><circle cx="172.4" cy="278.7" r="2.5"/><circle cx="336.5" cy="270.1" r="2.5"/><circle cx="181.4" cy="284.3" r="2.5"/><circle cx="178.7" cy="300.4" r="2.5"/><circle cx="165.4" cy="289.6" r="2.5"/><circle cx="301.4" cy="251.5" r="2.5"/><circle cx="189.5" cy="295.3" r="2.5"/><circle cx="284.5" cy="283.2" r="2.5"/><circle cx="311.1" cy="278.7" r="2.5"/><circle cx="267.2" cy="295.3" r="2.5"/><circle cx="315.2" cy="293.4" r="2.5"/><circle cx="295.2" cy="264.1" r="2.5"/><circle cx="191.7" cy="280.9" r="2.5"/><circle cx="211.7" cy="293.9" r="2.5"/><circle cx="267.9" cy="300.5" r="2.5"/><circle cx="210.9" cy="278.5" r="2.5"/><circle cx="290.6" cy="259.5" r="2.5"/><circle cx="306.0" cy="245.6" r="2.5"/><circle cx="298.3" cy="252.0" r="2.5"/><circle cx="188.6" cy="270.1" r="2.5"/><circle cx="281.4" cy="270.5" r="2.5"/><circle cx="321.5" cy="262.0" r="2.5"/><circle cx="289.0" cy="253.2" r="2.5"/><circle cx="203.5" cy="279.0" r="2.5"/><circle cx="320.0" cy="264.4" r="2.5"/><circle cx="317.3" cy="240.2" r="2.5"/><circle cx="294.8" cy="252.0" r="2.5"/><circle cx="275.9" cy="279.4" r="2.5"/><circle cx="298.2" cy="241.2" r="2.5"/><circle cx="274.4" cy="299.8" r="2.5"/><circle cx="270.8" cy="291.6" r="2.5"/><circle cx="282.2" cy="264.2" r="2.5"/><circle cx="168.5" cy="284.1" r="2.5"/><circle cx="290.9" cy="257.6" r="2.5"/><circle cx="265.8" cy="298.3" r="2.5"/><circle cx="270.3" cy="284.7" r="2.5"/><circle cx="297.0" cy="271.1" r="2.5"/><circle cx="278.4" cy="271.7" r="2.5"/><circle cx="229.0" cy="299.9" r="2.5"/><circle cx="218.1" cy="293.4" r="2.5"/><circle cx="301.7" cy="245.8" r="2.5"/><circle cx="299.4" cy="259.0" r="2.5"/><circle cx="189.5" cy="279.3" r="2.5"/><circle cx="180.8" cy="264.9" r="2.5"/><circle cx="317.0" cy="250.3" r="2.5"/><circle cx="196.7" cy="283.2" r="2.5"/><circle cx="220.3" cy="287.6" r="2.5"/><circle cx="219.8" cy="298.5" r="2.5"/><circle cx="288.9" cy="252.1" r="2.5"/><circle cx="306.3" cy="245.7" r="2.5"/><circle cx="278.5" cy="295.9" r="2.5"/><circle cx="223.3" cy="289.4" r="2.5"/><circle cx="298.5" cy="253.9" r="2.5"/><circle cx="183.8" cy="276.3" r="2.5"/><circle cx="185.4" cy="297.3" r="2.5"/><circle cx="191.6" cy="288.7" r="2.5"/><circle cx="213.2" cy="298.0" r="2.5"/><circle cx="314.9" cy="249.4" r="2.5"/><circle cx="208.8" cy="281.7" r="2.5"/><circle cx="195.6" cy="299.1" r="2.5"/><circle cx="298.2" cy="258.3" r="2.5"/><circle cx="287.2" cy="288.2" r="2.5"/><circle cx="270.3" cy="289.5" r="2.5"/><circle cx="324.3" cy="281.6" r="2.5"/><circle cx="319.5" cy="258.2" r="2.5"/><circle cx="281.3" cy="270.5" r="2.5"/><circle cx="294.7" cy="268.8" r="2.5"/><circle cx="283.1" cy="277.1" r="2.5"/><circle cx="296.3" cy="286.1" r="2.5"/><circle cx="246.6" cy="305.2" r="2.5"/><circle cx="218.9" cy="301.5" r="2.5"/><circle cx="194.2" cy="285.9" r="2.5"/><circle cx="319.9" cy="246.2" r="2.5"/><circle cx="199.5" cy="288.4" r="2.5"/><circle cx="182.7" cy="273.1" r="2.5"/><circle cx="198.1" cy="277.0" r="2.5"/><circle cx="303.0" cy="261.5" r="2.5"/><circle cx="320.0" cy="255.2" r="2.5"/><circle cx="292.7" cy="249.7" r="2.5"/><circle cx="346.3" cy="244.4" r="2.5"/><circle cx="311.5" cy="268.5" r="2.5"/><circle cx="287.7" cy="274.9" r="2.5"/><circle cx="330.2" cy="240.0" r="2.5"/><circle cx="290.9" cy="270.1" r="2.5"/><circle cx="287.5" cy="264.7" r="2.5"/><circle cx="331.1" cy="277.4" r="2.5"/><circle cx="325.8" cy="256.2" r="2.5"/><circle cx="205.0" cy="279.1" r="2.5"/><circle cx="177.2" cy="267.3" r="2.5"/><circle cx="188.0" cy="293.7" r="2.5"/><circle cx="164.9" cy="280.7" r="2.5"/><circle cx="219.0" cy="288.8" r="2.5"/><circle cx="193.9" cy="291.5" r="2.5"/><circle cx="342.1" cy="289.8" r="2.5"/><circle cx="266.3" cy="295.7" r="2.5"/><circle cx="321.3" cy="279.7" r="2.5"/><circle cx="217.1" cy="287.3" r="2.5"/><circle cx="331.9" cy="280.3" r="2.5"/><circle cx="194.2" cy="263.9" r="2.5"/><circle cx="289.5" cy="257.6" r="2.5"/><circle cx="282.7" cy="263.2" r="2.5"/><circle cx="226.7" cy="304.1" r="2.5"/><circle cx="229.8" cy="293.6" r="2.5"/><circle cx="212.9" cy="288.6" r="2.5"/><circle cx="276.6" cy="300.0" r="2.5"/><circle cx="304.4" cy="284.6" r="2.5"/><circle cx="291.0" cy="262.3" r="2.5"/><circle cx="281.0" cy="262.0" r="2.5"/><circle cx="273.8" cy="277.8" r="2.5"/><circle cx="307.0" cy="293.7" r="2.5"/><circle cx="261.4" cy="305.6" r="2.5"/><circle cx="286.5" cy="293.6" r="2.5"/><circle cx="305.8" cy="244.5" r="2.5"/><circle cx="227.4" cy="295.5" r="2.5"/><circle cx="223.5" cy="302.9" r="2.5"/><circle cx="238.4" cy="300.0" r="2.5"/><circle cx="281.2" cy="254.1" r="2.5"/><circle cx="306.2" cy="284.1" r="2.5"/><circle cx="254.3" cy="302.0" r="2.5"/><circle cx="291.7" cy="280.9" r="2.5"/><circle cx="272.1" cy="301.4" r="2.5"/><circle cx="291.7" cy="244.5" r="2.5"/><circle cx="169.2" cy="274.2" r="2.5"/><circle cx="222.1" cy="301.1" r="2.5"/><circle cx="301.0" cy="257.6" r="2.5"/><circle cx="286.1" cy="277.1" r="2.5"/><circle cx="210.4" cy="281.9" r="2.5"/><circle cx="223.6" cy="284.4" r="2.5"/><circle cx="281.6" cy="291.4" r="2.5"/><circle cx="297.3" cy="266.3" r="2.5"/><circle cx="278.4" cy="286.6" r="2.5"/><circle cx="281.5" cy="277.0" r="2.5"/><circle cx="262.2" cy="296.4" r="2.5"/><circle cx="194.7" cy="297.0" r="2.5"/><circle cx="229.8" cy="295.7" r="2.5"/><circle cx="294.1" cy="270.3" r="2.5"/><circle cx="313.7" cy="292.5" r="2.5"/><circle cx="291.2" cy="264.3" r="2.5"/><circle cx="195.9" cy="289.6" r="2.5"/><circle cx="312.5" cy="282.4" r="2.5"/><circle cx="297.4" cy="259.2" r="2.5"/><circle cx="285.2" cy="296.2" r="2.5"/><circle cx="302.7" cy="266.8" r="2.5"/><circle cx="308.3" cy="246.5" r="2.5"/><circle cx="176.7" cy="296.7" r="2.5"/><circle cx="293.3" cy="268.0" r="2.5"/><circle cx="210.5" cy="299.7" r="2.5"/><circle cx="324.8" cy="256.5" r="2.5"/><circle cx="175.7" cy="280.8" r="2.5"/><circle cx="290.2" cy="259.2" r="2.5"/><circle cx="204.4" cy="277.2" r="2.5"/><circle cx="183.7" cy="297.5" r="2.5"/><circle cx="228.1" cy="291.9" r="2.5"/><circle cx="227.4" cy="305.8" r="2.5"/><circle cx="266.8" cy="294.6" r="2.5"/><circle cx="328.0" cy="272.5" r="2.5"/><circle cx="184.3" cy="271.6" r="2.5"/><circle cx="270.4" cy="287.5" r="2.5"/><circle cx="304.5" cy="249.0" r="2.5"/><circle cx="297.1" cy="242.5" r="2.5"/><circle cx="249.7" cy="304.1" r="2.5"/><circle cx="301.4" cy="286.7" r="2.5"/><circle cx="304.8" cy="283.7" r="2.5"/><circle cx="179.6" cy="289.5" r="2.5"/><circle cx="289.8" cy="291.5" r="2.5"/><circle cx="318.9" cy="267.2" r="2.5"/><circle cx="286.0" cy="298.0" r="2.5"/><circle cx="169.9" cy="297.1" r="2.5"/><circle cx="198.0" cy="297.6" r="2.5"/><circle cx="282.1" cy="265.0" r="2.5"/><circle cx="291.9" cy="278.0" r="2.5"/><circle cx="300.5" cy="291.8" r="2.5"/><circle cx="189.5" cy="280.2" r="2.5"/><circle cx="241.9" cy="308.2" r="2.5"/><circle cx="293.3" cy="257.9" r="2.5"/><circle cx="260.0" cy="301.0" r="2.5"/><circle cx="302.3" cy="250.3" r="2.5"/><circle cx="235.2" cy="307.2" r="2.5"/><circle cx="283.1" cy="293.9" r="2.5"/><circle cx="190.9" cy="292.4" r="2.5"/><circle cx="229.2" cy="305.5" r="2.5"/><circle cx="315.1" cy="263.1" r="2.5"/><circle cx="285.3" cy="301.1" r="2.5"/><circle cx="276.6" cy="297.2" r="2.5"/><circle cx="175.7" cy="298.2" r="2.5"/><circle cx="281.6" cy="262.4" r="2.5"/><circle cx="315.7" cy="276.6" r="2.5"/><circle cx="281.7" cy="290.0" r="2.5"/><circle cx="175.6" cy="272.3" r="2.5"/><circle cx="296.6" cy="270.6" r="2.5"/><circle cx="198.1" cy="266.9" r="2.5"/><circle cx="198.9" cy="290.8" r="2.5"/><circle cx="295.7" cy="252.1" r="2.5"/><circle cx="299.2" cy="283.2" r="2.5"/><circle cx="314.9" cy="270.7" r="2.5"/><circle cx="318.2" cy="247.2" r="2.5"/><circle cx="269.0" cy="274.5" r="2.5"/><circle cx="321.9" cy="247.6" r="2.5"/><circle cx="202.7" cy="280.0" r="2.5"/><circle cx="311.3" cy="271.3" r="2.5"/><circle cx="330.9" cy="276.4" r="2.5"/><circle cx="334.1" cy="265.5" r="2.5"/><circle cx="299.7" cy="241.9" r="2.5"/><circle cx="293.5" cy="271.9" r="2.5"/><circle cx="334.7" cy="281.0" r="2.5"/><circle cx="302.9" cy="240.7" r="2.5"/><circle cx="192.9" cy="274.8" r="2.5"/><circle cx="275.0" cy="295.4" r="2.5"/><circle cx="172.3" cy="277.2" r="2.5"/><circle cx="316.2" cy="270.9" r="2.5"/><circle cx="285.5" cy="252.9" r="2.5"/><circle cx="219.5" cy="292.7" r="2.5"/><circle cx="293.6" cy="281.0" r="2.5"/><circle cx="321.1" cy="289.5" r="2.5"/><circle cx="305.0" cy="257.7" r="2.5"/><circle cx="216.6" cy="303.1" r="2.5"/><circle cx="167.3" cy="287.6" r="2.5"/><circle cx="284.2" cy="280.4" r="2.5"/><circle cx="275.6" cy="287.9" r="2.5"/><circle cx="227.0" cy="297.8" r="2.5"/><circle cx="314.5" cy="286.2" r="2.5"/><circle cx="273.5" cy="285.5" r="2.5"/><circle cx="285.9" cy="278.9" r="2.5"/><circle cx="188.3" cy="294.6" r="2.5"/><circle cx="313.2" cy="258.5" r="2.5"/><circle cx="307.3" cy="254.1" r="2.5"/><circle cx="251.6" cy="300.4" r="2.5"/><circle cx="288.1" cy="298.1" r="2.5"/><circle cx="167.6" cy="269.5" r="2.5"/><circle cx="340.0" cy="277.8" r="2.5"/><circle cx="204.3" cy="291.4" r="2.5"/><circle cx="194.4" cy="300.1" r="2.5"/><circle cx="176.1" cy="270.5" r="2.5"/><circle cx="201.0" cy="285.6" r="2.5"/><circle cx="302.7" cy="299.6" r="2.5"/><circle cx="275.6" cy="302.7" r="2.5"/><circle cx="198.4" cy="291.8" r="2.5"/><circle cx="259.2" cy="306.1" r="2.5"/><circle cx="203.1" cy="297.9" r="2.5"/><circle cx="192.8" cy="297.5" r="2.5"/><circle cx="297.2" cy="247.9" r="2.5"/><circle cx="193.8" cy="280.0" r="2.5"/><circle cx="239.7" cy="301.8" r="2.5"/><circle cx="335.8" cy="245.5" r="2.5"/><circle cx="286.1" cy="274.8" r="2.5"/><circle cx="208.3" cy="285.3" r="2.5"/><circle cx="344.9" cy="251.8" r="2.5"/><circle cx="332.5" cy="278.9" r="2.5"/><circle cx="293.5" cy="256.4" r="2.5"/><circle cx="302.8" cy="282.8" r="2.5"/><circle cx="289.7" cy="295.4" r="2.5"/><circle cx="296.7" cy="284.5" r="2.5"/><circle cx="206.2" cy="290.8" r="2.5"/><circle cx="288.0" cy="293.1" r="2.5"/><circle cx="187.8" cy="267.2" r="2.5"/><circle cx="295.8" cy="269.4" r="2.5"/><circle cx="290.4" cy="249.6" r="2.5"/><circle cx="199.3" cy="293.0" r="2.5"/><circle cx="210.6" cy="297.0" r="2.5"/><circle cx="191.2" cy="287.7" r="2.5"/><circle cx="312.3" cy="254.6" r="2.5"/><circle cx="288.1" cy="278.6" r="2.5"/><circle cx="198.6" cy="279.8" r="2.5"/><circle cx="282.5" cy="255.3" r="2.5"/><circle cx="283.6" cy="287.6" r="2.5"/><circle cx="287.9" cy="256.7" r="2.5"/><circle cx="312.9" cy="260.2" r="2.5"/><circle cx="262.6" cy="293.7" r="2.5"/><circle cx="210.0" cy="286.0" r="2.5"/><circle cx="297.3" cy="293.3" r="2.5"/><circle cx="186.5" cy="271.4" r="2.5"/><circle cx="304.6" cy="293.3" r="2.5"/><circle cx="178.3" cy="266.3" r="2.5"/><circle cx="307.9" cy="247.7" r="2.5"/><circle cx="263.1" cy="297.8" r="2.5"/><circle cx="195.0" cy="292.9" r="2.5"/><circle cx="301.5" cy="247.3" r="2.5"/><circle cx="303.5" cy="262.5" r="2.5"/><circle cx="326.0" cy="279.3" r="2.5"/><circle cx="305.4" cy="296.4" r="2.5"/><circle cx="187.4" cy="276.7" r="2.5"/><circle cx="313.3" cy="254.3" r="2.5"/><circle cx="174.9" cy="291.2" r="2.5"/><circle cx="221.2" cy="300.7" r="2.5"/><circle cx="288.5" cy="252.9" r="2.5"/><circle cx="298.3" cy="268.8" r="2.5"/><circle cx="303.5" cy="295.6" r="2.5"/><circle cx="224.5" cy="290.6" r="2.5"/><circle cx="230.7" cy="304.3" r="2.5"/><circle cx="259.1" cy="305.0" r="2.5"/><circle cx="298.2" cy="291.7" r="2.5"/><circle cx="189.0" cy="271.0" r="2.5"/><circle cx="307.7" cy="255.6" r="2.5"/><circle cx="192.6" cy="267.4" r="2.5"/><circle cx="293.2" cy="266.1" r="2.5"/><circle cx="326.2" cy="279.1" r="2.5"/><circle cx="226.6" cy="305.8" r="2.5"/><circle cx="314.1" cy="239.9" r="2.5"/><circle cx="231.1" cy="302.3" r="2.5"/><circle cx="263.1" cy="304.7" r="2.5"/><circle cx="311.3" cy="256.7" r="2.5"/><circle cx="225.1" cy="297.0" r="2.5"/><circle cx="315.1" cy="248.5" r="2.5"/><circle cx="304.1" cy="299.6" r="2.5"/><circle cx="296.6" cy="283.2" r="2.5"/><circle cx="296.1" cy="250.6" r="2.5"/><circle cx="335.8" cy="278.3" r="2.5"/><circle cx="311.3" cy="275.0" r="2.5"/><circle cx="270.3" cy="290.3" r="2.5"/><circle cx="211.8" cy="281.9" r="2.5"/><circle cx="270.9" cy="303.1" r="2.5"/><circle cx="243.2" cy="305.0" r="2.5"/><circle cx="309.6" cy="245.4" r="2.5"/><circle cx="210.8" cy="290.4" r="2.5"/><circle cx="202.8" cy="285.0" r="2.5"/><circle cx="238.2" cy="306.2" r="2.5"/><circle cx="184.5" cy="291.8" r="2.5"/><circle cx="298.6" cy="290.4" r="2.5"/><circle cx="339.2" cy="251.3" r="2.5"/><circle cx="316.8" cy="246.6" r="2.5"/><circle cx="324.4" cy="269.8" r="2.5"/><circle cx="291.6" cy="291.5" r="2.5"/><circle cx="192.5" cy="287.1" r="2.5"/><circle cx="188.0" cy="271.8" r="2.5"/><circle cx="267.3" cy="292.7" r="2.5"/><circle cx="216.0" cy="283.2" r="2.5"/><circle cx="290.9" cy="289.2" r="2.5"/><circle cx="196.1" cy="297.8" r="2.5"/><circle cx="183.0" cy="291.6" r="2.5"/><circle cx="190.1" cy="264.2" r="2.5"/><circle cx="300.0" cy="277.6" r="2.5"/><circle cx="333.0" cy="256.3" r="2.5"/><circle cx="273.8" cy="295.5" r="2.5"/><circle cx="173.0" cy="268.3" r="2.5"/><circle cx="225.7" cy="292.9" r="2.5"/><circle cx="289.3" cy="297.9" r="2.5"/><circle cx="257.6" cy="304.3" r="2.5"/><circle cx="178.9" cy="284.6" r="2.5"/><circle cx="340.0" cy="255.5" r="2.5"/><circle cx="191.8" cy="282.9" r="2.5"/><circle cx="289.2" cy="269.1" r="2.5"/><circle cx="289.4" cy="254.0" r="2.5"/><circle cx="292.8" cy="268.9" r="2.5"/><circle cx="316.8" cy="272.0" r="2.5"/><circle cx="292.3" cy="288.1" r="2.5"/><circle cx="314.2" cy="246.1" r="2.5"/><circle cx="327.7" cy="289.5" r="2.5"/><circle cx="197.2" cy="276.2" r="2.5"/><circle cx="296.6" cy="296.8" r="2.5"/><circle cx="300.9" cy="253.3" r="2.5"/><circle cx="301.3" cy="252.9" r="2.5"/><circle cx="282.7" cy="287.8" r="2.5"/><circle cx="314.8" cy="254.5" r="2.5"/><circle cx="308.8" cy="264.9" r="2.5"/><circle cx="225.3" cy="286.8" r="2.5"/><circle cx="290.1" cy="281.9" r="2.5"/><circle cx="206.3" cy="280.1" r="2.5"/><circle cx="276.4" cy="274.6" r="2.5"/><circle cx="207.7" cy="299.5" r="2.5"/><circle cx="213.1" cy="293.7" r="2.5"/><circle cx="313.9" cy="245.5" r="2.5"/><circle cx="179.3" cy="271.2" r="2.5"/><circle cx="194.2" cy="274.7" r="2.5"/><circle cx="232.6" cy="299.8" r="2.5"/><circle cx="278.8" cy="278.4" r="2.5"/><circle cx="286.7" cy="276.2" r="2.5"/><circle cx="224.4" cy="298.7" r="2.5"/><circle cx="241.3" cy="306.7" r="2.5"/><circle cx="287.9" cy="285.7" r="2.5"/><circle cx="284.6" cy="287.8" r="2.5"/><circle cx="290.9" cy="277.2" r="2.5"/><circle cx="310.2" cy="279.0" r="2.5"/><circle cx="269.7" cy="292.1" r="2.5"/><circle cx="195.7" cy="297.4" r="2.5"/><circle cx="175.7" cy="282.8" r="2.5"/><circle cx="316.0" cy="290.6" r="2.5"/><circle cx="189.3" cy="288.2" r="2.5"/><circle cx="311.4" cy="270.7" r="2.5"/><circle cx="287.0" cy="267.2" r="2.5"/><circle cx="229.1" cy="296.3" r="2.5"/><circle cx="214.4" cy="283.6" r="2.5"/><circle cx="210.2" cy="297.6" r="2.5"/><circle cx="276.3" cy="282.9" r="2.5"/><circle cx="343.0" cy="251.6" r="2.5"/><circle cx="326.6" cy="265.9" r="2.5"/><circle cx="196.8" cy="279.5" r="2.5"/><circle cx="203.3" cy="294.1" r="2.5"/><circle cx="285.2" cy="264.7" r="2.5"/><circle cx="178.4" cy="273.1" r="2.5"/><circle cx="319.9" cy="272.2" r="2.5"/><circle cx="239.2" cy="302.0" r="2.5"/><circle cx="287.6" cy="278.2" r="2.5"/><circle cx="267.9" cy="300.1" r="2.5"/><circle cx="322.2" cy="271.7" r="2.5"/><circle cx="200.9" cy="284.1" r="2.5"/><circle cx="186.4" cy="286.1" r="2.5"/><circle cx="196.1" cy="266.4" r="2.5"/><circle cx="306.9" cy="257.8" r="2.5"/><circle cx="207.2" cy="278.3" r="2.5"/><circle cx="298.0" cy="239.4" r="2.5"/><circle cx="186.1" cy="272.0" r="2.5"/><circle cx="199.0" cy="275.2" r="2.5"/><circle cx="318.0" cy="267.9" r="2.5"/><circle cx="207.8" cy="298.3" r="2.5"/><circle cx="326.0" cy="245.2" r="2.5"/><circle cx="197.5" cy="269.4" r="2.5"/><circle cx="214.2" cy="284.1" r="2.5"/><circle cx="314.2" cy="273.6" r="2.5"/><circle cx="298.7" cy="264.8" r="2.5"/><circle cx="315.8" cy="278.1" r="2.5"/><circle cx="326.0" cy="250.6" r="2.5"/><circle cx="180.2" cy="285.4" r="2.5"/><circle cx="302.7" cy="284.7" r="2.5"/><circle cx="270.2" cy="275.0" r="2.5"/><circle cx="322.5" cy="286.1" r="2.5"/><circle cx="191.6" cy="278.8" r="2.5"/><circle cx="191.4" cy="289.5" r="2.5"/><circle cx="296.9" cy="279.8" r="2.5"/><circle cx="191.3" cy="276.8" r="2.5"/><circle cx="316.4" cy="278.7" r="2.5"/><circle cx="338.3" cy="264.6" r="2.5"/><circle cx="306.3" cy="260.8" r="2.5"/><circle cx="279.7" cy="296.1" r="2.5"/><circle cx="310.2" cy="280.1" r="2.5"/><circle cx="211.7" cy="282.6" r="2.5"/><circle cx="209.0" cy="279.4" r="2.5"/><circle cx="218.2" cy="292.7" r="2.5"/><circle cx="280.4" cy="272.3" r="2.5"/><circle cx="205.0" cy="288.6" r="2.5"/><circle cx="255.7" cy="305.2" r="2.5"/><circle cx="219.7" cy="288.3" r="2.5"/><circle cx="316.0" cy="254.5" r="2.5"/><circle cx="323.3" cy="278.7" r="2.5"/><circle cx="209.8" cy="277.0" r="2.5"/><circle cx="215.5" cy="293.4" r="2.5"/><circle cx="316.9" cy="249.5" r="2.5"/><circle cx="228.3" cy="301.2" r="2.5"/><circle cx="175.9" cy="292.1" r="2.5"/><circle cx="186.2" cy="265.6" r="2.5"/><circle cx="215.6" cy="291.1" r="2.5"/><circle cx="325.9" cy="256.4" r="2.5"/><circle cx="287.4" cy="260.1" r="2.5"/><circle cx="283.7" cy="300.6" r="2.5"/><circle cx="233.1" cy="297.5" r="2.5"/><circle cx="305.0" cy="271.6" r="2.5"/><circle cx="282.3" cy="264.2" r="2.5"/><circle cx="246.8" cy="308.3" r="2.5"/><circle cx="267.1" cy="285.0" r="2.5"/><circle cx="170.3" cy="273.0" r="2.5"/><circle cx="302.0" cy="282.9" r="2.5"/><circle cx="228.0" cy="295.9" r="2.5"/><circle cx="286.3" cy="266.2" r="2.5"/><circle cx="289.7" cy="276.2" r="2.5"/><circle cx="205.8" cy="298.5" r="2.5"/><circle cx="310.7" cy="289.6" r="2.5"/><circle cx="206.1" cy="288.6" r="2.5"/><circle cx="308.3" cy="260.6" r="2.5"/><circle cx="288.5" cy="292.9" r="2.5"/><circle cx="289.1" cy="252.8" r="2.5"/><circle cx="275.6" cy="290.3" r="2.5"/><circle cx="300.6" cy="279.5" r="2.5"/><circle cx="332.9" cy="257.6" r="2.5"/><circle cx="184.2" cy="264.4" r="2.5"/><circle cx="309.1" cy="290.0" r="2.5"/><circle cx="168.4" cy="288.3" r="2.5"/><circle cx="263.8" cy="297.9" r="2.5"/><circle cx="198.5" cy="283.0" r="2.5"/><circle cx="325.6" cy="247.1" r="2.5"/><circle cx="222.3" cy="287.2" r="2.5"/><circle cx="235.0" cy="295.7" r="2.5"/><circle cx="166.8" cy="273.1" r="2.5"/><circle cx="300.2" cy="281.5" r="2.5"/><circle cx="316.8" cy="257.8" r="2.5"/><circle cx="337.4" cy="257.4" r="2.5"/><circle cx="302.6" cy="253.1" r="2.5"/><circle cx="321.8" cy="290.5" r="2.5"/><circle cx="294.1" cy="273.4" r="2.5"/><circle cx="349.9" cy="253.5" r="2.5"/><circle cx="185.6" cy="268.0" r="2.5"/><circle cx="219.3" cy="290.4" r="2.5"/><circle cx="285.1" cy="294.0" r="2.5"/><circle cx="268.8" cy="304.1" r="2.5"/><circle cx="286.6" cy="280.3" r="2.5"/><circle cx="305.8" cy="279.1" r="2.5"/><circle cx="346.7" cy="244.5" r="2.5"/><circle cx="299.1" cy="266.4" r="2.5"/><circle cx="294.7" cy="295.2" r="2.5"/><circle cx="173.5" cy="290.5" r="2.5"/><circle cx="273.8" cy="268.2" r="2.5"/><circle cx="338.4" cy="290.4" r="2.5"/><circle cx="196.5" cy="289.7" r="2.5"/><circle cx="283.3" cy="262.6" r="2.5"/><circle cx="185.6" cy="278.2" r="2.5"/><circle cx="310.6" cy="249.2" r="2.5"/><circle cx="261.8" cy="287.0" r="2.5"/><circle cx="225.9" cy="286.9" r="2.5"/><circle cx="330.1" cy="285.0" r="2.5"/><circle cx="305.1" cy="262.5" r="2.5"/><circle cx="184.3" cy="284.9" r="2.5"/><circle cx="330.9" cy="259.3" r="2.5"/><circle cx="284.2" cy="287.0" r="2.5"/><circle cx="278.4" cy="263.1" r="2.5"/><circle cx="244.8" cy="304.8" r="2.5"/><circle cx="193.3" cy="283.2" r="2.5"/><circle cx="328.1" cy="246.0" r="2.5"/><circle cx="323.7" cy="287.5" r="2.5"/><circle cx="292.4" cy="295.0" r="2.5"/><circle cx="191.5" cy="285.3" r="2.5"/><circle cx="314.0" cy="244.3" r="2.5"/><circle cx="311.6" cy="279.1" r="2.5"/><circle cx="329.4" cy="260.8" r="2.5"/><circle cx="306.7" cy="287.8" r="2.5"/><circle cx="267.3" cy="276.7" r="2.5"/><circle cx="336.8" cy="245.4" r="2.5"/><circle cx="207.0" cy="293.9" r="2.5"/><circle cx="262.9" cy="293.3" r="2.5"/><circle cx="310.7" cy="286.9" r="2.5"/><circle cx="297.6" cy="297.1" r="2.5"/><circle cx="176.5" cy="278.9" r="2.5"/><circle cx="172.7" cy="275.9" r="2.5"/><circle cx="290.0" cy="278.3" r="2.5"/><circle cx="297.7" cy="271.8" r="2.5"/><circle cx="274.0" cy="297.3" r="2.5"/><circle cx="343.8" cy="256.2" r="2.5"/><circle cx="296.6" cy="284.8" r="2.5"/><circle cx="179.6" cy="289.2" r="2.5"/><circle cx="329.5" cy="250.5" r="2.5"/><circle cx="305.3" cy="281.0" r="2.5"/><circle cx="294.0" cy="245.7" r="2.5"/><circle cx="223.6" cy="295.2" r="2.5"/><circle cx="289.3" cy="264.6" r="2.5"/><circle cx="278.3" cy="292.4" r="2.5"/><circle cx="277.8" cy="268.4" r="2.5"/><circle cx="236.4" cy="305.4" r="2.5"/><circle cx="285.9" cy="300.2" r="2.5"/><circle cx="200.4" cy="299.5" r="2.5"/><circle cx="329.6" cy="273.9" r="2.5"/><circle cx="182.7" cy="294.0" r="2.5"/><circle cx="301.8" cy="288.3" r="2.5"/><circle cx="289.9" cy="283.3" r="2.5"/><circle cx="312.0" cy="294.8" r="2.5"/><circle cx="173.5" cy="269.2" r="2.5"/><circle cx="253.5" cy="303.3" r="2.5"/><circle cx="204.2" cy="285.2" r="2.5"/><circle cx="165.8" cy="273.5" r="2.5"/><circle cx="302.3" cy="273.4" r="2.5"/><circle cx="279.5" cy="286.4" r="2.5"/><circle cx="279.8" cy="265.1" r="2.5"/><circle cx="176.4" cy="293.2" r="2.5"/><circle cx="181.0" cy="295.2" r="2.5"/><circle cx="283.6" cy="283.7" r="2.5"/><circle cx="324.2" cy="292.0" r="2.5"/><circle cx="330.4" cy="285.1" r="2.5"/><circle cx="203.6" cy="280.5" r="2.5"/><circle cx="269.5" cy="281.2" r="2.5"/><circle cx="203.1" cy="278.8" r="2.5"/><circle cx="205.9" cy="294.1" r="2.5"/><circle cx="296.8" cy="273.1" r="2.5"/><circle cx="212.1" cy="286.0" r="2.5"/><circle cx="194.6" cy="269.9" r="2.5"/><circle cx="222.7" cy="291.3" r="2.5"/><circle cx="235.2" cy="307.3" r="2.5"/><circle cx="174.7" cy="291.5" r="2.5"/><circle cx="229.8" cy="296.5" r="2.5"/><circle cx="190.6" cy="273.6" r="2.5"/><circle cx="271.0" cy="300.0" r="2.5"/><circle cx="327.6" cy="249.8" r="2.5"/><circle cx="188.0" cy="274.8" r="2.5"/><circle cx="188.8" cy="289.6" r="2.5"/><circle cx="330.9" cy="270.4" r="2.5"/><circle cx="311.3" cy="251.4" r="2.5"/><circle cx="204.4" cy="301.0" r="2.5"/><circle cx="278.6" cy="293.4" r="2.5"/><circle cx="313.3" cy="277.2" r="2.5"/><circle cx="269.4" cy="299.4" r="2.5"/><circle cx="196.4" cy="279.8" r="2.5"/><circle cx="275.8" cy="296.9" r="2.5"/><circle cx="281.7" cy="258.7" r="2.5"/><circle cx="204.4" cy="292.9" r="2.5"/><circle cx="340.3" cy="255.8" r="2.5"/><circle cx="291.3" cy="280.0" r="2.5"/><circle cx="340.0" cy="273.0" r="2.5"/><circle cx="280.5" cy="274.6" r="2.5"/><circle cx="338.2" cy="292.7" r="2.5"/><circle cx="286.0" cy="273.9" r="2.5"/><circle cx="326.5" cy="288.6" r="2.5"/><circle cx="279.4" cy="300.9" r="2.5"/><circle cx="264.5" cy="302.8" r="2.5"/><circle cx="294.1" cy="247.3" r="2.5"/><circle cx="296.9" cy="273.4" r="2.5"/><circle cx="212.8" cy="297.9" r="2.5"/><circle cx="305.8" cy="298.3" r="2.5"/><circle cx="292.3" cy="273.2" r="2.5"/><circle cx="292.4" cy="276.4" r="2.5"/><circle cx="181.8" cy="263.8" r="2.5"/><circle cx="306.9" cy="264.1" r="2.5"/><circle cx="284.8" cy="265.9" r="2.5"/><circle cx="332.1" cy="261.4" r="2.5"/><circle cx="281.5" cy="286.0" r="2.5"/><circle cx="170.6" cy="284.6" r="2.5"/><circle cx="305.5" cy="269.2" r="2.5"/><circle cx="231.2" cy="304.6" r="2.5"/><circle cx="267.8" cy="289.6" r="2.5"/><circle cx="291.6" cy="279.5" r="2.5"/><circle cx="277.5" cy="285.1" r="2.5"/><circle cx="279.0" cy="282.5" r="2.5"/><circle cx="214.6" cy="297.6" r="2.5"/><circle cx="285.1" cy="277.8" r="2.5"/><circle cx="317.4" cy="252.6" r="2.5"/><circle cx="220.0" cy="295.6" r="2.5"/><circle cx="168.3" cy="290.8" r="2.5"/><circle cx="287.4" cy="275.5" r="2.5"/><circle cx="218.1" cy="287.0" r="2.5"/><circle cx="307.1" cy="281.1" r="2.5"/><circle cx="328.0" cy="240.3" r="2.5"/><circle cx="305.2" cy="286.7" r="2.5"/><circle cx="259.7" cy="290.2" r="2.5"/><circle cx="219.4" cy="300.2" r="2.5"/><circle cx="344.2" cy="252.8" r="2.5"/><circle cx="323.7" cy="275.1" r="2.5"/><circle cx="178.9" cy="277.4" r="2.5"/><circle cx="173.9" cy="267.9" r="2.5"/><circle cx="250.8" cy="300.6" r="2.5"/><circle cx="303.4" cy="292.9" r="2.5"/><circle cx="279.6" cy="264.9" r="2.5"/><circle cx="262.8" cy="285.9" r="2.5"/><circle cx="231.7" cy="306.4" r="2.5"/><circle cx="343.5" cy="252.4" r="2.5"/><circle cx="270.9" cy="297.4" r="2.5"/><circle cx="207.3" cy="288.0" r="2.5"/><circle cx="299.1" cy="279.9" r="2.5"/><circle cx="219.1" cy="292.0" r="2.5"/><circle cx="175.9" cy="274.6" r="2.5"/><circle cx="294.5" cy="287.4" r="2.5"/><circle cx="270.9" cy="285.9" r="2.5"/><circle cx="246.3" cy="307.6" r="2.5"/><circle cx="210.4" cy="297.2" r="2.5"/><circle cx="272.4" cy="287.6" r="2.5"/><circle cx="302.6" cy="278.4" r="2.5"/><circle cx="309.6" cy="286.3" r="2.5"/><circle cx="277.5" cy="266.5" r="2.5"/><circle cx="305.3" cy="241.4" r="2.5"/><circle cx="288.6" cy="286.3" r="2.5"/><circle cx="327.4" cy="289.7" r="2.5"/><circle cx="272.1" cy="271.0" r="2.5"/><circle cx="314.7" cy="261.0" r="2.5"/><circle cx="315.2" cy="267.8" r="2.5"/><circle cx="307.6" cy="250.6" r="2.5"/><circle cx="286.1" cy="267.5" r="2.5"/><circle cx="292.3" cy="261.6" r="2.5"/><circle cx="286.1" cy="277.4" r="2.5"/><circle cx="169.5" cy="277.6" r="2.5"/><circle cx="234.4" cy="295.8" r="2.5"/><circle cx="307.1" cy="252.3" r="2.5"/><circle cx="191.4" cy="290.1" r="2.5"/><circle cx="283.6" cy="287.9" r="2.5"/><circle cx="310.4" cy="265.8" r="2.5"/><circle cx="270.2" cy="292.1" r="2.5"/><circle cx="288.7" cy="256.3" r="2.5"/><circle cx="179.0" cy="293.6" r="2.5"/><circle cx="280.8" cy="276.4" r="2.5"/><circle cx="315.7" cy="246.2" r="2.5"/><circle cx="290.6" cy="267.1" r="2.5"/><circle cx="296.3" cy="281.4" r="2.5"/><circle cx="199.9" cy="282.3" r="2.5"/><circle cx="309.5" cy="248.7" r="2.5"/><circle cx="292.6" cy="250.9" r="2.5"/><circle cx="297.1" cy="270.2" r="2.5"/><circle cx="199.5" cy="294.7" r="2.5"/><circle cx="280.5" cy="287.9" r="2.5"/><circle cx="186.9" cy="271.0" r="2.5"/><circle cx="272.6" cy="273.0" r="2.5"/><circle cx="322.3" cy="246.4" r="2.5"/><circle cx="220.9" cy="298.9" r="2.5"/><circle cx="171.6" cy="272.7" r="2.5"/><circle cx="301.7" cy="279.3" r="2.5"/><circle cx="198.4" cy="283.1" r="2.5"/><circle cx="260.5" cy="293.6" r="2.5"/><circle cx="171.5" cy="272.9" r="2.5"/><circle cx="314.6" cy="262.3" r="2.5"/><circle cx="277.4" cy="291.6" r="2.5"/><circle cx="303.2" cy="270.4" r="2.5"/><circle cx="211.8" cy="300.9" r="2.5"/><circle cx="304.2" cy="296.7" r="2.5"/><circle cx="218.6" cy="289.1" r="2.5"/><circle cx="264.3" cy="298.4" r="2.5"/><circle cx="184.1" cy="297.0" r="2.5"/><circle cx="269.9" cy="289.5" r="2.5"/><circle cx="277.2" cy="290.8" r="2.5"/><circle cx="253.9" cy="298.2" r="2.5"/><circle cx="300.8" cy="267.6" r="2.5"/><circle cx="273.5" cy="271.0" r="2.5"/><circle cx="269.3" cy="287.4" r="2.5"/><circle cx="304.5" cy="282.7" r="2.5"/><circle cx="205.7" cy="284.7" r="2.5"/><circle cx="205.7" cy="287.7" r="2.5"/><circle cx="194.5" cy="269.9" r="2.5"/><circle cx="187.4" cy="269.0" r="2.5"/><circle cx="330.2" cy="248.1" r="2.5"/><circle cx="174.8" cy="282.4" r="2.5"/><circle cx="302.0" cy="295.1" r="2.5"/><circle cx="220.4" cy="304.9" r="2.5"/><circle cx="289.8" cy="273.1" r="2.5"/><circle cx="268.8" cy="295.7" r="2.5"/><circle cx="301.9" cy="290.8" r="2.5"/><circle cx="309.8" cy="265.4" r="2.5"/><circle cx="299.0" cy="253.6" r="2.5"/><circle cx="195.7" cy="293.4" r="2.5"/><circle cx="219.1" cy="286.7" r="2.5"/><circle cx="283.6" cy="251.3" r="2.5"/><circle cx="197.1" cy="276.9" r="2.5"/><circle cx="211.9" cy="291.1" r="2.5"/><circle cx="303.0" cy="291.8" r="2.5"/><circle cx="266.2" cy="303.1" r="2.5"/><circle cx="280.5" cy="267.6" r="2.5"/><circle cx="272.1" cy="290.0" r="2.5"/><circle cx="171.1" cy="286.0" r="2.5"/><circle cx="337.9" cy="287.6" r="2.5"/><circle cx="229.4" cy="294.7" r="2.5"/><circle cx="271.9" cy="293.5" r="2.5"/><circle cx="284.8" cy="286.7" r="2.5"/><circle cx="199.1" cy="298.7" r="2.5"/><circle cx="299.1" cy="291.4" r="2.5"/><circle cx="209.7" cy="280.9" r="2.5"/><circle cx="267.3" cy="293.5" r="2.5"/><circle cx="265.3" cy="279.9" r="2.5"/><circle cx="316.3" cy="270.2" r="2.5"/><circle cx="193.1" cy="283.7" r="2.5"/><circle cx="195.1" cy="276.8" r="2.5"/><circle cx="190.7" cy="266.8" r="2.5"/><circle cx="323.3" cy="265.3" r="2.5"/><circle cx="300.3" cy="285.0" r="2.5"/><circle cx="292.7" cy="292.7" r="2.5"/><circle cx="301.5" cy="268.8" r="2.5"/><circle cx="288.3" cy="287.4" r="2.5"/><circle cx="194.0" cy="284.0" r="2.5"/><circle cx="257.7" cy="305.5" r="2.5"/><circle cx="304.4" cy="277.2" r="2.5"/><circle cx="203.9" cy="284.7" r="2.5"/><circle cx="284.2" cy="262.9" r="2.5"/><circle cx="333.3" cy="241.3" r="2.5"/><circle cx="340.3" cy="288.0" r="2.5"/><circle cx="199.8" cy="283.0" r="2.5"/><circle cx="225.5" cy="301.1" r="2.5"/><circle cx="182.2" cy="298.5" r="2.5"/><circle cx="319.5" cy="292.5" r="2.5"/><circle cx="267.5" cy="280.8" r="2.5"/><circle cx="262.5" cy="298.3" r="2.5"/><circle cx="305.5" cy="289.3" r="2.5"/><circle cx="212.5" cy="302.8" r="2.5"/><circle cx="203.2" cy="275.4" r="2.5"/><circle cx="237.2" cy="295.3" r="2.5"/><circle cx="291.8" cy="244.1" r="2.5"/><circle cx="306.9" cy="258.0" r="2.5"/><circle cx="261.5" cy="298.7" r="2.5"/><circle cx="328.5" cy="244.2" r="2.5"/><circle cx="296.6" cy="258.5" r="2.5"/><circle cx="329.8" cy="260.9" r="2.5"/><circle cx="275.8" cy="292.1" r="2.5"/><circle cx="223.5" cy="287.5" r="2.5"/><circle cx="182.8" cy="283.9" r="2.5"/><circle cx="293.7" cy="259.3" r="2.5"/><circle cx="335.4" cy="267.7" r="2.5"/><circle cx="194.5" cy="285.9" r="2.5"/><circle cx="255.2" cy="302.8" r="2.5"/><circle cx="271.1" cy="282.8" r="2.5"/><circle cx="285.1" cy="287.2" r="2.5"/><circle cx="231.5" cy="300.2" r="2.5"/><circle cx="291.2" cy="250.7" r="2.5"/><circle cx="213.2" cy="303.6" r="2.5"/><circle cx="269.6" cy="282.4" r="2.5"/><circle cx="219.7" cy="292.8" r="2.5"/><circle cx="209.6" cy="281.7" r="2.5"/><circle cx="277.3" cy="302.4" r="2.5"/><circle cx="204.2" cy="284.4" r="2.5"/><circle cx="282.1" cy="281.4" r="2.5"/><circle cx="165.2" cy="288.5" r="2.5"/><circle cx="304.1" cy="300.7" r="2.5"/><circle cx="225.1" cy="301.7" r="2.5"/><circle cx="185.5" cy="280.4" r="2.5"/><circle cx="282.2" cy="274.8" r="2.5"/><circle cx="336.6" cy="265.0" r="2.5"/><circle cx="235.6" cy="294.4" r="2.5"/><circle cx="337.7" cy="249.4" r="2.5"/><circle cx="264.4" cy="302.3" r="2.5"/><circle cx="182.9" cy="269.0" r="2.5"/><circle cx="285.2" cy="262.0" r="2.5"/><circle cx="267.8" cy="290.2" r="2.5"/><circle cx="294.5" cy="266.0" r="2.5"/><circle cx="295.8" cy="242.8" r="2.5"/><circle cx="259.6" cy="291.3" r="2.5"/><circle cx="269.9" cy="278.1" r="2.5"/><circle cx="208.0" cy="293.6" r="2.5"/><circle cx="302.8" cy="250.8" r="2.5"/><circle cx="205.9" cy="283.6" r="2.5"/><circle cx="306.9" cy="290.2" r="2.5"/><circle cx="277.8" cy="284.5" r="2.5"/><circle cx="306.4" cy="286.8" r="2.5"/><circle cx="335.8" cy="254.6" r="2.5"/><circle cx="186.7" cy="284.7" r="2.5"/><circle cx="203.8" cy="281.7" r="2.5"/><circle cx="188.5" cy="293.7" r="2.5"/><circle cx="188.5" cy="288.0" r="2.5"/><circle cx="306.8" cy="269.1" r="2.5"/><circle cx="327.9" cy="249.1" r="2.5"/><circle cx="327.7" cy="268.2" r="2.5"/><circle cx="276.9" cy="276.9" r="2.5"/><circle cx="184.6" cy="267.7" r="2.5"/><circle cx="265.8" cy="280.6" r="2.5"/><circle cx="260.4" cy="305.8" r="2.5"/><circle cx="264.8" cy="293.5" r="2.5"/><circle cx="166.8" cy="289.9" r="2.5"/><circle cx="323.8" cy="278.6" r="2.5"/><circle cx="261.0" cy="293.5" r="2.5"/><circle cx="275.0" cy="286.6" r="2.5"/><circle cx="337.4" cy="252.5" r="2.5"/><circle cx="266.6" cy="285.1" r="2.5"/><circle cx="81.5" cy="239.5" r="2.5"/><circle cx="83.8" cy="249.3" r="2.5"/><circle cx="71.4" cy="253.0" r="2.5"/><circle cx="94.0" cy="256.9" r="2.5"/><circle cx="116.0" cy="253.9" r="2.5"/><circle cx="115.4" cy="265.2" r="2.5"/><circle cx="80.6" cy="273.1" r="2.5"/><circle cx="100.0" cy="276.6" r="2.5"/><circle cx="108.1" cy="279.3" r="2.5"/><circle cx="113.1" cy="276.6" r="2.5"/><circle cx="115.4" cy="273.4" r="2.5"/><circle cx="103.5" cy="281.9" r="2.5"/><circle cx="101.3" cy="286.5" r="2.5"/><circle cx="110.8" cy="284.9" r="2.5"/><circle cx="58.0" cy="288.1" r="2.5"/><circle cx="62.2" cy="289.8" r="2.5"/><circle cx="67.2" cy="289.4" r="2.5"/><circle cx="65.4" cy="290.2" r="2.5"/><circle cx="74.2" cy="291.1" r="2.5"/><circle cx="81.9" cy="290.4" r="2.5"/><circle cx="91.1" cy="290.7" r="2.5"/><circle cx="92.6" cy="293.1" r="2.5"/><circle cx="99.6" cy="293.3" r="2.5"/><circle cx="102.6" cy="292.8" r="2.5"/><circle cx="109.5" cy="293.1" r="2.5"/><circle cx="111.4" cy="294.4" r="2.5"/><circle cx="115.4" cy="291.1" r="2.5"/><circle cx="136.3" cy="236.8" r="2.5"/><circle cx="160.6" cy="236.3" r="2.5"/><circle cx="184.2" cy="238.1" r="2.5"/><circle cx="155.3" cy="243.4" r="2.5"/><circle cx="164.5" cy="242.7" r="2.5"/><circle cx="179.4" cy="243.1" r="2.5"/><circle cx="185.2" cy="242.9" r="2.5"/><circle cx="148.1" cy="248.1" r="2.5"/><circle cx="145.5" cy="250.0" r="2.5"/><circle cx="157.3" cy="249.7" r="2.5"/><circle cx="152.0" cy="252.3" r="2.5"/><circle cx="145.5" cy="254.3" r="2.5"/><circle cx="175.7" cy="249.4" r="2.5"/><circle cx="171.8" cy="252.3" r="2.5"/><circle cx="168.9" cy="254.3" r="2.5"/><circle cx="170.7" cy="256.9" r="2.5"/><circle cx="163.6" cy="254.3" r="2.5"/><circle cx="161.9" cy="256.9" r="2.5"/><circle cx="186.2" cy="249.1" r="2.5"/><circle cx="197.4" cy="250.4" r="2.5"/><circle cx="118.9" cy="251.0" r="2.5"/><circle cx="116.3" cy="253.9" r="2.5"/><circle cx="122.5" cy="253.4" r="2.5"/><circle cx="178.3" cy="258.2" r="2.5"/><circle cx="184.6" cy="260.9" r="2.5"/><circle cx="142.8" cy="260.2" r="2.5"/><circle cx="139.6" cy="262.2" r="2.5"/><circle cx="115.5" cy="265.2" r="2.5"/><circle cx="123.1" cy="264.8" r="2.5"/><circle cx="128.1" cy="263.9" r="2.5"/><circle cx="127.1" cy="267.4" r="2.5"/><circle cx="150.5" cy="266.4" r="2.5"/><circle cx="136.9" cy="268.8" r="2.5"/><circle cx="140.9" cy="270.1" r="2.5"/><circle cx="136.9" cy="273.4" r="2.5"/><circle cx="156.0" cy="268.8" r="2.5"/><circle cx="159.9" cy="267.4" r="2.5"/><circle cx="159.9" cy="272.0" r="2.5"/><circle cx="162.6" cy="273.4" r="2.5"/><circle cx="149.4" cy="275.3" r="2.5"/><circle cx="115.3" cy="273.4" r="2.5"/><circle cx="112.9" cy="276.6" r="2.5"/><circle cx="150.7" cy="278.0" r="2.5"/><circle cx="148.1" cy="279.9" r="2.5"/><circle cx="142.2" cy="280.6" r="2.5"/><circle cx="111.3" cy="285.2" r="2.5"/><circle cx="127.7" cy="284.9" r="2.5"/><circle cx="133.7" cy="283.2" r="2.5"/><circle cx="135.6" cy="283.2" r="2.5"/><circle cx="156.0" cy="281.9" r="2.5"/><circle cx="159.9" cy="279.9" r="2.5"/><circle cx="163.9" cy="283.2" r="2.5"/><circle cx="148.1" cy="289.8" r="2.5"/><circle cx="154.7" cy="290.4" r="2.5"/><circle cx="115.3" cy="291.1" r="2.5"/><circle cx="111.3" cy="293.7" r="2.5"/><circle cx="134.3" cy="293.7" r="2.5"/><circle cx="136.9" cy="295.3" r="2.5"/><circle cx="148.8" cy="296.4" r="2.5"/><circle cx="159.3" cy="297.7" r="2.5"/><circle cx="162.6" cy="291.1" r="2.5"/><circle cx="166.5" cy="297.0" r="2.5"/><circle cx="176.4" cy="299.6" r="2.5"/><circle cx="197.9" cy="250.4" r="2.5"/><circle cx="202.1" cy="255.2" r="2.5"/><circle cx="209.7" cy="257.6" r="2.5"/><circle cx="210.4" cy="256.0" r="2.5"/><circle cx="215.6" cy="253.0" r="2.5"/><circle cx="216.9" cy="256.0" r="2.5"/><circle cx="206.4" cy="265.5" r="2.5"/><circle cx="208.4" cy="264.4" r="2.5"/><circle cx="220.5" cy="267.2" r="2.5"/><circle cx="226.8" cy="271.1" r="2.5"/><circle cx="212.3" cy="271.0" r="2.5"/><circle cx="215.6" cy="270.7" r="2.5"/><circle cx="206.4" cy="272.3" r="2.5"/><circle cx="223.9" cy="278.9" r="2.5"/><circle cx="228.8" cy="285.2" r="2.5"/><circle cx="238.0" cy="293.5" r="2.5"/><circle cx="265.2" cy="275.1" r="2.5"/><circle cx="272.8" cy="267.4" r="2.5"/><circle cx="277.4" cy="251.7" r="2.5"/><circle cx="276.7" cy="255.6" r="2.5"/><circle cx="278.7" cy="260.2" r="2.5"/><circle cx="354.8" cy="238.7" r="2.5"/><circle cx="366.9" cy="240.3" r="2.5"/><circle cx="373.3" cy="245.1" r="2.5"/><circle cx="360.4" cy="243.5" r="2.5"/><circle cx="362.0" cy="245.9" r="2.5"/><circle cx="354.8" cy="247.5" r="2.5"/><circle cx="369.3" cy="249.9" r="2.5"/><circle cx="372.5" cy="249.1" r="2.5"/><circle cx="382.9" cy="253.1" r="2.5"/><circle cx="399.0" cy="250.7" r="2.5"/><circle cx="400.6" cy="253.6" r="2.5"/><circle cx="358.8" cy="252.3" r="2.5"/><circle cx="361.2" cy="254.7" r="2.5"/><circle cx="358.8" cy="257.1" r="2.5"/><circle cx="369.3" cy="260.3" r="2.5"/><circle cx="374.9" cy="260.0" r="2.5"/><circle cx="400.6" cy="263.9" r="2.5"/><circle cx="409.1" cy="261.3" r="2.5"/><circle cx="455.7" cy="261.9" r="2.5"/><circle cx="351.6" cy="261.9" r="2.5"/><circle cx="354.8" cy="266.0" r="2.5"/><circle cx="362.0" cy="263.5" r="2.5"/><circle cx="365.3" cy="266.0" r="2.5"/><circle cx="362.5" cy="271.3" r="2.5"/><circle cx="380.2" cy="270.4" r="2.5"/><circle cx="371.7" cy="274.8" r="2.5"/><circle cx="374.1" cy="275.6" r="2.5"/><circle cx="386.1" cy="276.7" r="2.5"/><circle cx="354.8" cy="272.4" r="2.5"/><circle cx="358.0" cy="276.4" r="2.5"/><circle cx="353.2" cy="278.0" r="2.5"/><circle cx="354.8" cy="281.2" r="2.5"/><circle cx="359.6" cy="286.0" r="2.5"/><circle cx="351.6" cy="286.0" r="2.5"/><circle cx="370.1" cy="280.4" r="2.5"/><circle cx="378.1" cy="281.2" r="2.5"/><circle cx="367.7" cy="286.8" r="2.5"/><circle cx="374.9" cy="285.2" r="2.5"/><circle cx="378.1" cy="288.4" r="2.5"/><circle cx="383.7" cy="283.6" r="2.5"/><circle cx="386.9" cy="282.0" r="2.5"/><circle cx="395.0" cy="280.4" r="2.5"/><circle cx="401.4" cy="276.7" r="2.5"/><circle cx="397.4" cy="282.0" r="2.5"/><circle cx="354.8" cy="294.1" r="2.5"/><circle cx="408.6" cy="286.5" r="2.5"/><circle cx="414.2" cy="280.4" r="2.5"/><circle cx="417.4" cy="288.4" r="2.5"/><circle cx="422.3" cy="276.7" r="2.5"/><circle cx="419.9" cy="282.0" r="2.5"/><circle cx="423.9" cy="281.2" r="2.5"/><circle cx="424.7" cy="286.5" r="2.5"/><circle cx="414.2" cy="284.4" r="2.5"/><circle cx="432.7" cy="292.1" r="2.5"/><circle cx="435.9" cy="274.8" r="2.5"/><circle cx="438.0" cy="278.0" r="2.5"/><circle cx="442.3" cy="272.9" r="2.5"/><circle cx="443.1" cy="277.7" r="2.5"/><circle cx="437.5" cy="281.2" r="2.5"/><circle cx="440.7" cy="283.6" r="2.5"/><circle cx="443.9" cy="286.0" r="2.5"/><circle cx="448.8" cy="272.9" r="2.5"/><circle cx="452.0" cy="271.6" r="2.5"/><circle cx="456.3" cy="278.8" r="2.5"/><circle cx="513.1" cy="245.2" r="2.5"/><circle cx="399.2" cy="249.4" r="2.5"/><circle cx="552.7" cy="241.4" r="2.5"/><circle cx="513.3" cy="264.6" r="2.5"/><circle cx="512.6" cy="271.0" r="2.5"/><circle cx="532.3" cy="274.3" r="2.5"/><circle cx="544.4" cy="271.8" r="2.5"/><circle cx="496.2" cy="278.2" r="2.5"/><circle cx="479.3" cy="272.8" r="2.5"/><circle cx="467.9" cy="275.3" r="2.5"/><circle cx="471.5" cy="280.7" r="2.5"/><circle cx="467.2" cy="287.1" r="2.5"/></g>
<line x1="28.5" y1="235.6" x2="651" y2="235.6" stroke="#000" stroke-width="1.3" stroke-dasharray="3 7.7"/>
<circle cx="425.4" cy="25.5" r="2.5" fill="#5b68c0"/>
<circle cx="506.3" cy="56.1" r="2.5" fill="#45c8e8"/>
<circle cx="425.1" cy="68" r="2.5" fill="#5b68c0"/>
<circle cx="429.3" cy="65.7" r="2.5" fill="#45c8e8"/>
<circle cx="366.3" cy="74.9" r="2.5" fill="#c4dc30"/>
<circle cx="387.6" cy="81.8" r="2.5" fill="#5b68c0"/>
<circle cx="444.9" cy="92.2" r="2.5" fill="#45c8e8"/>
<circle cx="459" cy="101.9" r="2.5" fill="#45c8e8"/>
<circle cx="450.5" cy="101.9" r="2.5" fill="#45c8e8"/>
<circle cx="453.1" cy="105.6" r="2.5" fill="#45c8e8"/>
<circle cx="484.7" cy="112.7" r="2.5" fill="#5b68c0"/>
<circle cx="498.1" cy="105.6" r="2.5" fill="#45c8e8"/>
<circle cx="536.1" cy="104.5" r="2.5" fill="#45c8e8"/>
<circle cx="516.4" cy="113" r="2.5" fill="#5b68c0"/>
<circle cx="459.3" cy="119.2" r="2.5" fill="#45c8e8"/>
<circle cx="470.4" cy="128.8" r="2.5" fill="#5b68c0"/>
<circle cx="486.6" cy="128.7" r="2.5" fill="#5b68c0"/>
<circle cx="503" cy="131.6" r="2.5" fill="#45c8e8"/>
<circle cx="602.4" cy="130.5" r="2.5" fill="#45c8e8"/>
<circle cx="548.5" cy="149.5" r="2.5" fill="#45c8e8"/>
<circle cx="480.4" cy="163" r="2.5" fill="#45c8e8"/>
<circle cx="611.2" cy="157.3" r="2.5" fill="#5b68c0"/>
<circle cx="497.3" cy="165.2" r="2.5" fill="#5b68c0"/>
<circle cx="525.6" cy="159.2" r="2.5" fill="#5b68c0"/>
<circle cx="500.8" cy="169.9" r="2.5" fill="#5b68c0"/>
<circle cx="540.6" cy="168.6" r="2.5" fill="#5b68c0"/>
<circle cx="529" cy="175.5" r="2.5" fill="#5b68c0"/>
<circle cx="525.6" cy="178" r="2.5" fill="#45c8e8"/>
<circle cx="504.5" cy="191.2" r="2.5" fill="#45c8e8"/>
<circle cx="537.5" cy="192.1" r="2.5" fill="#5b68c0"/>
<circle cx="488.2" cy="203.8" r="2.5" fill="#5b68c0"/>
<circle cx="520.2" cy="196.9" r="2.5" fill="#5b68c0"/>
<circle cx="577.7" cy="215.4" r="2.5" fill="#5b68c0"/>
<circle cx="506.7" cy="217.9" r="2.5" fill="#5b68c0"/>
<circle cx="479.3" cy="196.2" r="2.5" fill="#45c8e8"/>
<circle cx="442.6" cy="224.9" r="2.5" fill="#5b68c0"/>
<circle cx="444.7" cy="173.8" r="2.5" fill="#5b68c0"/>
<circle cx="452" cy="187.8" r="2.5" fill="#5b68c0"/>
<circle cx="436.6" cy="165.3" r="2.5" fill="#5b68c0"/>
<circle cx="431.3" cy="154.8" r="2.5" fill="#5b68c0"/>
<circle cx="414.7" cy="133.8" r="2.5" fill="#45c8e8"/>
<circle cx="408" cy="134.7" r="2.5" fill="#5b68c0"/>
<circle cx="398" cy="125" r="2.5" fill="#5b68c0"/>
<circle cx="415" cy="121.2" r="2.5" fill="#45c8e8"/>
<circle cx="400.4" cy="103.1" r="2.5" fill="#5b68c0"/>
<circle cx="361.5" cy="106.6" r="2.5" fill="#45c8e8"/>
<circle cx="388.4" cy="109.6" r="2.5" fill="#45c8e8"/>
<circle cx="119.3" cy="180.7" r="2.5" fill="#5b68c0"/>
<circle cx="126.4" cy="193.1" r="2.5" fill="#999a40"/>
<circle cx="84.4" cy="223.6" r="2.5" fill="#5b68c0"/>
<circle cx="60.7" cy="234.1" r="2.5" fill="#5b68c0"/>
<circle cx="113.3" cy="220.2" r="2.5" fill="#999a40"/>
<circle cx="113.8" cy="224.6" r="2.5" fill="#999a40"/>
<circle cx="191.6" cy="216.7" r="2.5" fill="#5b68c0"/>
<circle cx="126.4" cy="226.2" r="2.5" fill="#999a40"/>
<circle cx="127" cy="233.3" r="2.5" fill="#f05535"/>
<circle cx="129.8" cy="232" r="2.5" fill="#5b68c0"/>
<circle cx="148.8" cy="226.2" r="2.5" fill="#f05535"/>
<circle cx="156.6" cy="233.3" r="2.5" fill="#c4dc30"/>
<circle cx="165.3" cy="230.7" r="2.5" fill="#5b68c0"/>
<circle cx="175.6" cy="233.3" r="2.5" fill="#45c8e8"/>
<circle cx="279.7" cy="177.3" r="2.5" fill="#45c8e8"/>
<circle cx="324.4" cy="166.8" r="2.5" fill="#5b68c0"/>
<circle cx="329.7" cy="168.2" r="2.5" fill="#5b68c0"/>
<circle cx="333.7" cy="167.5" r="2.5" fill="#5b68c0"/>
<circle cx="337.9" cy="163.5" r="2.5" fill="#45c8e8"/>
<circle cx="324.8" cy="174.1" r="2.5" fill="#5b68c0"/>
<circle cx="335.3" cy="172.9" r="2.5" fill="#5b68c0"/>
<circle cx="337.7" cy="187.4" r="2.5" fill="#5b68c0"/>
<circle cx="298.7" cy="194.4" r="2.5" fill="#5b68c0"/>
<circle cx="306.1" cy="190.9" r="2.5" fill="#5b68c0"/>
<circle cx="314.3" cy="192" r="2.5" fill="#45c8e8"/>
<circle cx="312.7" cy="197.9" r="2.5" fill="#5b68c0"/>
<circle cx="320.9" cy="196.3" r="2.5" fill="#5b68c0"/>
<circle cx="321.3" cy="202.6" r="2.5" fill="#45c8e8"/>
<circle cx="328.3" cy="201.4" r="2.5" fill="#5b68c0"/>
<circle cx="337.2" cy="195.5" r="2.5" fill="#45c8e8"/>
<circle cx="337" cy="200.2" r="2.5" fill="#5b68c0"/>
<circle cx="301.5" cy="204.9" r="2.5" fill="#45c8e8"/>
<circle cx="306.1" cy="207.7" r="2.5" fill="#5b68c0"/>
<circle cx="311.3" cy="209.1" r="2.5" fill="#5b68c0"/>
<circle cx="316" cy="210.7" r="2.5" fill="#5b68c0"/>
<circle cx="321.3" cy="206.8" r="2.5" fill="#999a40"/>
<circle cx="323" cy="208.4" r="2.5" fill="#45c8e8"/>
<circle cx="332.3" cy="207.9" r="2.5" fill="#1e4a22"/>
<circle cx="336" cy="205.6" r="2.5" fill="#45c8e8"/>
<circle cx="321.3" cy="213.1" r="2.5" fill="#45c8e8"/>
<circle cx="326" cy="212.4" r="2.5" fill="#1e4a22"/>
<circle cx="334.2" cy="214.9" r="2.5" fill="#c4dc30"/>
<circle cx="338.8" cy="216.6" r="2.5" fill="#f05535"/>
<circle cx="292.1" cy="217.3" r="2.5" fill="#5b68c0"/>
<circle cx="301.9" cy="218.4" r="2.5" fill="#5b68c0"/>
<circle cx="300.3" cy="220.1" r="2.5" fill="#45c8e8"/>
<circle cx="312" cy="219.4" r="2.5" fill="#1e4a22"/>
<circle cx="319.7" cy="220.5" r="2.5" fill="#5b68c0"/>
<circle cx="321.3" cy="219.1" r="2.5" fill="#45c8e8"/>
<circle cx="310.8" cy="224.3" r="2.5" fill="#5b68c0"/>
<circle cx="309.6" cy="227.1" r="2.5" fill="#5b68c0"/>
<circle cx="308" cy="229.4" r="2.5" fill="#5b68c0"/>
<circle cx="296.1" cy="229" r="2.5" fill="#5b68c0"/>
<circle cx="300.8" cy="228.3" r="2.5" fill="#5b68c0"/>
<circle cx="305" cy="229" r="2.5" fill="#c4dc30"/>
<circle cx="315.9" cy="229" r="2.5" fill="#c4dc30"/>
<circle cx="323.7" cy="228.3" r="2.5" fill="#5b68c0"/>
<circle cx="315.9" cy="232.2" r="2.5" fill="#45c8e8"/>
<circle cx="322.5" cy="234.1" r="2.5" fill="#45c8e8"/>
<circle cx="301.5" cy="232.2" r="2.5" fill="#5b68c0"/>
<circle cx="302.6" cy="234.1" r="2.5" fill="#5b68c0"/>
<circle cx="287" cy="233.4" r="2.5" fill="#45c8e8"/>
<circle cx="290.3" cy="234.6" r="2.5" fill="#c4dc30"/>
<circle cx="296.1" cy="233.4" r="2.5" fill="#c4dc30"/>
<circle cx="271.8" cy="235.5" r="2.5" fill="#45c8e8"/>
<circle cx="327.2" cy="235.3" r="2.5" fill="#f05535"/>
<circle cx="330.7" cy="234.1" r="2.5" fill="#f05535"/>
<circle cx="324.8" cy="174.4" r="2.5" fill="#5b68c0"/>
<circle cx="335.3" cy="172.9" r="2.5" fill="#5b68c0"/>
<circle cx="345.1" cy="172.6" r="2.5" fill="#5b68c0"/>
<circle cx="351.8" cy="174.1" r="2.5" fill="#45c8e8"/>
<circle cx="359.4" cy="173.9" r="2.5" fill="#5b68c0"/>
<circle cx="369.9" cy="173.2" r="2.5" fill="#45c8e8"/>
<circle cx="367.7" cy="176.1" r="2.5" fill="#5b68c0"/>
<circle cx="369.3" cy="179.1" r="2.5" fill="#45c8e8"/>
<circle cx="388.6" cy="174.7" r="2.5" fill="#45c8e8"/>
<circle cx="413.4" cy="170" r="2.5" fill="#5b68c0"/>
<circle cx="351.4" cy="179.1" r="2.5" fill="#45c8e8"/>
<circle cx="348.9" cy="181.4" r="2.5" fill="#5b68c0"/>
<circle cx="356.2" cy="183.4" r="2.5" fill="#5b68c0"/>
<circle cx="386.4" cy="184.2" r="2.5" fill="#5b68c0"/>
<circle cx="337.8" cy="187.2" r="2.5" fill="#5b68c0"/>
<circle cx="347" cy="187.5" r="2.5" fill="#45c8e8"/>
<circle cx="402.8" cy="194.4" r="2.5" fill="#45c8e8"/>
<circle cx="321.2" cy="196.3" r="2.5" fill="#5b68c0"/>
<circle cx="337.2" cy="195.5" r="2.5" fill="#45c8e8"/>
<circle cx="328" cy="201" r="2.5" fill="#45c8e8"/>
<circle cx="328.5" cy="202.4" r="2.5" fill="#5b68c0"/>
<circle cx="321.5" cy="202.8" r="2.5" fill="#45c8e8"/>
<circle cx="325.1" cy="204.3" r="2.5" fill="#45c8e8"/>
<circle cx="337.2" cy="200.7" r="2.5" fill="#5b68c0"/>
<circle cx="339.3" cy="203.6" r="2.5" fill="#5b68c0"/>
<circle cx="336.5" cy="205.5" r="2.5" fill="#45c8e8"/>
<circle cx="350.4" cy="200.7" r="2.5" fill="#45c8e8"/>
<circle cx="358.7" cy="202.8" r="2.5" fill="#1e2470"/>
<circle cx="363.5" cy="204.3" r="2.5" fill="#45c8e8"/>
<circle cx="352.4" cy="207.2" r="2.5" fill="#45c8e8"/>
<circle cx="361.6" cy="209.1" r="2.5" fill="#45c8e8"/>
<circle cx="365.3" cy="210.1" r="2.5" fill="#5b68c0"/>
<circle cx="368.5" cy="212.3" r="2.5" fill="#5b68c0"/>
<circle cx="379.9" cy="208.7" r="2.5" fill="#45c8e8"/>
<circle cx="381" cy="208.2" r="2.5" fill="#5b68c0"/>
<circle cx="386" cy="214.8" r="2.5" fill="#45c8e8"/>
<circle cx="321.8" cy="207.2" r="2.5" fill="#999a40"/>
<circle cx="332.4" cy="208.2" r="2.5" fill="#1e4a22"/>
<circle cx="326.1" cy="212.6" r="2.5" fill="#1e4a22"/>
<circle cx="321.8" cy="213.1" r="2.5" fill="#45c8e8"/>
<circle cx="334.3" cy="215.5" r="2.5" fill="#c4dc30"/>
<circle cx="340" cy="216.7" r="2.5" fill="#f05535"/>
<circle cx="373.3" cy="216" r="2.5" fill="#c4dc30"/>
<circle cx="417.5" cy="211.6" r="2.5" fill="#f05535"/>
<circle cx="345.3" cy="219.2" r="2.5" fill="#5b68c0"/>
<circle cx="338.7" cy="219.6" r="2.5" fill="#5b68c0"/>
<circle cx="340.4" cy="223.3" r="2.5" fill="#5b68c0"/>
<circle cx="343.1" cy="222.6" r="2.5" fill="#45c8e8"/>
<circle cx="321.2" cy="220.4" r="2.5" fill="#5b68c0"/>
<circle cx="321.5" cy="218.9" r="2.5" fill="#45c8e8"/>
<circle cx="364.5" cy="222.8" r="2.5" fill="#f05535"/>
<circle cx="362.6" cy="226.5" r="2.5" fill="#f05535"/>
<circle cx="353.3" cy="224.7" r="2.5" fill="#5b68c0"/>
<circle cx="357.7" cy="224.3" r="2.5" fill="#45c8e8"/>
<circle cx="355.8" cy="224.3" r="2.5" fill="#f05535"/>
<circle cx="361.3" cy="228.8" r="2.5" fill="#5b68c0"/>
<circle cx="378.1" cy="225" r="2.5" fill="#f05535"/>
<circle cx="348.2" cy="226.2" r="2.5" fill="#c4dc30"/>
<circle cx="344.1" cy="230.1" r="2.5" fill="#c4dc30"/>
<circle cx="351.8" cy="232.5" r="2.5" fill="#f05535"/>
<circle cx="355.5" cy="235.7" r="2.5" fill="#999a40"/>
<circle cx="323.2" cy="228.7" r="2.5" fill="#5b68c0"/>
<circle cx="322.6" cy="234.2" r="2.5" fill="#45c8e8"/>
<circle cx="327.3" cy="235.4" r="2.5" fill="#f05535"/>
<circle cx="330.2" cy="234.2" r="2.5" fill="#f05535"/>
<circle cx="389.3" cy="234.2" r="2.5" fill="#5b68c0"/>
<circle cx="378.5" cy="142.6" r="2.5" fill="#5b68c0"/>
<circle cx="398.3" cy="147.2" r="2.5" fill="#45c8e8"/>
<circle cx="368.8" cy="146.4" r="2.5" fill="#45c8e8"/>
<circle cx="370.3" cy="151.3" r="2.5" fill="#45c8e8"/>
<circle cx="365.9" cy="153.6" r="2.5" fill="#5b68c0"/>
<circle cx="357.7" cy="158.6" r="2.5" fill="#5b68c0"/>
<circle cx="349.9" cy="156.3" r="2.5" fill="#5b68c0"/>
<circle cx="381.4" cy="158" r="2.5" fill="#45c8e8"/>
<circle cx="338.2" cy="163" r="2.5" fill="#45c8e8"/>
<circle cx="415.5" cy="163.9" r="2.5" fill="#5b68c0"/>
<circle cx="413.5" cy="169.4" r="2.5" fill="#5b68c0"/>
<circle cx="324.2" cy="166.8" r="2.5" fill="#5b68c0"/>
<circle cx="344.9" cy="172.6" r="2.5" fill="#5b68c0"/>
<circle cx="351.3" cy="174.1" r="2.5" fill="#45c8e8"/>
<circle cx="359.5" cy="174.1" r="2.5" fill="#5b68c0"/>
<circle cx="367.4" cy="176.1" r="2.5" fill="#5b68c0"/>
<circle cx="388.7" cy="174.7" r="2.5" fill="#45c8e8"/>
<circle cx="348.4" cy="182" r="2.5" fill="#5b68c0"/>
<circle cx="368.8" cy="179" r="2.5" fill="#45c8e8"/>
<circle cx="386.4" cy="184.3" r="2.5" fill="#5b68c0"/>
<circle cx="423.7" cy="178.5" r="2.5" fill="#5b68c0"/>
<circle cx="429.6" cy="181.4" r="2.5" fill="#5b68c0"/>
<circle cx="338.2" cy="187.2" r="2.5" fill="#5b68c0"/>
<circle cx="346.9" cy="187.2" r="2.5" fill="#45c8e8"/>
<circle cx="306.1" cy="191.3" r="2.5" fill="#5b68c0"/>
<circle cx="314.8" cy="192.2" r="2.5" fill="#45c8e8"/>
<circle cx="320.7" cy="196" r="2.5" fill="#5b68c0"/>
<circle cx="336.7" cy="195.1" r="2.5" fill="#45c8e8"/>
<circle cx="402.4" cy="194.2" r="2.5" fill="#45c8e8"/>
<circle cx="486.2" cy="128" r="2.5" fill="#5b68c0"/>
<circle cx="388.5" cy="109" r="2.5" fill="#45c8e8"/>
<circle cx="441.9" cy="203.2" r="2.5" fill="#5b68c0"/>
<circle cx="432.6" cy="214.4" r="2.5" fill="#5b68c0"/>
<circle cx="487.9" cy="222.6" r="2.5" fill="#45c8e8"/>
<circle cx="417.4" cy="211.3" r="2.5" fill="#f05535"/>
<circle cx="385.8" cy="214.4" r="2.5" fill="#45c8e8"/>
<circle cx="381.2" cy="208.1" r="2.5" fill="#5b68c0"/>
<circle cx="402.7" cy="194.1" r="2.5" fill="#45c8e8"/>
<circle cx="387" cy="184" r="2.5" fill="#5b68c0"/>
<circle cx="388.9" cy="174.2" r="2.5" fill="#45c8e8"/>
<circle cx="423.7" cy="178.6" r="2.5" fill="#5b68c0"/>
<circle cx="429.5" cy="181" r="2.5" fill="#5b68c0"/>
<circle cx="447.7" cy="180.5" r="2.5" fill="#5b68c0"/>
<circle cx="452.4" cy="188" r="2.5" fill="#5b68c0"/>
<circle cx="445.4" cy="173.5" r="2.5" fill="#5b68c0"/>
<circle cx="479.7" cy="208.1" r="2.5" fill="#5b68c0"/>
<circle cx="488.6" cy="203.9" r="2.5" fill="#5b68c0"/>
<circle cx="494.9" cy="208.5" r="2.5" fill="#5b68c0"/>
<circle cx="506.6" cy="217.9" r="2.5" fill="#5b68c0"/>
<circle cx="478.8" cy="195.9" r="2.5" fill="#45c8e8"/>
<circle cx="479.4" cy="207.8" r="2.5" fill="#5b68c0"/>
<circle cx="495.1" cy="208.5" r="2.5" fill="#5b68c0"/>
<circle cx="487.9" cy="222.6" r="2.5" fill="#45c8e8"/>
<line x1="432.9" y1="85.4" x2="450.9" y2="103.2" stroke="#000" stroke-width="0.85"/>
<line x1="480.4" y1="148.8" x2="480.4" y2="161.4" stroke="#000" stroke-width="0.85"/>
<line x1="488.2" y1="203.8" x2="511.4" y2="203.8" stroke="#000" stroke-width="0.85"/>
<line x1="520.2" y1="196.9" x2="553.2" y2="203.8" stroke="#000" stroke-width="0.85"/>
<line x1="506.7" y1="217.9" x2="518.6" y2="217.3" stroke="#000" stroke-width="0.85"/>
<text x="430.6" y="23.6" font-size="7.4" fill="#111" stroke="#111" text-anchor="start">PC O+P−44:1</text>
<text x="510" y="53.0" font-size="7.4" fill="#111" stroke="#111" text-anchor="start">1−acyl LPC 28:1</text>
<text x="430" y="59.9" font-size="7.4" fill="#111" stroke="#111" text-anchor="end">PC O−44:1</text>
<text x="433.7" y="63.8" font-size="7.4" fill="#111" stroke="#111" text-anchor="start">1−acyl LPC 25:0</text>
<text x="368" y="70.5" font-size="7.4" fill="#111" stroke="#111" text-anchor="middle">LPE P−22:1</text>
<text x="389.9" y="77.7" font-size="7.4" fill="#111" stroke="#111" text-anchor="start">PC O−43:1</text>
<text x="412" y="84.3" font-size="7.4" fill="#111" stroke="#111" text-anchor="start">1−acyl LPC 26:0</text>
<text x="450.5" y="91.3" font-size="7.4" fill="#111" stroke="#111" text-anchor="start">LPC 26:0</text>
<text x="463.5" y="100.3" font-size="7.4" fill="#111" stroke="#111" text-anchor="start">LPC 25:0</text>
<text x="464.3" y="109.2" font-size="7.4" fill="#111" stroke="#111" text-anchor="start">PC 47:5</text>
<text x="500.7" y="102.5" font-size="7.4" fill="#111" stroke="#111" text-anchor="start">LPC 28:0</text>
<text x="540.6" y="104.4" font-size="7.4" fill="#111" stroke="#111" text-anchor="start">LPC 27:0</text>
<text x="521.2" y="115.2" font-size="7.4" fill="#111" stroke="#111" text-anchor="start">PC 52:2</text>
<text x="451.2" y="117.3" font-size="7.4" fill="#111" stroke="#111" text-anchor="start">LPC 28:1</text>
<text x="438.9" y="130.5" font-size="7.4" fill="#111" stroke="#111" text-anchor="start">PC 46:3</text>
<text x="491.4" y="125.6" font-size="7.4" fill="#111" stroke="#111" text-anchor="start">PC 48:5</text>
<text x="514.9" y="132.3" font-size="7.4" fill="#111" stroke="#111" text-anchor="start">1−acyl LPC 32:0</text>
<text x="605.7" y="128.2" font-size="7.4" fill="#111" stroke="#111" text-anchor="start">LPC 32:0</text>
<text x="552.2" y="146.6" font-size="7.4" fill="#111" stroke="#111" text-anchor="start">LPC 30:0</text>
<text x="473.8" y="147.6" font-size="7.4" fill="#111" stroke="#111" text-anchor="start">1−acyl LPC 28:0</text>
<text x="615" y="156.0" font-size="7.4" fill="#111" stroke="#111" text-anchor="start">PC 50:5</text>
<text x="497.3" y="161.4" font-size="7.4" fill="#111" stroke="#111" text-anchor="start">PC 48:1</text>
<text x="529.6" y="157.6" font-size="7.4" fill="#111" stroke="#111" text-anchor="start">PC O−46:1</text>
<text x="506.1" y="170.2" font-size="7.4" fill="#111" stroke="#111" text-anchor="start">PC 45:2</text>
<text x="546" y="170.2" font-size="7.4" fill="#111" stroke="#111" text-anchor="start">PC O−48:1</text>
<text x="533.7" y="181.1" font-size="7.4" fill="#111" stroke="#111" text-anchor="start">PC 48:4</text>
<text x="491" y="188.4" font-size="7.4" fill="#111" stroke="#111" text-anchor="start">1−acyl LPC 27:0</text>
<text x="542.8" y="192.8" font-size="7.4" fill="#111" stroke="#111" text-anchor="start">PC 50:6</text>
<text x="512.4" y="207.8" font-size="7.4" fill="#111" stroke="#111" text-anchor="start">PC 48:3</text>
<text x="554.7" y="207.8" font-size="7.4" fill="#111" stroke="#111" text-anchor="start">PC 52:3</text>
<text x="581.4" y="214.7" font-size="7.4" fill="#111" stroke="#111" text-anchor="start">PC 52:4</text>
<text x="520.2" y="219.8" font-size="7.4" fill="#111" stroke="#111" text-anchor="start">PC 50:4</text>
<text x="445.4" y="218.8" font-size="7.4" fill="#111" stroke="#111" text-anchor="start">1−acyl LPC 29:0</text>
<text x="438.4" y="199.4" font-size="7.4" fill="#111" stroke="#111" text-anchor="start">LPC 29:0</text>
<text x="430.2" y="222.3" font-size="7.4" fill="#111" stroke="#111" text-anchor="start">PC O−48:3</text>
<text x="451.2" y="173.7" font-size="7.4" fill="#111" stroke="#111" text-anchor="start">PC 44:1</text>
<text x="457.8" y="186.5" font-size="7.4" fill="#111" stroke="#111" text-anchor="start">PC 48:7</text>
<text x="436" y="161.7" font-size="7.4" fill="#111" stroke="#111" text-anchor="start">PC O−45:2</text>
<text x="418.5" y="150.3" font-size="7.4" fill="#111" stroke="#111" text-anchor="start">PC 46:2</text>
<text x="419" y="138.6" font-size="7.4" fill="#111" stroke="#111" text-anchor="start">1−acyl LPC 31:0</text>
<text x="377" y="138.6" font-size="7.4" fill="#111" stroke="#111" text-anchor="start">PC 46:1</text>
<text x="345.5" y="129.9" font-size="7.4" fill="#111" stroke="#111" text-anchor="start">PC O+P−48:5</text>
<text x="346.4" y="120.8" font-size="7.4" fill="#111" stroke="#111" text-anchor="start">1−acyl LPC 25:1</text>
<text x="412" y="117.3" font-size="7.4" fill="#111" stroke="#111" text-anchor="start">LPC 26:1</text>
<text x="390.7" y="98.3" font-size="7.4" fill="#111" stroke="#111" text-anchor="start">PC O−42:0</text>
<text x="301.1" y="105.6" font-size="7.4" fill="#111" stroke="#111" text-anchor="start">1−acyl LPC 23:0</text>
<text x="105.4" y="174.8" font-size="7.4" fill="#111" stroke="#111" text-anchor="middle">PC 36:5</text>
<text x="123" y="193.0" font-size="7.4" fill="#111" stroke="#111" text-anchor="end">PE O+P−37:7</text>
<text x="61.3" y="219.0" font-size="7.4" fill="#111" stroke="#111" text-anchor="middle">PC O+P−37:6</text>
<text x="50.2" y="229.2" font-size="7.4" fill="#111" stroke="#111" text-anchor="middle">PC P−33:2</text>
<text x="117.2" y="214.8" font-size="7.4" fill="#111" stroke="#111" text-anchor="middle">PE O+P−35:5</text>
<text x="177.1" y="212.7" font-size="7.4" fill="#111" stroke="#111" text-anchor="middle">PC 38:3</text>
<text x="651.4" y="233.5" font-size="7.4" fill="#111" stroke="#111" text-anchor="end"><tspan font-style="italic">P</tspan><tspan dx="1.6">&lt;0.05</tspan></text>
<line x1="28.8" y1="6" x2="28.8" y2="324" stroke="#111" stroke-width="1.3"/>
<line x1="28.2" y1="323.5" x2="651.7" y2="323.5" stroke="#222" stroke-width="1.3"/>
<text x="37" y="13.3" font-size="8.6" fill="#111" stroke="#111">Class</text>
<circle cx="39.9" cy="20.1" r="2.9" fill="#8e3fa8"/>
<text x="50.9" y="22.5" font-size="6.6" fill="#111" stroke="#111">GM</text>
<circle cx="39.9" cy="28.4" r="2.9" fill="#1e4a22"/>
<text x="50.9" y="30.8" font-size="6.6" fill="#111" stroke="#111">HexCer</text>
<circle cx="39.9" cy="36.8" r="2.9" fill="#45c8e8"/>
<text x="50.9" y="39.2" font-size="6.6" fill="#111" stroke="#111">LPC</text>
<circle cx="39.9" cy="45.1" r="2.9" fill="#c4dc30"/>
<text x="50.9" y="47.5" font-size="6.6" fill="#111" stroke="#111">LPE</text>
<circle cx="39.9" cy="53.4" r="2.9" fill="#aaaaaa"/>
<text x="50.9" y="55.8" font-size="6.6" fill="#111" stroke="#111">Other</text>
<circle cx="39.9" cy="61.8" r="2.9" fill="#5b68c0"/>
<text x="50.9" y="64.2" font-size="6.6" fill="#111" stroke="#111">PC</text>
<circle cx="39.9" cy="70.1" r="2.9" fill="#999a40"/>
<text x="50.9" y="72.5" font-size="6.6" fill="#111" stroke="#111">PE</text>
<circle cx="39.9" cy="78.4" r="2.9" fill="#1e2470"/>
<text x="50.9" y="80.8" font-size="6.6" fill="#111" stroke="#111">SM</text>
<circle cx="39.9" cy="86.7" r="2.9" fill="#f05535"/>
<text x="50.9" y="89.1" font-size="6.6" fill="#111" stroke="#111">TG</text>
</svg></body></html>
